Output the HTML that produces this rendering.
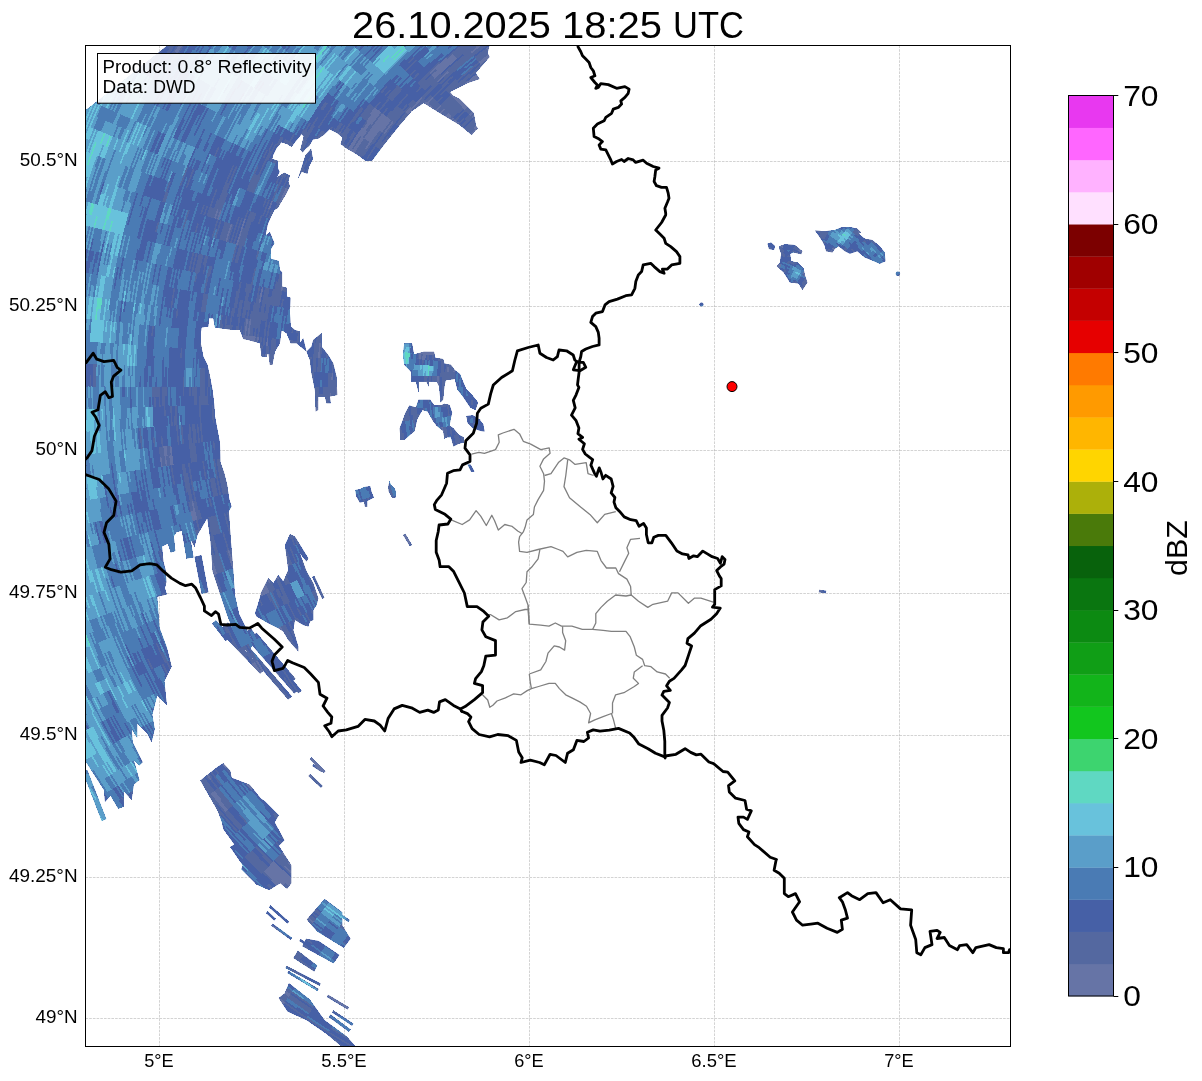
<!DOCTYPE html>
<html><head><meta charset="utf-8"><style>
html,body{margin:0;padding:0;background:#fff;}
svg{display:block;}
text{font-family:"Liberation Sans",sans-serif;}
.t{opacity:0.999;}
</style></head><body>
<svg width="1202" height="1081" viewBox="0 0 1202 1081">
<rect width="1202" height="1081" fill="#fff"/>
<defs>
<clipPath id="ax"><rect x="85.5" y="45.5" width="925" height="1001"/></clipPath>
<clipPath id="m">
<polygon points="168,45 489.6,45 487.6,53 489.6,57 475.7,73 479.6,79 467.7,83 447.7,93 459.7,99 473.7,113 476.7,129 471.7,135 459.7,125 439.7,113 423.7,103 411.8,111 399.8,125 383.8,145 371.8,161 365.8,161 357.8,155 345.9,148 340.7,144.1 342.5,137.6 337,133 329.6,129.3 324,134.8 318.5,138.5 312.9,139.4 309.2,145.9 305.5,148.7 302.7,152.4 300.4,149.6 303.7,136.7 301.8,133.9 296.3,140.4 291.6,146.8 287,144.1 281.5,142.2 276.8,147.8 273.1,155.2 272.2,158.9 277.8,160.7 277.8,168.1 279.6,171.8 276.8,177.4 284.2,172.7 289.8,175.5 288.4,181.1 289.8,186.6 286.1,194 280.5,203.3 277.8,207.9 274.4,210 271,216.7 267.7,224.4 265.5,235.5 269.9,232.2 274.4,243.3 271,248.9 271,258.8 278.8,261.1 279.9,270 282.1,272.2 282.1,286.6 286.6,287.7 286.6,296.6 290.5,297.7 289.9,312.1 290.7,326.6 294.9,330 299.9,331.6 299.9,343.3 303.2,338.3 306.5,351.6 296.5,343.3 290.7,343.3 286.6,333.3 281.6,330 279.9,343.3 274.9,351.6 272.4,364.9 269.9,364.9 268.2,351.6 266.6,356.6 261.6,356.6 259.9,343.3 248.3,340 243.3,339.1 239.9,330 233.3,330 215,327.5 213.3,318.3 209.1,318.3 208.3,326.6 201.6,327.5 200.8,333.3 200.8,343.3 203.3,356.6 207.5,365 210,376.6 212.5,389.9 214.1,403.2 215,416.6 217.5,429.9 220,443.2 220.4,462.2 224.1,472.6 227.1,484.4 229.3,499.2 231.5,506.6 227.1,514 221.2,517 215.3,512.5 209.3,514 207.9,517 197.5,534.7 194.5,546.6 188.6,536.2 185.7,530.3 176.8,531.8 173.8,536.2 175.3,551 170.8,552.5 167.9,543.6 162,546.6 163.4,561.4 165.7,570.3 166.4,582.1 164.9,588 166.8,594.4 157.2,596.8 159.6,628.1 166.8,647.3 171.6,666.6 164.4,681 166.8,705.1 157.2,695.4 152.3,714.7 154.7,729.1 151.6,742.2 147.2,733.3 137.2,723.3 137.2,737.8 131.6,728.9 132.7,742.2 142.7,762.2 139.4,765.5 133.8,760 139.4,780 133.8,784.4 131.6,799.9 123.8,791 123.8,806.6 118.3,808.8 110.5,795.5 105,802.1 104,790 86,762 85,762 85,110 88.3,108.2"/>
<polygon points="306.5,351.6 311.5,346.6 313.2,340 321.5,333.3 321.5,346.6 328.2,355 333.2,363.3 336.5,376.6 337.3,394.9 329.9,396.6 330.7,403.2 326.5,403.2 324.9,396.6 318.2,396.6 318.2,409.9 315.7,411.6 314.9,389.9 311.5,373.3 309.9,360"/>
<polygon points="298.1,178.3 305.5,155.2 311.1,148.7 312.9,158.9 309.2,166.3 307.4,173.7 301.8,171.8"/>
<polygon points="290,534.2 294.9,536.6 308.3,558.3 306.6,561.6 299.9,553.3 306.6,571.6 313.3,583.3 318.3,598.3 316.6,604.9 313.3,609.9 313.3,619.9 309.9,621.6 308.3,626.6 303.3,624.9 294.9,619.9 293.3,629.9 298.3,646.5 298.3,651.5 288.3,639.9 283.3,631.6 278.3,628.2 268.3,623.2 256.6,616.6 255,613.2 258.3,603.2 261.6,591.6 268.3,578.3 273.3,583.3 278.3,574.9 283.3,581.6 288.3,569.9 285,545"/>
<polygon points="223.3,763.2 230.2,770.8 231.6,777.8 249.7,784.7 260.8,798.6 264.9,801.3 278.8,815.2 274.6,822.2 284.4,840.2 278.8,845.7 291.3,865.2 291.3,883.2 287.1,888.8 280.2,883.2 269.1,890.1 256.6,884.6 241.3,869.3 242.7,865.2 230.2,847.1 234.4,844.4 223.3,829.1 221.9,822.2 217.8,811.1 206.7,791.6 200.4,780.5 205.3,776.4 210.8,772.2 217.8,766.7"/>
<polygon points="306.8,919.6 324.6,898.9 342.3,912.2 342.3,925.5 350.5,938.8 343.8,947.7 329,938.8 317.2,931.4"/>
<polygon points="306.1,938.8 318.6,941.1 339.4,955.1 333.5,963.3 302.4,946.2"/>
<polygon points="297.9,950.7 317.2,965.5 314.2,971.4 293.5,958.1"/>
<polygon points="289,983.3 309.8,999.5 324.6,1020.3 334.9,1027.7 346.8,1036.5 356,1047 342.3,1047 326,1033.6 306.8,1020.3 287.6,1011.4 278.7,998.1 284.6,993.6"/>
<polygon points="404.2,343.4 412,343.4 414,354.4 423.7,351.8 434,351.8 435.3,357.7 443.1,359 444.4,363.5 450.9,364.8 454.8,370 460,373.9 462.5,380.3 466.4,389.4 472.9,395.9 478.1,402.4 475.5,410.1 470.3,407.5 462.5,395.9 457.4,389.4 454.8,379 445.7,380.3 444.4,386.8 443.1,399.8 440.5,402.4 439.2,386.8 436.6,381.6 428.9,381.6 428.9,386.8 426.3,381.6 418.5,381.6 418.5,392 415.9,381.6 411.4,381.6 411.4,372.6 409.4,370 404.2,364.8 403,354.4"/>
<polygon points="418.5,399.8 430.2,399.8 434,405 441.8,405 444.4,403.7 449.6,405 452.2,412.7 450.9,417.9 449.6,425.7 453.5,428.3 458.7,434.7 463.8,437.3 463.8,442.5 458.7,443.8 453.5,446.4 450.9,437.3 447,437.3 444.4,438.6 443.1,430.9 436.6,425.7 432.7,420.5 427.6,411.4 422.4,410.1 417.2,419.2 414.6,430.9 404.2,439.9 400.4,439.9 399.7,428.3 401.7,423.1 405.5,412.7 409.4,405.6 415.9,407.5"/>
<polygon points="466.4,416 472.9,415.3 479.4,419.2 483.3,424.4 484.6,431.5 480.7,430.9 472.9,428.3 467.7,423.1"/>
<polygon points="467.5,464.5 470.5,464.5 474.5,471.5 471,471.5"/>
<polygon points="355.4,490 359.8,489.2 364.2,487 370.2,486.3 371.6,492.2 373.9,497.4 367.2,501.1 367.2,507 365,507 364.2,501.8 359.8,502.6 356.1,495.9"/>
<polygon points="389.4,481.1 390.9,484.8 394.6,488.5 396.1,492.2 395.3,498.1 392.4,498.1 388.7,491.5 388.3,487"/>
<polygon points="779.3,246.2 785,244.3 794.9,245 802.4,251.2 801.2,254.3 793.7,252.4 790,253.7 791.2,261.2 797.4,262.4 803.7,268.7 804.9,274.9 807.4,282.4 802.4,289.9 798.7,283.6 790,282.4 783.7,272.4 776.8,266.2 780,262.4 781.2,253.7 779.3,248.7"/>
<polygon points="767.5,243.7 771,242.5 775,246 774,250 769,249"/>
<polygon points="814.9,230.6 824.9,231.2 834.9,230 841.1,227.5 849.9,226.9 857.3,228.7 861.1,232.5 858.6,233.7 864.8,238.7 872.3,240 879.8,246.2 884.8,252.4 885.4,261.2 879.8,263.7 871.1,259.9 864.8,257.4 857.3,251.2 849.9,253.7 844.9,251.2 838.6,246.2 834.9,248.7 832.4,252.4 826.1,251.2 824.9,246.2 822.4,241.2 817.4,233.7"/>
<polygon points="206.5,512.2 228.9,512.2 230.9,540.7 233,567.2 235,595.7 239.1,614.1 247.2,630.3 253.3,642.6 250,650 247.2,650.7 241.1,642.6 233,630.3 226.8,614.1 220.7,595.7 212.6,571.3 210.5,540.7"/>
<polygon points="82.7,771.9 101.7,820.9 106.3,819.1 87.3,770.1"/>
<polygon points="181.5,528.6 186.5,558.6 193.5,557.4 188.5,527.4"/>
<polygon points="194.6,556.7 201.6,593.7 208.4,592.3 201.4,555.3"/>
<polygon points="212.6,624.1 225.6,641.1 228.4,638.9 215.4,621.9"/>
<polygon points="222.2,627.7 244.2,650.7 247.8,647.3 225.8,624.3"/>
<polygon points="247,631.4 268,661.4 272,658.6 251,628.6"/>
<polygon points="256.4,641.3 298.4,693.3 301.6,690.7 259.6,638.7"/>
<polygon points="212.2,623.7 260.2,673.7 263.8,670.3 215.8,620.3"/>
<polygon points="224.1,625.6 288.1,699.6 291.9,696.4 227.9,622.4"/>
<polygon points="238.3,629.5 294.3,693.5 297.7,690.5 241.7,626.5"/>
<polygon points="253.5,635.3 292.5,681.3 295.5,678.7 256.5,632.7"/>
<polygon points="312.2,577.1 322.2,598.8 324.4,597.8 314.4,576.1"/>
<polygon points="445.7,94.5 474,131.5 478,128.5 449.7,91.5"/>
<polygon points="309.8,759.2 323.7,773.1 325.5,771.3 311.6,757.4"/>
<polygon points="308.4,775.9 320.9,787.7 322.7,785.9 310.2,774.1"/>
<polygon points="312.3,766 321.3,772 322.7,770 313.7,764"/>
<polygon points="269,907.2 287.5,923.5 289.1,921.7 270.6,905.4"/>
<polygon points="266,913.1 274.2,920.5 275.8,918.7 267.6,911.3"/>
<polygon points="271.3,925.8 290.6,939.8 292,937.8 272.7,923.8"/>
<polygon points="326.9,996.9 347.7,1009.5 348.9,1007.3 328.1,994.7"/>
<polygon points="332,1012.4 352,1025.7 353.4,1023.7 333.4,1010.4"/>
<polygon points="328.8,1017 348.8,1031.8 350.6,1029.4 330.6,1014.6"/>
<polygon points="285.5,968.1 319.5,985.8 320.7,983.6 286.7,965.9"/>
<polygon points="287.4,973.1 317.4,991.1 318.6,988.9 288.6,970.9"/>
<polygon points="340.1,916.2 348.3,922 349.7,920 341.5,914.2"/>
<polygon points="299.3,941 329.3,961 330.7,959 300.7,939"/>
<polygon points="403.1,535 409.8,546.1 412,544.9 405.3,533.8"/>
<polygon points="818.8,592.2 825.8,593.2 826.2,590.8 819.2,589.8"/>
<circle cx="897.9" cy="273.7" r="2.2"/>
<circle cx="701.5" cy="304.5" r="2"/>
</clipPath>
</defs>
<g clip-path="url(#ax)">
<g stroke="#808080" stroke-opacity="0.5" stroke-width="0.7" stroke-dasharray="2.6 1.1" fill="none">
<line x1="85.5" y1="161.5" x2="1010.5" y2="161.5"/>
<line x1="85.5" y1="306.5" x2="1010.5" y2="306.5"/>
<line x1="85.5" y1="450.5" x2="1010.5" y2="450.5"/>
<line x1="85.5" y1="593.5" x2="1010.5" y2="593.5"/>
<line x1="85.5" y1="735.5" x2="1010.5" y2="735.5"/>
<line x1="85.5" y1="877.5" x2="1010.5" y2="877.5"/>
<line x1="85.5" y1="1018.5" x2="1010.5" y2="1018.5"/>
<line x1="159.5" y1="45.5" x2="159.5" y2="1046.5"/>
<line x1="344.5" y1="45.5" x2="344.5" y2="1046.5"/>
<line x1="529.5" y1="45.5" x2="529.5" y2="1046.5"/>
<line x1="714.5" y1="45.5" x2="714.5" y2="1046.5"/>
<line x1="899.5" y1="45.5" x2="899.5" y2="1046.5"/>
</g>
<g fill="#4e6aac" shape-rendering="crispEdges">
<polygon points="168,45 489.6,45 487.6,53 489.6,57 475.7,73 479.6,79 467.7,83 447.7,93 459.7,99 473.7,113 476.7,129 471.7,135 459.7,125 439.7,113 423.7,103 411.8,111 399.8,125 383.8,145 371.8,161 365.8,161 357.8,155 345.9,148 340.7,144.1 342.5,137.6 337,133 329.6,129.3 324,134.8 318.5,138.5 312.9,139.4 309.2,145.9 305.5,148.7 302.7,152.4 300.4,149.6 303.7,136.7 301.8,133.9 296.3,140.4 291.6,146.8 287,144.1 281.5,142.2 276.8,147.8 273.1,155.2 272.2,158.9 277.8,160.7 277.8,168.1 279.6,171.8 276.8,177.4 284.2,172.7 289.8,175.5 288.4,181.1 289.8,186.6 286.1,194 280.5,203.3 277.8,207.9 274.4,210 271,216.7 267.7,224.4 265.5,235.5 269.9,232.2 274.4,243.3 271,248.9 271,258.8 278.8,261.1 279.9,270 282.1,272.2 282.1,286.6 286.6,287.7 286.6,296.6 290.5,297.7 289.9,312.1 290.7,326.6 294.9,330 299.9,331.6 299.9,343.3 303.2,338.3 306.5,351.6 296.5,343.3 290.7,343.3 286.6,333.3 281.6,330 279.9,343.3 274.9,351.6 272.4,364.9 269.9,364.9 268.2,351.6 266.6,356.6 261.6,356.6 259.9,343.3 248.3,340 243.3,339.1 239.9,330 233.3,330 215,327.5 213.3,318.3 209.1,318.3 208.3,326.6 201.6,327.5 200.8,333.3 200.8,343.3 203.3,356.6 207.5,365 210,376.6 212.5,389.9 214.1,403.2 215,416.6 217.5,429.9 220,443.2 220.4,462.2 224.1,472.6 227.1,484.4 229.3,499.2 231.5,506.6 227.1,514 221.2,517 215.3,512.5 209.3,514 207.9,517 197.5,534.7 194.5,546.6 188.6,536.2 185.7,530.3 176.8,531.8 173.8,536.2 175.3,551 170.8,552.5 167.9,543.6 162,546.6 163.4,561.4 165.7,570.3 166.4,582.1 164.9,588 166.8,594.4 157.2,596.8 159.6,628.1 166.8,647.3 171.6,666.6 164.4,681 166.8,705.1 157.2,695.4 152.3,714.7 154.7,729.1 151.6,742.2 147.2,733.3 137.2,723.3 137.2,737.8 131.6,728.9 132.7,742.2 142.7,762.2 139.4,765.5 133.8,760 139.4,780 133.8,784.4 131.6,799.9 123.8,791 123.8,806.6 118.3,808.8 110.5,795.5 105,802.1 104,790 86,762 85,762 85,110 88.3,108.2"/>
<polygon points="306.5,351.6 311.5,346.6 313.2,340 321.5,333.3 321.5,346.6 328.2,355 333.2,363.3 336.5,376.6 337.3,394.9 329.9,396.6 330.7,403.2 326.5,403.2 324.9,396.6 318.2,396.6 318.2,409.9 315.7,411.6 314.9,389.9 311.5,373.3 309.9,360"/>
<polygon points="298.1,178.3 305.5,155.2 311.1,148.7 312.9,158.9 309.2,166.3 307.4,173.7 301.8,171.8"/>
<polygon points="290,534.2 294.9,536.6 308.3,558.3 306.6,561.6 299.9,553.3 306.6,571.6 313.3,583.3 318.3,598.3 316.6,604.9 313.3,609.9 313.3,619.9 309.9,621.6 308.3,626.6 303.3,624.9 294.9,619.9 293.3,629.9 298.3,646.5 298.3,651.5 288.3,639.9 283.3,631.6 278.3,628.2 268.3,623.2 256.6,616.6 255,613.2 258.3,603.2 261.6,591.6 268.3,578.3 273.3,583.3 278.3,574.9 283.3,581.6 288.3,569.9 285,545"/>
<polygon points="223.3,763.2 230.2,770.8 231.6,777.8 249.7,784.7 260.8,798.6 264.9,801.3 278.8,815.2 274.6,822.2 284.4,840.2 278.8,845.7 291.3,865.2 291.3,883.2 287.1,888.8 280.2,883.2 269.1,890.1 256.6,884.6 241.3,869.3 242.7,865.2 230.2,847.1 234.4,844.4 223.3,829.1 221.9,822.2 217.8,811.1 206.7,791.6 200.4,780.5 205.3,776.4 210.8,772.2 217.8,766.7"/>
<polygon points="306.8,919.6 324.6,898.9 342.3,912.2 342.3,925.5 350.5,938.8 343.8,947.7 329,938.8 317.2,931.4"/>
<polygon points="306.1,938.8 318.6,941.1 339.4,955.1 333.5,963.3 302.4,946.2"/>
<polygon points="297.9,950.7 317.2,965.5 314.2,971.4 293.5,958.1"/>
<polygon points="289,983.3 309.8,999.5 324.6,1020.3 334.9,1027.7 346.8,1036.5 356,1047 342.3,1047 326,1033.6 306.8,1020.3 287.6,1011.4 278.7,998.1 284.6,993.6"/>
<polygon points="404.2,343.4 412,343.4 414,354.4 423.7,351.8 434,351.8 435.3,357.7 443.1,359 444.4,363.5 450.9,364.8 454.8,370 460,373.9 462.5,380.3 466.4,389.4 472.9,395.9 478.1,402.4 475.5,410.1 470.3,407.5 462.5,395.9 457.4,389.4 454.8,379 445.7,380.3 444.4,386.8 443.1,399.8 440.5,402.4 439.2,386.8 436.6,381.6 428.9,381.6 428.9,386.8 426.3,381.6 418.5,381.6 418.5,392 415.9,381.6 411.4,381.6 411.4,372.6 409.4,370 404.2,364.8 403,354.4"/>
<polygon points="418.5,399.8 430.2,399.8 434,405 441.8,405 444.4,403.7 449.6,405 452.2,412.7 450.9,417.9 449.6,425.7 453.5,428.3 458.7,434.7 463.8,437.3 463.8,442.5 458.7,443.8 453.5,446.4 450.9,437.3 447,437.3 444.4,438.6 443.1,430.9 436.6,425.7 432.7,420.5 427.6,411.4 422.4,410.1 417.2,419.2 414.6,430.9 404.2,439.9 400.4,439.9 399.7,428.3 401.7,423.1 405.5,412.7 409.4,405.6 415.9,407.5"/>
<polygon points="466.4,416 472.9,415.3 479.4,419.2 483.3,424.4 484.6,431.5 480.7,430.9 472.9,428.3 467.7,423.1"/>
<polygon points="467.5,464.5 470.5,464.5 474.5,471.5 471,471.5"/>
<polygon points="355.4,490 359.8,489.2 364.2,487 370.2,486.3 371.6,492.2 373.9,497.4 367.2,501.1 367.2,507 365,507 364.2,501.8 359.8,502.6 356.1,495.9"/>
<polygon points="389.4,481.1 390.9,484.8 394.6,488.5 396.1,492.2 395.3,498.1 392.4,498.1 388.7,491.5 388.3,487"/>
<polygon points="779.3,246.2 785,244.3 794.9,245 802.4,251.2 801.2,254.3 793.7,252.4 790,253.7 791.2,261.2 797.4,262.4 803.7,268.7 804.9,274.9 807.4,282.4 802.4,289.9 798.7,283.6 790,282.4 783.7,272.4 776.8,266.2 780,262.4 781.2,253.7 779.3,248.7"/>
<polygon points="767.5,243.7 771,242.5 775,246 774,250 769,249"/>
<polygon points="814.9,230.6 824.9,231.2 834.9,230 841.1,227.5 849.9,226.9 857.3,228.7 861.1,232.5 858.6,233.7 864.8,238.7 872.3,240 879.8,246.2 884.8,252.4 885.4,261.2 879.8,263.7 871.1,259.9 864.8,257.4 857.3,251.2 849.9,253.7 844.9,251.2 838.6,246.2 834.9,248.7 832.4,252.4 826.1,251.2 824.9,246.2 822.4,241.2 817.4,233.7"/>
<polygon points="206.5,512.2 228.9,512.2 230.9,540.7 233,567.2 235,595.7 239.1,614.1 247.2,630.3 253.3,642.6 250,650 247.2,650.7 241.1,642.6 233,630.3 226.8,614.1 220.7,595.7 212.6,571.3 210.5,540.7"/>
<polygon points="82.7,771.9 101.7,820.9 106.3,819.1 87.3,770.1"/>
<polygon points="181.5,528.6 186.5,558.6 193.5,557.4 188.5,527.4"/>
<polygon points="194.6,556.7 201.6,593.7 208.4,592.3 201.4,555.3"/>
<polygon points="212.6,624.1 225.6,641.1 228.4,638.9 215.4,621.9"/>
<polygon points="222.2,627.7 244.2,650.7 247.8,647.3 225.8,624.3"/>
<polygon points="247,631.4 268,661.4 272,658.6 251,628.6"/>
<polygon points="256.4,641.3 298.4,693.3 301.6,690.7 259.6,638.7"/>
<polygon points="212.2,623.7 260.2,673.7 263.8,670.3 215.8,620.3"/>
<polygon points="224.1,625.6 288.1,699.6 291.9,696.4 227.9,622.4"/>
<polygon points="238.3,629.5 294.3,693.5 297.7,690.5 241.7,626.5"/>
<polygon points="253.5,635.3 292.5,681.3 295.5,678.7 256.5,632.7"/>
<polygon points="312.2,577.1 322.2,598.8 324.4,597.8 314.4,576.1"/>
<polygon points="445.7,94.5 474,131.5 478,128.5 449.7,91.5"/>
<polygon points="309.8,759.2 323.7,773.1 325.5,771.3 311.6,757.4"/>
<polygon points="308.4,775.9 320.9,787.7 322.7,785.9 310.2,774.1"/>
<polygon points="312.3,766 321.3,772 322.7,770 313.7,764"/>
<polygon points="269,907.2 287.5,923.5 289.1,921.7 270.6,905.4"/>
<polygon points="266,913.1 274.2,920.5 275.8,918.7 267.6,911.3"/>
<polygon points="271.3,925.8 290.6,939.8 292,937.8 272.7,923.8"/>
<polygon points="326.9,996.9 347.7,1009.5 348.9,1007.3 328.1,994.7"/>
<polygon points="332,1012.4 352,1025.7 353.4,1023.7 333.4,1010.4"/>
<polygon points="328.8,1017 348.8,1031.8 350.6,1029.4 330.6,1014.6"/>
<polygon points="285.5,968.1 319.5,985.8 320.7,983.6 286.7,965.9"/>
<polygon points="287.4,973.1 317.4,991.1 318.6,988.9 288.6,970.9"/>
<polygon points="340.1,916.2 348.3,922 349.7,920 341.5,914.2"/>
<polygon points="299.3,941 329.3,961 330.7,959 300.7,939"/>
<polygon points="403.1,535 409.8,546.1 412,544.9 405.3,533.8"/>
<polygon points="818.8,592.2 825.8,593.2 826.2,590.8 819.2,589.8"/>
<circle cx="897.9" cy="273.7" r="2.2"/>
<circle cx="701.5" cy="304.5" r="2"/>
</g>
<g clip-path="url(#m)"><g transform="translate(732.0 386.6)" fill="none" stroke-width="2.0" shape-rendering="crispEdges">
<circle r="81.6" pathLength="360" stroke="#5468a0" stroke-dasharray="0 247 4 109"/>
<circle r="83.2" pathLength="360" stroke="#4660a6" stroke-dasharray="0 247 1 2 1 109"/>
<circle r="83.2" pathLength="360" stroke="#5468a0" stroke-dasharray="0 248 2 1 2 107"/>
<circle r="84.8" pathLength="360" stroke="#4660a6" stroke-dasharray="0 246 1 2 1 110"/>
<circle r="84.8" pathLength="360" stroke="#4a7bb4" stroke-dasharray="0 247 2 111"/>
<circle r="84.8" pathLength="360" stroke="#5468a0" stroke-dasharray="0 250 4 106"/>
<circle r="86.4" pathLength="360" stroke="#5468a0" stroke-dasharray="0 245 1 6 2 106"/>
<circle r="86.4" pathLength="360" stroke="#4660a6" stroke-dasharray="0 246 3 1 2 2 1 105"/>
<circle r="86.4" pathLength="360" stroke="#4a7bb4" stroke-dasharray="0 249 1 110"/>
<circle r="88" pathLength="360" stroke="#5468a0" stroke-dasharray="0 245 1 5 3 106"/>
<circle r="88" pathLength="360" stroke="#4660a6" stroke-dasharray="0 246 5 109"/>
<circle r="89.6" pathLength="360" stroke="#5468a0" stroke-dasharray="0 245 1 6 1 107"/>
<circle r="89.6" pathLength="360" stroke="#4660a6" stroke-dasharray="0 246 6 108"/>
<circle r="91.2" pathLength="360" stroke="#4660a6" stroke-dasharray="0 245 1 2 4 108"/>
<circle r="91.2" pathLength="360" stroke="#4a7bb4" stroke-dasharray="0 246 2 112"/>
<circle r="91.2" pathLength="360" stroke="#5468a0" stroke-dasharray="0 252 1 107"/>
<circle r="92.8" pathLength="360" stroke="#5468a0" stroke-dasharray="0 248 4 108"/>
<circle r="94.4" pathLength="360" stroke="#5468a0" stroke-dasharray="0 250 2 108"/>
<circle r="115.2" pathLength="360" stroke="#6674a6" stroke-dasharray="0 300 1 59"/>
<circle r="116.8" pathLength="360" stroke="#6674a6" stroke-dasharray="0 297 5 2 2 54"/>
<circle r="116.8" pathLength="360" stroke="#5468a0" stroke-dasharray="0 306 2 52"/>
<circle r="118.4" pathLength="360" stroke="#5468a0" stroke-dasharray="0 296 1 1 2 2 6 52"/>
<circle r="118.4" pathLength="360" stroke="#4660a6" stroke-dasharray="0 297 1 62"/>
<circle r="118.4" pathLength="360" stroke="#6674a6" stroke-dasharray="0 300 2 58"/>
<circle r="120" pathLength="360" stroke="#5468a0" stroke-dasharray="0 295 2 3 1 2 5 52"/>
<circle r="120" pathLength="360" stroke="#4660a6" stroke-dasharray="0 297 3 2 1 57"/>
<circle r="120" pathLength="360" stroke="#6674a6" stroke-dasharray="0 301 1 58"/>
<circle r="121.6" pathLength="360" stroke="#4660a6" stroke-dasharray="0 293 3 1 2 61"/>
<circle r="121.6" pathLength="360" stroke="#5468a0" stroke-dasharray="0 296 1 3 8 52"/>
<circle r="121.6" pathLength="360" stroke="#4a7bb4" stroke-dasharray="0 299 1 60"/>
<circle r="123.2" pathLength="360" stroke="#5468a0" stroke-dasharray="0 291 1 9 1 3 3 52"/>
<circle r="123.2" pathLength="360" stroke="#4a7bb4" stroke-dasharray="0 292 4 1 3 60"/>
<circle r="123.2" pathLength="360" stroke="#4660a6" stroke-dasharray="0 296 1 3 1 1 3 55"/>
<circle r="124.8" pathLength="360" stroke="#6674a6" stroke-dasharray="0 289 3 68"/>
<circle r="124.8" pathLength="360" stroke="#4660a6" stroke-dasharray="0 292 4 6 2 56"/>
<circle r="124.8" pathLength="360" stroke="#4a7bb4" stroke-dasharray="0 296 2 1 3 58"/>
<circle r="124.8" pathLength="360" stroke="#5a9ec9" stroke-dasharray="0 298 1 61"/>
<circle r="124.8" pathLength="360" stroke="#5468a0" stroke-dasharray="0 304 4 52"/>
<circle r="126.4" pathLength="360" stroke="#6674a6" stroke-dasharray="0 288 4 68"/>
<circle r="126.4" pathLength="360" stroke="#4660a6" stroke-dasharray="0 292 2 1 2 5 2 56"/>
<circle r="126.4" pathLength="360" stroke="#5468a0" stroke-dasharray="0 294 1 9 4 52"/>
<circle r="126.4" pathLength="360" stroke="#4a7bb4" stroke-dasharray="0 297 1 3 1 58"/>
<circle r="126.4" pathLength="360" stroke="#5a9ec9" stroke-dasharray="0 298 3 59"/>
<circle r="128" pathLength="360" stroke="#6674a6" stroke-dasharray="0 288 4 68"/>
<circle r="128" pathLength="360" stroke="#4660a6" stroke-dasharray="0 292 2 1 1 6 2 56"/>
<circle r="128" pathLength="360" stroke="#5468a0" stroke-dasharray="0 294 1 9 4 52"/>
<circle r="128" pathLength="360" stroke="#4a7bb4" stroke-dasharray="0 296 2 3 1 58"/>
<circle r="128" pathLength="360" stroke="#5a9ec9" stroke-dasharray="0 298 3 59"/>
<circle r="129.6" pathLength="360" stroke="#6674a6" stroke-dasharray="0 289 3 13 1 54"/>
<circle r="129.6" pathLength="360" stroke="#4a7bb4" stroke-dasharray="0 292 2 2 2 3 1 58"/>
<circle r="129.6" pathLength="360" stroke="#4660a6" stroke-dasharray="0 294 2 6 2 56"/>
<circle r="129.6" pathLength="360" stroke="#5a9ec9" stroke-dasharray="0 298 3 59"/>
<circle r="129.6" pathLength="360" stroke="#5468a0" stroke-dasharray="0 304 1 1 2 52"/>
<circle r="131.2" pathLength="360" stroke="#6674a6" stroke-dasharray="0 289 3 68"/>
<circle r="131.2" pathLength="360" stroke="#4a7bb4" stroke-dasharray="0 292 2 1 3 4 2 56"/>
<circle r="131.2" pathLength="360" stroke="#4660a6" stroke-dasharray="0 294 1 65"/>
<circle r="131.2" pathLength="360" stroke="#5a9ec9" stroke-dasharray="0 298 1 2 1 58"/>
<circle r="131.2" pathLength="360" stroke="#68c2dc" stroke-dasharray="0 299 2 59"/>
<circle r="131.2" pathLength="360" stroke="#5468a0" stroke-dasharray="0 304 4 52"/>
<circle r="132.8" pathLength="360" stroke="#5468a0" stroke-dasharray="0 289 2 11 1 57"/>
<circle r="132.8" pathLength="360" stroke="#4660a6" stroke-dasharray="0 291 5 8 4 52"/>
<circle r="132.8" pathLength="360" stroke="#4a7bb4" stroke-dasharray="0 296 1 4 1 58"/>
<circle r="132.8" pathLength="360" stroke="#5a9ec9" stroke-dasharray="0 297 4 59"/>
<circle r="132.8" pathLength="360" stroke="#6674a6" stroke-dasharray="0 303 1 56"/>
<circle r="134.4" pathLength="360" stroke="#5468a0" stroke-dasharray="0 289 2 69"/>
<circle r="134.4" pathLength="360" stroke="#4660a6" stroke-dasharray="0 291 1 12 2 54"/>
<circle r="134.4" pathLength="360" stroke="#4a7bb4" stroke-dasharray="0 292 5 4 1 58"/>
<circle r="134.4" pathLength="360" stroke="#5a9ec9" stroke-dasharray="0 297 4 59"/>
<circle r="134.4" pathLength="360" stroke="#6674a6" stroke-dasharray="0 302 2 56"/>
<circle r="136" pathLength="360" stroke="#5468a0" stroke-dasharray="0 289 2 3 1 65"/>
<circle r="136" pathLength="360" stroke="#4660a6" stroke-dasharray="0 291 3 1 3 6 1 55"/>
<circle r="136" pathLength="360" stroke="#4a7bb4" stroke-dasharray="0 298 4 58"/>
<circle r="136" pathLength="360" stroke="#6674a6" stroke-dasharray="0 302 2 56"/>
<circle r="137.6" pathLength="360" stroke="#4660a6" stroke-dasharray="0 286 1 3 4 3 1 3 1 58"/>
<circle r="137.6" pathLength="360" stroke="#5468a0" stroke-dasharray="0 289 1 4 3 7 1 55"/>
<circle r="137.6" pathLength="360" stroke="#4a7bb4" stroke-dasharray="0 298 3 59"/>
<circle r="137.6" pathLength="360" stroke="#6674a6" stroke-dasharray="0 302 2 56"/>
<circle r="139.2" pathLength="360" stroke="#4a7bb4" stroke-dasharray="0 284 2 74"/>
<circle r="139.2" pathLength="360" stroke="#4660a6" stroke-dasharray="0 286 10 2 4 58"/>
<circle r="139.2" pathLength="360" stroke="#5468a0" stroke-dasharray="0 296 2 62"/>
<circle r="139.2" pathLength="360" stroke="#6674a6" stroke-dasharray="0 302 2 56"/>
<circle r="140.8" pathLength="360" stroke="#5468a0" stroke-dasharray="0 283 3 2 4 4 2 62"/>
<circle r="140.8" pathLength="360" stroke="#4660a6" stroke-dasharray="0 286 2 4 4 2 4 58"/>
<circle r="140.8" pathLength="360" stroke="#6674a6" stroke-dasharray="0 302 1 57"/>
<circle r="142.4" pathLength="360" stroke="#5468a0" stroke-dasharray="0 283 2 3 4 1 1 66"/>
<circle r="142.4" pathLength="360" stroke="#4660a6" stroke-dasharray="0 285 3 4 1 1 6 60"/>
<circle r="144" pathLength="360" stroke="#5468a0" stroke-dasharray="0 282 4 2 3 5 2 62"/>
<circle r="144" pathLength="360" stroke="#4660a6" stroke-dasharray="0 286 2 3 5 2 1 61"/>
<circle r="145.6" pathLength="360" stroke="#5468a0" stroke-dasharray="0 282 2 5 2 69"/>
<circle r="145.6" pathLength="360" stroke="#4660a6" stroke-dasharray="0 284 4 3 8 61"/>
<circle r="145.6" pathLength="360" stroke="#6674a6" stroke-dasharray="0 288 1 71"/>
<circle r="147.2" pathLength="360" stroke="#4660a6" stroke-dasharray="0 282 6 2 2 1 1 1 3 62"/>
<circle r="147.2" pathLength="360" stroke="#5468a0" stroke-dasharray="0 288 2 8 1 61"/>
<circle r="147.2" pathLength="360" stroke="#4a7bb4" stroke-dasharray="0 292 1 1 1 65"/>
<circle r="148.8" pathLength="360" stroke="#4660a6" stroke-dasharray="0 282 4 4 4 66"/>
<circle r="148.8" pathLength="360" stroke="#5468a0" stroke-dasharray="0 286 2 6 2 64"/>
<circle r="148.8" pathLength="360" stroke="#6674a6" stroke-dasharray="0 288 2 6 3 61"/>
<circle r="150.4" pathLength="360" stroke="#4660a6" stroke-dasharray="0 283 3 4 7 63"/>
<circle r="150.4" pathLength="360" stroke="#5468a0" stroke-dasharray="0 286 2 9 2 61"/>
<circle r="150.4" pathLength="360" stroke="#6674a6" stroke-dasharray="0 288 2 70"/>
<circle r="152" pathLength="360" stroke="#4660a6" stroke-dasharray="0 283 1 6 4 66"/>
<circle r="152" pathLength="360" stroke="#5468a0" stroke-dasharray="0 284 2 8 2 64"/>
<circle r="152" pathLength="360" stroke="#6674a6" stroke-dasharray="0 288 2 6 4 60"/>
<circle r="153.6" pathLength="360" stroke="#5468a0" stroke-dasharray="0 289 1 2 1 1 2 2 2 60"/>
<circle r="153.6" pathLength="360" stroke="#4660a6" stroke-dasharray="0 290 2 1 1 66"/>
<circle r="153.6" pathLength="360" stroke="#6674a6" stroke-dasharray="0 296 2 62"/>
<circle r="155.2" pathLength="360" stroke="#6674a6" stroke-dasharray="0 289 1 6 2 62"/>
<circle r="155.2" pathLength="360" stroke="#4660a6" stroke-dasharray="0 290 4 66"/>
<circle r="155.2" pathLength="360" stroke="#5468a0" stroke-dasharray="0 294 2 2 1 61"/>
<circle r="156.8" pathLength="360" stroke="#4660a6" stroke-dasharray="0 291 3 66"/>
<circle r="156.8" pathLength="360" stroke="#5468a0" stroke-dasharray="0 294 3 63"/>
<circle r="158.4" pathLength="360" stroke="#4660a6" stroke-dasharray="0 292 2 66"/>
<circle r="158.4" pathLength="360" stroke="#5468a0" stroke-dasharray="0 294 1 65"/>
<circle r="161.6" pathLength="360" stroke="#5468a0" stroke-dasharray="0 303 3 54"/>
<circle r="161.6" pathLength="360" stroke="#6674a6" stroke-dasharray="0 306 1 53"/>
<circle r="163.2" pathLength="360" stroke="#5468a0" stroke-dasharray="0 303 3 54"/>
<circle r="163.2" pathLength="360" stroke="#6674a6" stroke-dasharray="0 306 1 53"/>
<circle r="164.8" pathLength="360" stroke="#5468a0" stroke-dasharray="0 302 4 54"/>
<circle r="164.8" pathLength="360" stroke="#6674a6" stroke-dasharray="0 306 2 52"/>
<circle r="166.4" pathLength="360" stroke="#5468a0" stroke-dasharray="0 301 5 54"/>
<circle r="166.4" pathLength="360" stroke="#6674a6" stroke-dasharray="0 306 2 52"/>
<circle r="168" pathLength="360" stroke="#5468a0" stroke-dasharray="0 300 1 4 1 54"/>
<circle r="168" pathLength="360" stroke="#4660a6" stroke-dasharray="0 301 4 55"/>
<circle r="168" pathLength="360" stroke="#6674a6" stroke-dasharray="0 306 2 52"/>
<circle r="169.6" pathLength="360" stroke="#4660a6" stroke-dasharray="0 299 1 2 4 54"/>
<circle r="169.6" pathLength="360" stroke="#5468a0" stroke-dasharray="0 300 2 4 1 53"/>
<circle r="169.6" pathLength="360" stroke="#6674a6" stroke-dasharray="0 307 1 52"/>
<circle r="171.2" pathLength="360" stroke="#5468a0" stroke-dasharray="0 299 4 57"/>
<circle r="171.2" pathLength="360" stroke="#4660a6" stroke-dasharray="0 303 3 54"/>
<circle r="171.2" pathLength="360" stroke="#6674a6" stroke-dasharray="0 306 2 52"/>
<circle r="172.8" pathLength="360" stroke="#4660a6" stroke-dasharray="0 298 1 2 1 2 2 54"/>
<circle r="172.8" pathLength="360" stroke="#5468a0" stroke-dasharray="0 299 2 5 3 1 1 49"/>
<circle r="172.8" pathLength="360" stroke="#4a7bb4" stroke-dasharray="0 302 2 56"/>
<circle r="172.8" pathLength="360" stroke="#6674a6" stroke-dasharray="0 309 1 50"/>
<circle r="174.4" pathLength="360" stroke="#4660a6" stroke-dasharray="0 296 4 2 1 4 5 48"/>
<circle r="174.4" pathLength="360" stroke="#5468a0" stroke-dasharray="0 300 2 10 1 47"/>
<circle r="174.4" pathLength="360" stroke="#4a7bb4" stroke-dasharray="0 303 4 53"/>
<circle r="176" pathLength="360" stroke="#4660a6" stroke-dasharray="0 296 4 2 1 4 1 52"/>
<circle r="176" pathLength="360" stroke="#5468a0" stroke-dasharray="0 300 2 6 4 48"/>
<circle r="176" pathLength="360" stroke="#4a7bb4" stroke-dasharray="0 303 4 53"/>
<circle r="176" pathLength="360" stroke="#6674a6" stroke-dasharray="0 312 1 47"/>
<circle r="177.6" pathLength="360" stroke="#5468a0" stroke-dasharray="0 297 5 7 1 2 1 47"/>
<circle r="177.6" pathLength="360" stroke="#4660a6" stroke-dasharray="0 302 1 3 3 1 2 48"/>
<circle r="177.6" pathLength="360" stroke="#4a7bb4" stroke-dasharray="0 303 3 54"/>
<circle r="179.2" pathLength="360" stroke="#4660a6" stroke-dasharray="0 297 1 4 1 5 1 1 2 48"/>
<circle r="179.2" pathLength="360" stroke="#5468a0" stroke-dasharray="0 298 4 7 1 2 2 46"/>
<circle r="179.2" pathLength="360" stroke="#4a7bb4" stroke-dasharray="0 303 3 1 1 52"/>
<circle r="179.2" pathLength="360" stroke="#5a9ec9" stroke-dasharray="0 306 1 53"/>
<circle r="180.8" pathLength="360" stroke="#4660a6" stroke-dasharray="0 297 1 1 1 10 5 45"/>
<circle r="180.8" pathLength="360" stroke="#4a7bb4" stroke-dasharray="0 298 1 3 1 5 2 50"/>
<circle r="180.8" pathLength="360" stroke="#5468a0" stroke-dasharray="0 300 2 58"/>
<circle r="180.8" pathLength="360" stroke="#5a9ec9" stroke-dasharray="0 303 3 1 1 52"/>
<circle r="180.8" pathLength="360" stroke="#68c2dc" stroke-dasharray="0 306 1 53"/>
<circle r="182.4" pathLength="360" stroke="#4660a6" stroke-dasharray="0 298 2 1 1 8 1 2 3 44"/>
<circle r="182.4" pathLength="360" stroke="#5468a0" stroke-dasharray="0 300 1 10 2 3 1 43"/>
<circle r="182.4" pathLength="360" stroke="#4a7bb4" stroke-dasharray="0 302 1 5 2 50"/>
<circle r="182.4" pathLength="360" stroke="#5a9ec9" stroke-dasharray="0 303 3 1 1 52"/>
<circle r="182.4" pathLength="360" stroke="#68c2dc" stroke-dasharray="0 306 1 53"/>
<circle r="184" pathLength="360" stroke="#4660a6" stroke-dasharray="0 299 1 10 3 1 4 42"/>
<circle r="184" pathLength="360" stroke="#5468a0" stroke-dasharray="0 300 2 11 1 46"/>
<circle r="184" pathLength="360" stroke="#4a7bb4" stroke-dasharray="0 302 1 5 2 50"/>
<circle r="184" pathLength="360" stroke="#5a9ec9" stroke-dasharray="0 303 3 54"/>
<circle r="184" pathLength="360" stroke="#68c2dc" stroke-dasharray="0 306 2 52"/>
<circle r="185.6" pathLength="360" stroke="#4660a6" stroke-dasharray="0 300 2 7 7 44"/>
<circle r="185.6" pathLength="360" stroke="#4a7bb4" stroke-dasharray="0 302 2 4 1 51"/>
<circle r="185.6" pathLength="360" stroke="#5a9ec9" stroke-dasharray="0 304 1 2 1 52"/>
<circle r="185.6" pathLength="360" stroke="#68c2dc" stroke-dasharray="0 305 2 53"/>
<circle r="185.6" pathLength="360" stroke="#5468a0" stroke-dasharray="0 316 3 41"/>
<circle r="187.2" pathLength="360" stroke="#5468a0" stroke-dasharray="0 301 1 58"/>
<circle r="187.2" pathLength="360" stroke="#4a7bb4" stroke-dasharray="0 302 1 5 2 5 1 44"/>
<circle r="187.2" pathLength="360" stroke="#5a9ec9" stroke-dasharray="0 303 3 54"/>
<circle r="187.2" pathLength="360" stroke="#68c2dc" stroke-dasharray="0 306 2 52"/>
<circle r="187.2" pathLength="360" stroke="#4660a6" stroke-dasharray="0 310 5 1 4 40"/>
<circle r="188.8" pathLength="360" stroke="#4a7bb4" stroke-dasharray="0 302 3 4 1 2 2 4 3 39"/>
<circle r="188.8" pathLength="360" stroke="#5a9ec9" stroke-dasharray="0 305 1 2 1 51"/>
<circle r="188.8" pathLength="360" stroke="#5fd8c2" stroke-dasharray="0 306 1 53"/>
<circle r="188.8" pathLength="360" stroke="#68c2dc" stroke-dasharray="0 307 1 52"/>
<circle r="188.8" pathLength="360" stroke="#4660a6" stroke-dasharray="0 310 2 2 4 42"/>
<circle r="190.4" pathLength="360" stroke="#4a7bb4" stroke-dasharray="0 302 3 3 2 1 2 1 1 1 5 39"/>
<circle r="190.4" pathLength="360" stroke="#5a9ec9" stroke-dasharray="0 305 1 7 1 1 1 44"/>
<circle r="190.4" pathLength="360" stroke="#68c2dc" stroke-dasharray="0 306 2 52"/>
<circle r="190.4" pathLength="360" stroke="#4660a6" stroke-dasharray="0 310 1 49"/>
<circle r="192" pathLength="360" stroke="#4a7bb4" stroke-dasharray="0 303 1 1 1 3 13 38"/>
<circle r="192" pathLength="360" stroke="#4660a6" stroke-dasharray="0 304 1 55"/>
<circle r="192" pathLength="360" stroke="#68c2dc" stroke-dasharray="0 306 2 52"/>
<circle r="192" pathLength="360" stroke="#5a9ec9" stroke-dasharray="0 308 1 51"/>
<circle r="193.6" pathLength="360" stroke="#4a7bb4" stroke-dasharray="0 303 1 1 1 2 3 2 4 1 2 40"/>
<circle r="193.6" pathLength="360" stroke="#4660a6" stroke-dasharray="0 304 1 6 2 4 1 2 2 38"/>
<circle r="193.6" pathLength="360" stroke="#5a9ec9" stroke-dasharray="0 306 2 52"/>
<circle r="195.2" pathLength="360" stroke="#4a7bb4" stroke-dasharray="0 303 1 4 1 3 3 1 1 1 3 39"/>
<circle r="195.2" pathLength="360" stroke="#4660a6" stroke-dasharray="0 304 2 3 3 5 1 3 1 2 2 34"/>
<circle r="195.2" pathLength="360" stroke="#5a9ec9" stroke-dasharray="0 306 2 7 1 44"/>
<circle r="195.2" pathLength="360" stroke="#6674a6" stroke-dasharray="0 326 1 33"/>
<circle r="196.8" pathLength="360" stroke="#4a7bb4" stroke-dasharray="0 304 4 6 1 2 1 1 1 4 2 34"/>
<circle r="196.8" pathLength="360" stroke="#5468a0" stroke-dasharray="0 308 2 2 1 14 1 32"/>
<circle r="196.8" pathLength="360" stroke="#4660a6" stroke-dasharray="0 310 2 1 1 6 2 4 1 33"/>
<circle r="196.8" pathLength="360" stroke="#5a9ec9" stroke-dasharray="0 315 2 1 1 41"/>
<circle r="198.4" pathLength="360" stroke="#4660a6" stroke-dasharray="0 304 3 3 4 5 3 38"/>
<circle r="198.4" pathLength="360" stroke="#4a7bb4" stroke-dasharray="0 307 1 6 5 5 2 34"/>
<circle r="198.4" pathLength="360" stroke="#5468a0" stroke-dasharray="0 308 2 16 2 32"/>
<circle r="200" pathLength="360" stroke="#4660a6" stroke-dasharray="0 305 3 5 1 6 2 4 2 32"/>
<circle r="200" pathLength="360" stroke="#5468a0" stroke-dasharray="0 308 1 1 3 47"/>
<circle r="200" pathLength="360" stroke="#6674a6" stroke-dasharray="0 309 1 50"/>
<circle r="200" pathLength="360" stroke="#4a7bb4" stroke-dasharray="0 314 4 1 1 4 2 34"/>
<circle r="200" pathLength="360" stroke="#5a9ec9" stroke-dasharray="0 318 1 41"/>
<circle r="201.6" pathLength="360" stroke="#4a7bb4" stroke-dasharray="0 305 1 12 1 6 1 34"/>
<circle r="201.6" pathLength="360" stroke="#4660a6" stroke-dasharray="0 306 2 7 3 1 3 2 1 35"/>
<circle r="201.6" pathLength="360" stroke="#5468a0" stroke-dasharray="0 308 4 1 2 11 1 33"/>
<circle r="201.6" pathLength="360" stroke="#6674a6" stroke-dasharray="0 312 1 47"/>
<circle r="203.2" pathLength="360" stroke="#4660a6" stroke-dasharray="0 305 3 7 3 2 1 3 1 35"/>
<circle r="203.2" pathLength="360" stroke="#5468a0" stroke-dasharray="0 308 1 1 3 1 1 11 1 33"/>
<circle r="203.2" pathLength="360" stroke="#6674a6" stroke-dasharray="0 309 1 3 1 46"/>
<circle r="203.2" pathLength="360" stroke="#4a7bb4" stroke-dasharray="0 318 2 5 1 34"/>
<circle r="204.8" pathLength="360" stroke="#5468a0" stroke-dasharray="0 307 1 8 2 42"/>
<circle r="204.8" pathLength="360" stroke="#4660a6" stroke-dasharray="0 308 2 16 1 33"/>
<circle r="204.8" pathLength="360" stroke="#6674a6" stroke-dasharray="0 312 4 44"/>
<circle r="204.8" pathLength="360" stroke="#4a7bb4" stroke-dasharray="0 318 2 4 2 34"/>
<circle r="206.4" pathLength="360" stroke="#6674a6" stroke-dasharray="0 314 1 45"/>
<circle r="206.4" pathLength="360" stroke="#5468a0" stroke-dasharray="0 315 3 42"/>
<circle r="206.4" pathLength="360" stroke="#4a7bb4" stroke-dasharray="0 318 2 5 1 34"/>
<circle r="206.4" pathLength="360" stroke="#4660a6" stroke-dasharray="0 326 1 33"/>
<circle r="217.6" pathLength="360" stroke="#5468a0" stroke-dasharray="0 66 1 293"/>
<circle r="219.2" pathLength="360" stroke="#4660a6" stroke-dasharray="0 65 2 293"/>
<circle r="219.2" pathLength="360" stroke="#5468a0" stroke-dasharray="0 67 1 292"/>
<circle r="220.8" pathLength="360" stroke="#5468a0" stroke-dasharray="0 65 1 294"/>
<circle r="220.8" pathLength="360" stroke="#6674a6" stroke-dasharray="0 66 2 292"/>
<circle r="222.4" pathLength="360" stroke="#6674a6" stroke-dasharray="0 64 4 292"/>
<circle r="224" pathLength="360" stroke="#5468a0" stroke-dasharray="0 64 1 1 2 292"/>
<circle r="224" pathLength="360" stroke="#4660a6" stroke-dasharray="0 65 1 294"/>
<circle r="225.6" pathLength="360" stroke="#4660a6" stroke-dasharray="0 64 2 294"/>
<circle r="225.6" pathLength="360" stroke="#5468a0" stroke-dasharray="0 66 1 293"/>
<circle r="225.6" pathLength="360" stroke="#6674a6" stroke-dasharray="0 67 1 292"/>
<circle r="227.2" pathLength="360" stroke="#5468a0" stroke-dasharray="0 64 2 1 1 292"/>
<circle r="227.2" pathLength="360" stroke="#6674a6" stroke-dasharray="0 66 1 293"/>
<circle r="228.8" pathLength="360" stroke="#5468a0" stroke-dasharray="0 64 3 293"/>
<circle r="228.8" pathLength="360" stroke="#6674a6" stroke-dasharray="0 67 1 292"/>
<circle r="230.4" pathLength="360" stroke="#5468a0" stroke-dasharray="0 65 2 293"/>
<circle r="246.4" pathLength="360" stroke="#4660a6" stroke-dasharray="0 169 2 189"/>
<circle r="248" pathLength="360" stroke="#5468a0" stroke-dasharray="0 169 1 190"/>
<circle r="248" pathLength="360" stroke="#4660a6" stroke-dasharray="0 170 2 188"/>
<circle r="249.6" pathLength="360" stroke="#5468a0" stroke-dasharray="0 169 1 190"/>
<circle r="249.6" pathLength="360" stroke="#4660a6" stroke-dasharray="0 170 3 3 1 183"/>
<circle r="251.2" pathLength="360" stroke="#4660a6" stroke-dasharray="0 169 4 187"/>
<circle r="251.2" pathLength="360" stroke="#5468a0" stroke-dasharray="0 175 2 183"/>
<circle r="252.8" pathLength="360" stroke="#4660a6" stroke-dasharray="0 169 6 1 2 182"/>
<circle r="252.8" pathLength="360" stroke="#5468a0" stroke-dasharray="0 175 1 184"/>
<circle r="254.4" pathLength="360" stroke="#4660a6" stroke-dasharray="0 169 5 2 2 182"/>
<circle r="254.4" pathLength="360" stroke="#5468a0" stroke-dasharray="0 174 2 184"/>
<circle r="256" pathLength="360" stroke="#4660a6" stroke-dasharray="0 169 4 3 2 182"/>
<circle r="256" pathLength="360" stroke="#5468a0" stroke-dasharray="0 173 3 184"/>
<circle r="257.6" pathLength="360" stroke="#4660a6" stroke-dasharray="0 169 10 181"/>
<circle r="259.2" pathLength="360" stroke="#4660a6" stroke-dasharray="0 169 10 181"/>
<circle r="260.8" pathLength="360" stroke="#5468a0" stroke-dasharray="0 170 2 4 1 183"/>
<circle r="260.8" pathLength="360" stroke="#4660a6" stroke-dasharray="0 172 4 1 3 180"/>
<circle r="262.4" pathLength="360" stroke="#4660a6" stroke-dasharray="0 170 2 1 8 179"/>
<circle r="262.4" pathLength="360" stroke="#4a7bb4" stroke-dasharray="0 172 1 187"/>
<circle r="264" pathLength="360" stroke="#4660a6" stroke-dasharray="0 170 2 1 7 180"/>
<circle r="264" pathLength="360" stroke="#4a7bb4" stroke-dasharray="0 172 1 187"/>
<circle r="264" pathLength="360" stroke="#5468a0" stroke-dasharray="0 180 1 179"/>
<circle r="265.6" pathLength="360" stroke="#5468a0" stroke-dasharray="0 170 2 9 2 177"/>
<circle r="265.6" pathLength="360" stroke="#4660a6" stroke-dasharray="0 172 6 1 2 179"/>
<circle r="265.6" pathLength="360" stroke="#4a7bb4" stroke-dasharray="0 178 1 181"/>
<circle r="267.2" pathLength="360" stroke="#5468a0" stroke-dasharray="0 161 1 9 1 1 1 7 1 178"/>
<circle r="267.2" pathLength="360" stroke="#4660a6" stroke-dasharray="0 172 1 1 7 1 1 177"/>
<circle r="268.8" pathLength="360" stroke="#5468a0" stroke-dasharray="0 161 2 5 1 191"/>
<circle r="268.8" pathLength="360" stroke="#4660a6" stroke-dasharray="0 171 3 2 7 177"/>
<circle r="270.4" pathLength="360" stroke="#5468a0" stroke-dasharray="0 161 1 6 2 190"/>
<circle r="270.4" pathLength="360" stroke="#4660a6" stroke-dasharray="0 162 2 8 2 6 2 1 1 176"/>
<circle r="270.4" pathLength="360" stroke="#4a7bb4" stroke-dasharray="0 176 4 2 1 177"/>
<circle r="272" pathLength="360" stroke="#4660a6" stroke-dasharray="0 161 4 12 2 181"/>
<circle r="272" pathLength="360" stroke="#6674a6" stroke-dasharray="0 168 1 191"/>
<circle r="272" pathLength="360" stroke="#5468a0" stroke-dasharray="0 169 1 2 2 186"/>
<circle r="272" pathLength="360" stroke="#4a7bb4" stroke-dasharray="0 179 5 176"/>
<circle r="273.6" pathLength="360" stroke="#4660a6" stroke-dasharray="0 161 3 16 4 176"/>
<circle r="273.6" pathLength="360" stroke="#5468a0" stroke-dasharray="0 164 1 2 3 190"/>
<circle r="273.6" pathLength="360" stroke="#4a7bb4" stroke-dasharray="0 178 2 180"/>
<circle r="275.2" pathLength="360" stroke="#4660a6" stroke-dasharray="0 161 2 1 1 5 1 7 3 179"/>
<circle r="275.2" pathLength="360" stroke="#4a7bb4" stroke-dasharray="0 163 1 17 3 176"/>
<circle r="275.2" pathLength="360" stroke="#6674a6" stroke-dasharray="0 167 1 192"/>
<circle r="275.2" pathLength="360" stroke="#5468a0" stroke-dasharray="0 168 2 190"/>
<circle r="276.8" pathLength="360" stroke="#6674a6" stroke-dasharray="0 161 1 198"/>
<circle r="276.8" pathLength="360" stroke="#5468a0" stroke-dasharray="0 162 2 16 1 179"/>
<circle r="276.8" pathLength="360" stroke="#4660a6" stroke-dasharray="0 167 4 3 1 3 2 1 3 176"/>
<circle r="278.4" pathLength="360" stroke="#6674a6" stroke-dasharray="0 162 2 19 2 175"/>
<circle r="278.4" pathLength="360" stroke="#5468a0" stroke-dasharray="0 167 5 2 2 4 3 177"/>
<circle r="278.4" pathLength="360" stroke="#4660a6" stroke-dasharray="0 173 1 5 1 180"/>
<circle r="280" pathLength="360" stroke="#6674a6" stroke-dasharray="0 163 1 196"/>
<circle r="280" pathLength="360" stroke="#5468a0" stroke-dasharray="0 167 6 1 3 2 6 175"/>
<circle r="280" pathLength="360" stroke="#4660a6" stroke-dasharray="0 173 1 186"/>
<circle r="281.6" pathLength="360" stroke="#5468a0" stroke-dasharray="0 167 3 1 1 3 2 3 4 176"/>
<circle r="281.6" pathLength="360" stroke="#4660a6" stroke-dasharray="0 170 1 1 3 185"/>
<circle r="281.6" pathLength="360" stroke="#6674a6" stroke-dasharray="0 184 1 175"/>
<circle r="283.2" pathLength="360" stroke="#5468a0" stroke-dasharray="0 167 1 8 1 1 8 174"/>
<circle r="283.2" pathLength="360" stroke="#4660a6" stroke-dasharray="0 168 4 2 2 184"/>
<circle r="283.2" pathLength="360" stroke="#4a7bb4" stroke-dasharray="0 172 2 186"/>
<circle r="284.8" pathLength="360" stroke="#5468a0" stroke-dasharray="0 167 2 1 2 2 4 2 3 1 1 175"/>
<circle r="284.8" pathLength="360" stroke="#4660a6" stroke-dasharray="0 169 1 8 2 180"/>
<circle r="284.8" pathLength="360" stroke="#4a7bb4" stroke-dasharray="0 172 2 186"/>
<circle r="284.8" pathLength="360" stroke="#6674a6" stroke-dasharray="0 183 1 1 1 174"/>
<circle r="286.4" pathLength="360" stroke="#5468a0" stroke-dasharray="0 167 1 8 9 175"/>
<circle r="286.4" pathLength="360" stroke="#4660a6" stroke-dasharray="0 168 1 1 2 2 2 184"/>
<circle r="286.4" pathLength="360" stroke="#4a7bb4" stroke-dasharray="0 169 1 2 2 186"/>
<circle r="286.4" pathLength="360" stroke="#6674a6" stroke-dasharray="0 185 1 174"/>
<circle r="288" pathLength="360" stroke="#5468a0" stroke-dasharray="0 167 1 8 7 2 1 174"/>
<circle r="288" pathLength="360" stroke="#4660a6" stroke-dasharray="0 168 4 2 2 7 2 175"/>
<circle r="288" pathLength="360" stroke="#5a9ec9" stroke-dasharray="0 172 2 186"/>
<circle r="289.6" pathLength="360" stroke="#4660a6" stroke-dasharray="0 168 2 4 2 184"/>
<circle r="289.6" pathLength="360" stroke="#5468a0" stroke-dasharray="0 170 2 4 10 174"/>
<circle r="289.6" pathLength="360" stroke="#4a7bb4" stroke-dasharray="0 172 2 186"/>
<circle r="291.2" pathLength="360" stroke="#5468a0" stroke-dasharray="0 169 3 4 2 4 4 174"/>
<circle r="291.2" pathLength="360" stroke="#4a7bb4" stroke-dasharray="0 172 1 1 1 185"/>
<circle r="291.2" pathLength="360" stroke="#5a9ec9" stroke-dasharray="0 173 1 186"/>
<circle r="291.2" pathLength="360" stroke="#4660a6" stroke-dasharray="0 175 1 2 4 178"/>
<circle r="292.8" pathLength="360" stroke="#6674a6" stroke-dasharray="0 169 3 188"/>
<circle r="292.8" pathLength="360" stroke="#4660a6" stroke-dasharray="0 172 1 9 3 175"/>
<circle r="292.8" pathLength="360" stroke="#4a7bb4" stroke-dasharray="0 173 3 184"/>
<circle r="292.8" pathLength="360" stroke="#5468a0" stroke-dasharray="0 176 6 3 1 174"/>
<circle r="294.4" pathLength="360" stroke="#5468a0" stroke-dasharray="0 169 3 4 2 7 1 174"/>
<circle r="294.4" pathLength="360" stroke="#4660a6" stroke-dasharray="0 172 1 9 3 175"/>
<circle r="294.4" pathLength="360" stroke="#4a7bb4" stroke-dasharray="0 173 1 1 1 184"/>
<circle r="294.4" pathLength="360" stroke="#5a9ec9" stroke-dasharray="0 174 1 185"/>
<circle r="294.4" pathLength="360" stroke="#6674a6" stroke-dasharray="0 178 4 4 1 173"/>
<circle r="296" pathLength="360" stroke="#5468a0" stroke-dasharray="0 170 2 6 4 178"/>
<circle r="296" pathLength="360" stroke="#4a7bb4" stroke-dasharray="0 172 2 8 3 175"/>
<circle r="296" pathLength="360" stroke="#5a9ec9" stroke-dasharray="0 174 2 184"/>
<circle r="296" pathLength="360" stroke="#4660a6" stroke-dasharray="0 176 2 7 1 174"/>
<circle r="296" pathLength="360" stroke="#6674a6" stroke-dasharray="0 186 1 173"/>
<circle r="297.6" pathLength="360" stroke="#5468a0" stroke-dasharray="0 171 1 7 3 4 1 173"/>
<circle r="297.6" pathLength="360" stroke="#4660a6" stroke-dasharray="0 172 1 3 2 7 1 174"/>
<circle r="297.6" pathLength="360" stroke="#4a7bb4" stroke-dasharray="0 173 1 8 3 175"/>
<circle r="297.6" pathLength="360" stroke="#5a9ec9" stroke-dasharray="0 174 2 184"/>
<circle r="299.2" pathLength="360" stroke="#6674a6" stroke-dasharray="0 171 1 8 1 5 2 172"/>
<circle r="299.2" pathLength="360" stroke="#5468a0" stroke-dasharray="0 172 1 3 2 3 1 178"/>
<circle r="299.2" pathLength="360" stroke="#4660a6" stroke-dasharray="0 173 1 11 1 174"/>
<circle r="299.2" pathLength="360" stroke="#4a7bb4" stroke-dasharray="0 174 2 6 1 1 1 175"/>
<circle r="299.2" pathLength="360" stroke="#5a9ec9" stroke-dasharray="0 183 1 176"/>
<circle r="300.8" pathLength="360" stroke="#6674a6" stroke-dasharray="0 172 1 13 2 172"/>
<circle r="300.8" pathLength="360" stroke="#5468a0" stroke-dasharray="0 173 1 6 1 4 1 174"/>
<circle r="300.8" pathLength="360" stroke="#4660a6" stroke-dasharray="0 174 4 3 1 2 1 175"/>
<circle r="300.8" pathLength="360" stroke="#5a9ec9" stroke-dasharray="0 182 1 177"/>
<circle r="300.8" pathLength="360" stroke="#68c2dc" stroke-dasharray="0 183 1 176"/>
<circle r="302.4" pathLength="360" stroke="#5468a0" stroke-dasharray="0 172 2 4 1 2 1 178"/>
<circle r="302.4" pathLength="360" stroke="#4a7bb4" stroke-dasharray="0 174 3 183"/>
<circle r="302.4" pathLength="360" stroke="#4660a6" stroke-dasharray="0 177 1 6 2 174"/>
<circle r="302.4" pathLength="360" stroke="#6674a6" stroke-dasharray="0 179 2 5 2 172"/>
<circle r="302.4" pathLength="360" stroke="#5a9ec9" stroke-dasharray="0 182 1 177"/>
<circle r="302.4" pathLength="360" stroke="#68c2dc" stroke-dasharray="0 183 1 176"/>
<circle r="304" pathLength="360" stroke="#5468a0" stroke-dasharray="0 173 1 3 1 1 2 179"/>
<circle r="304" pathLength="360" stroke="#4660a6" stroke-dasharray="0 174 3 4 1 3 1 174"/>
<circle r="304" pathLength="360" stroke="#6674a6" stroke-dasharray="0 178 1 7 2 172"/>
<circle r="304" pathLength="360" stroke="#5fd8c2" stroke-dasharray="0 182 2 176"/>
<circle r="304" pathLength="360" stroke="#4a7bb4" stroke-dasharray="0 184 1 175"/>
<circle r="305.6" pathLength="360" stroke="#5468a0" stroke-dasharray="0 173 1 4 1 2 1 3 1 174"/>
<circle r="305.6" pathLength="360" stroke="#4660a6" stroke-dasharray="0 174 4 6 1 175"/>
<circle r="305.6" pathLength="360" stroke="#6674a6" stroke-dasharray="0 179 2 5 2 172"/>
<circle r="305.6" pathLength="360" stroke="#68c2dc" stroke-dasharray="0 182 2 176"/>
<circle r="307.2" pathLength="360" stroke="#4660a6" stroke-dasharray="0 174 1 1 2 7 1 174"/>
<circle r="307.2" pathLength="360" stroke="#4a7bb4" stroke-dasharray="0 175 1 8 1 175"/>
<circle r="307.2" pathLength="360" stroke="#6674a6" stroke-dasharray="0 178 1 1 1 5 2 172"/>
<circle r="307.2" pathLength="360" stroke="#5468a0" stroke-dasharray="0 181 1 178"/>
<circle r="307.2" pathLength="360" stroke="#5a9ec9" stroke-dasharray="0 182 1 177"/>
<circle r="307.2" pathLength="360" stroke="#68c2dc" stroke-dasharray="0 183 1 176"/>
<circle r="308.8" pathLength="360" stroke="#5468a0" stroke-dasharray="0 174 2 2 3 179"/>
<circle r="308.8" pathLength="360" stroke="#4660a6" stroke-dasharray="0 176 2 3 1 2 1 175"/>
<circle r="308.8" pathLength="360" stroke="#68c2dc" stroke-dasharray="0 182 2 176"/>
<circle r="308.8" pathLength="360" stroke="#6674a6" stroke-dasharray="0 185 3 172"/>
<circle r="310.4" pathLength="360" stroke="#5468a0" stroke-dasharray="0 174 1 5 1 3 1 175"/>
<circle r="310.4" pathLength="360" stroke="#4660a6" stroke-dasharray="0 175 1 2 2 1 1 178"/>
<circle r="310.4" pathLength="360" stroke="#4a7bb4" stroke-dasharray="0 176 2 182"/>
<circle r="310.4" pathLength="360" stroke="#5a9ec9" stroke-dasharray="0 182 2 176"/>
<circle r="310.4" pathLength="360" stroke="#6674a6" stroke-dasharray="0 185 3 172"/>
<circle r="312" pathLength="360" stroke="#5468a0" stroke-dasharray="0 174 1 3 3 4 1 174"/>
<circle r="312" pathLength="360" stroke="#4660a6" stroke-dasharray="0 175 1 5 1 2 1 175"/>
<circle r="312" pathLength="360" stroke="#4a7bb4" stroke-dasharray="0 176 2 182"/>
<circle r="312" pathLength="360" stroke="#5a9ec9" stroke-dasharray="0 182 1 177"/>
<circle r="312" pathLength="360" stroke="#68c2dc" stroke-dasharray="0 183 1 176"/>
<circle r="312" pathLength="360" stroke="#6674a6" stroke-dasharray="0 186 1 173"/>
<circle r="313.6" pathLength="360" stroke="#5468a0" stroke-dasharray="0 173 2 3 3 3 1 175"/>
<circle r="313.6" pathLength="360" stroke="#4660a6" stroke-dasharray="0 175 1 1 1 3 1 178"/>
<circle r="313.6" pathLength="360" stroke="#4a7bb4" stroke-dasharray="0 176 1 183"/>
<circle r="313.6" pathLength="360" stroke="#5a9ec9" stroke-dasharray="0 182 2 176"/>
<circle r="313.6" pathLength="360" stroke="#6674a6" stroke-dasharray="0 185 2 173"/>
<circle r="315.2" pathLength="360" stroke="#5468a0" stroke-dasharray="0 172 3 3 2 5 1 174"/>
<circle r="315.2" pathLength="360" stroke="#4660a6" stroke-dasharray="0 175 1 1 1 2 2 2 1 175"/>
<circle r="315.2" pathLength="360" stroke="#4a7bb4" stroke-dasharray="0 176 1 5 1 177"/>
<circle r="315.2" pathLength="360" stroke="#5a9ec9" stroke-dasharray="0 183 1 176"/>
<circle r="315.2" pathLength="360" stroke="#6674a6" stroke-dasharray="0 186 1 173"/>
<circle r="316.8" pathLength="360" stroke="#4660a6" stroke-dasharray="0 172 2 7 1 2 2 174"/>
<circle r="316.8" pathLength="360" stroke="#5468a0" stroke-dasharray="0 174 7 5 2 172"/>
<circle r="316.8" pathLength="360" stroke="#4a7bb4" stroke-dasharray="0 182 1 177"/>
<circle r="316.8" pathLength="360" stroke="#5a9ec9" stroke-dasharray="0 183 1 176"/>
<circle r="318.4" pathLength="360" stroke="#5468a0" stroke-dasharray="0 172 1 1 4 2 1 6 1 172"/>
<circle r="318.4" pathLength="360" stroke="#4660a6" stroke-dasharray="0 173 1 7 1 4 1 173"/>
<circle r="318.4" pathLength="360" stroke="#6674a6" stroke-dasharray="0 179 1 180"/>
<circle r="318.4" pathLength="360" stroke="#4a7bb4" stroke-dasharray="0 182 1 1 2 174"/>
<circle r="318.4" pathLength="360" stroke="#5a9ec9" stroke-dasharray="0 183 1 176"/>
<circle r="320" pathLength="360" stroke="#6674a6" stroke-dasharray="0 171 1 188"/>
<circle r="320" pathLength="360" stroke="#5468a0" stroke-dasharray="0 172 5 2 1 180"/>
<circle r="320" pathLength="360" stroke="#4660a6" stroke-dasharray="0 180 2 4 2 172"/>
<circle r="320" pathLength="360" stroke="#4a7bb4" stroke-dasharray="0 182 4 174"/>
<circle r="321.6" pathLength="360" stroke="#4660a6" stroke-dasharray="0 171 1 2 1 7 1 2 2 173"/>
<circle r="321.6" pathLength="360" stroke="#4a7bb4" stroke-dasharray="0 172 2 9 2 175"/>
<circle r="321.6" pathLength="360" stroke="#5468a0" stroke-dasharray="0 175 2 3 2 5 2 171"/>
<circle r="323.2" pathLength="360" stroke="#5468a0" stroke-dasharray="0 171 1 8 2 178"/>
<circle r="323.2" pathLength="360" stroke="#4660a6" stroke-dasharray="0 172 6 4 1 3 3 171"/>
<circle r="323.2" pathLength="360" stroke="#4a7bb4" stroke-dasharray="0 183 3 174"/>
<circle r="324.8" pathLength="360" stroke="#4660a6" stroke-dasharray="0 171 2 9 1 177"/>
<circle r="324.8" pathLength="360" stroke="#4a7bb4" stroke-dasharray="0 173 1 9 1 3 1 172"/>
<circle r="324.8" pathLength="360" stroke="#5468a0" stroke-dasharray="0 174 3 4 1 6 1 171"/>
<circle r="324.8" pathLength="360" stroke="#68c2dc" stroke-dasharray="0 184 1 175"/>
<circle r="324.8" pathLength="360" stroke="#5fd8c2" stroke-dasharray="0 185 1 174"/>
<circle r="324.8" pathLength="360" stroke="#5a9ec9" stroke-dasharray="0 186 1 173"/>
<circle r="326.4" pathLength="360" stroke="#4a7bb4" stroke-dasharray="0 171 3 186"/>
<circle r="326.4" pathLength="360" stroke="#5468a0" stroke-dasharray="0 174 2 184"/>
<circle r="326.4" pathLength="360" stroke="#6674a6" stroke-dasharray="0 176 1 183"/>
<circle r="326.4" pathLength="360" stroke="#5a9ec9" stroke-dasharray="0 183 1 3 1 172"/>
<circle r="326.4" pathLength="360" stroke="#5fd8c2" stroke-dasharray="0 184 2 174"/>
<circle r="326.4" pathLength="360" stroke="#68c2dc" stroke-dasharray="0 186 1 173"/>
<circle r="326.4" pathLength="360" stroke="#4660a6" stroke-dasharray="0 188 1 171"/>
<circle r="328" pathLength="360" stroke="#4a7bb4" stroke-dasharray="0 170 4 186"/>
<circle r="328" pathLength="360" stroke="#5468a0" stroke-dasharray="0 174 3 183"/>
<circle r="328" pathLength="360" stroke="#4660a6" stroke-dasharray="0 183 1 4 1 171"/>
<circle r="328" pathLength="360" stroke="#68c2dc" stroke-dasharray="0 184 1 1 1 173"/>
<circle r="328" pathLength="360" stroke="#5fd8c2" stroke-dasharray="0 185 1 174"/>
<circle r="328" pathLength="360" stroke="#5a9ec9" stroke-dasharray="0 187 1 172"/>
<circle r="329.6" pathLength="360" stroke="#4660a6" stroke-dasharray="0 170 4 186"/>
<circle r="329.6" pathLength="360" stroke="#5468a0" stroke-dasharray="0 174 3 183"/>
<circle r="329.6" pathLength="360" stroke="#4a7bb4" stroke-dasharray="0 183 1 176"/>
<circle r="329.6" pathLength="360" stroke="#68c2dc" stroke-dasharray="0 184 2 174"/>
<circle r="329.6" pathLength="360" stroke="#5a9ec9" stroke-dasharray="0 186 2 172"/>
<circle r="331.2" pathLength="360" stroke="#4660a6" stroke-dasharray="0 170 4 186"/>
<circle r="331.2" pathLength="360" stroke="#6674a6" stroke-dasharray="0 174 2 184"/>
<circle r="331.2" pathLength="360" stroke="#4a7bb4" stroke-dasharray="0 183 1 3 1 172"/>
<circle r="331.2" pathLength="360" stroke="#5a9ec9" stroke-dasharray="0 184 3 173"/>
<circle r="332.8" pathLength="360" stroke="#5468a0" stroke-dasharray="0 170 2 3 1 184"/>
<circle r="332.8" pathLength="360" stroke="#4660a6" stroke-dasharray="0 172 3 11 2 172"/>
<circle r="332.8" pathLength="360" stroke="#4a7bb4" stroke-dasharray="0 184 2 174"/>
<circle r="334.4" pathLength="360" stroke="#5468a0" stroke-dasharray="0 170 5 185"/>
<circle r="334.4" pathLength="360" stroke="#4a7bb4" stroke-dasharray="0 185 1 174"/>
<circle r="334.4" pathLength="360" stroke="#4660a6" stroke-dasharray="0 186 2 172"/>
<circle r="336" pathLength="360" stroke="#5468a0" stroke-dasharray="0 170 4 186"/>
<circle r="337.6" pathLength="360" stroke="#5468a0" stroke-dasharray="0 170 3 187"/>
<circle r="337.6" pathLength="360" stroke="#4660a6" stroke-dasharray="0 173 1 186"/>
<circle r="339.2" pathLength="360" stroke="#5468a0" stroke-dasharray="0 171 2 187"/>
<circle r="340.8" pathLength="360" stroke="#4660a6" stroke-dasharray="0 172 1 187"/>
<circle r="347.2" pathLength="360" stroke="#4660a6" stroke-dasharray="0 162 1 197"/>
<circle r="348.8" pathLength="360" stroke="#4a7bb4" stroke-dasharray="0 162 1 197"/>
<circle r="350.4" pathLength="360" stroke="#4660a6" stroke-dasharray="0 161 1 198"/>
<circle r="350.4" pathLength="360" stroke="#4a7bb4" stroke-dasharray="0 162 2 196"/>
<circle r="352" pathLength="360" stroke="#4660a6" stroke-dasharray="0 161 1 198"/>
<circle r="352" pathLength="360" stroke="#4a7bb4" stroke-dasharray="0 162 2 196"/>
<circle r="352" pathLength="360" stroke="#5a9ec9" stroke-dasharray="0 164 1 195"/>
<circle r="353.6" pathLength="360" stroke="#5468a0" stroke-dasharray="0 153 1 206"/>
<circle r="353.6" pathLength="360" stroke="#6674a6" stroke-dasharray="0 154 2 204"/>
<circle r="353.6" pathLength="360" stroke="#4660a6" stroke-dasharray="0 161 1 198"/>
<circle r="353.6" pathLength="360" stroke="#4a7bb4" stroke-dasharray="0 162 3 195"/>
<circle r="355.2" pathLength="360" stroke="#5468a0" stroke-dasharray="0 153 1 206"/>
<circle r="355.2" pathLength="360" stroke="#6674a6" stroke-dasharray="0 154 2 204"/>
<circle r="355.2" pathLength="360" stroke="#4660a6" stroke-dasharray="0 161 1 198"/>
<circle r="355.2" pathLength="360" stroke="#4a7bb4" stroke-dasharray="0 162 2 196"/>
<circle r="355.2" pathLength="360" stroke="#5a9ec9" stroke-dasharray="0 164 1 195"/>
<circle r="356.8" pathLength="360" stroke="#5468a0" stroke-dasharray="0 153 1 7 3 196"/>
<circle r="356.8" pathLength="360" stroke="#6674a6" stroke-dasharray="0 154 2 204"/>
<circle r="356.8" pathLength="360" stroke="#4660a6" stroke-dasharray="0 164 1 195"/>
<circle r="358.4" pathLength="360" stroke="#5468a0" stroke-dasharray="0 153 1 7 3 196"/>
<circle r="358.4" pathLength="360" stroke="#6674a6" stroke-dasharray="0 154 2 67 3 134"/>
<circle r="358.4" pathLength="360" stroke="#4a7bb4" stroke-dasharray="0 164 1 195"/>
<circle r="360" pathLength="360" stroke="#5468a0" stroke-dasharray="0 153 1 206"/>
<circle r="360" pathLength="360" stroke="#6674a6" stroke-dasharray="0 154 2 5 3 59 3 134"/>
<circle r="360" pathLength="360" stroke="#4660a6" stroke-dasharray="0 164 1 195"/>
<circle r="361.6" pathLength="360" stroke="#5468a0" stroke-dasharray="0 153 1 8 2 60 2 134"/>
<circle r="361.6" pathLength="360" stroke="#6674a6" stroke-dasharray="0 154 2 67 1 136"/>
<circle r="363.2" pathLength="360" stroke="#5468a0" stroke-dasharray="0 153 1 206"/>
<circle r="363.2" pathLength="360" stroke="#6674a6" stroke-dasharray="0 154 2 67 3 134"/>
<circle r="363.2" pathLength="360" stroke="#4660a6" stroke-dasharray="0 162 2 196"/>
<circle r="364.8" pathLength="360" stroke="#5468a0" stroke-dasharray="0 154 2 67 2 135"/>
<circle r="364.8" pathLength="360" stroke="#6674a6" stroke-dasharray="0 225 1 134"/>
<circle r="366.4" pathLength="360" stroke="#6674a6" stroke-dasharray="0 223 1 2 1 133"/>
<circle r="366.4" pathLength="360" stroke="#5468a0" stroke-dasharray="0 224 2 134"/>
<circle r="368" pathLength="360" stroke="#6674a6" stroke-dasharray="0 223 1 2 1 133"/>
<circle r="368" pathLength="360" stroke="#5468a0" stroke-dasharray="0 224 2 134"/>
<circle r="369.6" pathLength="360" stroke="#5468a0" stroke-dasharray="0 223 3 134"/>
<circle r="369.6" pathLength="360" stroke="#6674a6" stroke-dasharray="0 226 1 133"/>
<circle r="371.2" pathLength="360" stroke="#4660a6" stroke-dasharray="0 162 2 196"/>
<circle r="371.2" pathLength="360" stroke="#4a7bb4" stroke-dasharray="0 164 1 195"/>
<circle r="371.2" pathLength="360" stroke="#6674a6" stroke-dasharray="0 223 1 2 1 133"/>
<circle r="371.2" pathLength="360" stroke="#5468a0" stroke-dasharray="0 224 2 134"/>
<circle r="372.8" pathLength="360" stroke="#5468a0" stroke-dasharray="0 162 3 61 1 133"/>
<circle r="372.8" pathLength="360" stroke="#4660a6" stroke-dasharray="0 223 3 134"/>
<circle r="374.4" pathLength="360" stroke="#4660a6" stroke-dasharray="0 162 3 195"/>
<circle r="374.4" pathLength="360" stroke="#5468a0" stroke-dasharray="0 223 3 134"/>
<circle r="374.4" pathLength="360" stroke="#6674a6" stroke-dasharray="0 226 1 133"/>
<circle r="376" pathLength="360" stroke="#4660a6" stroke-dasharray="0 162 3 195"/>
<circle r="376" pathLength="360" stroke="#5468a0" stroke-dasharray="0 223 4 133"/>
<circle r="377.6" pathLength="360" stroke="#4660a6" stroke-dasharray="0 162 3 59 1 135"/>
<circle r="377.6" pathLength="360" stroke="#5468a0" stroke-dasharray="0 223 1 1 1 134"/>
<circle r="377.6" pathLength="360" stroke="#6674a6" stroke-dasharray="0 226 1 133"/>
<circle r="379.2" pathLength="360" stroke="#4a7bb4" stroke-dasharray="0 161 1 1 1 196"/>
<circle r="379.2" pathLength="360" stroke="#4660a6" stroke-dasharray="0 162 1 1 1 60 1 134"/>
<circle r="379.2" pathLength="360" stroke="#5468a0" stroke-dasharray="0 223 2 1 1 133"/>
<circle r="380.8" pathLength="360" stroke="#6674a6" stroke-dasharray="0 161 1 61 1 136"/>
<circle r="380.8" pathLength="360" stroke="#5468a0" stroke-dasharray="0 162 1 63 1 133"/>
<circle r="380.8" pathLength="360" stroke="#4a7bb4" stroke-dasharray="0 163 2 195"/>
<circle r="380.8" pathLength="360" stroke="#4660a6" stroke-dasharray="0 224 2 134"/>
<circle r="382.4" pathLength="360" stroke="#5468a0" stroke-dasharray="0 161 1 64 1 133"/>
<circle r="382.4" pathLength="360" stroke="#4660a6" stroke-dasharray="0 162 1 61 2 134"/>
<circle r="382.4" pathLength="360" stroke="#4a7bb4" stroke-dasharray="0 163 2 195"/>
<circle r="382.4" pathLength="360" stroke="#6674a6" stroke-dasharray="0 223 1 136"/>
<circle r="384" pathLength="360" stroke="#5468a0" stroke-dasharray="0 161 1 62 3 133"/>
<circle r="384" pathLength="360" stroke="#4660a6" stroke-dasharray="0 162 1 197"/>
<circle r="384" pathLength="360" stroke="#4a7bb4" stroke-dasharray="0 163 2 195"/>
<circle r="384" pathLength="360" stroke="#6674a6" stroke-dasharray="0 223 1 136"/>
<circle r="385.6" pathLength="360" stroke="#6674a6" stroke-dasharray="0 161 1 64 1 133"/>
<circle r="385.6" pathLength="360" stroke="#5468a0" stroke-dasharray="0 162 1 60 1 136"/>
<circle r="385.6" pathLength="360" stroke="#4a7bb4" stroke-dasharray="0 163 2 195"/>
<circle r="385.6" pathLength="360" stroke="#4660a6" stroke-dasharray="0 224 2 134"/>
<circle r="387.2" pathLength="360" stroke="#5468a0" stroke-dasharray="0 161 1 63 1 134"/>
<circle r="387.2" pathLength="360" stroke="#4660a6" stroke-dasharray="0 162 3 59 1 135"/>
<circle r="387.2" pathLength="360" stroke="#6674a6" stroke-dasharray="0 223 1 2 1 133"/>
<circle r="388.8" pathLength="360" stroke="#5468a0" stroke-dasharray="0 161 1 61 3 134"/>
<circle r="388.8" pathLength="360" stroke="#4660a6" stroke-dasharray="0 162 1 197"/>
<circle r="388.8" pathLength="360" stroke="#4a7bb4" stroke-dasharray="0 163 2 195"/>
<circle r="388.8" pathLength="360" stroke="#6674a6" stroke-dasharray="0 226 1 133"/>
<circle r="390.4" pathLength="360" stroke="#5468a0" stroke-dasharray="0 162 1 16 3 42 2 134"/>
<circle r="390.4" pathLength="360" stroke="#4660a6" stroke-dasharray="0 163 1 196"/>
<circle r="390.4" pathLength="360" stroke="#4a7bb4" stroke-dasharray="0 164 1 195"/>
<circle r="390.4" pathLength="360" stroke="#6674a6" stroke-dasharray="0 223 1 2 1 133"/>
<circle r="392" pathLength="360" stroke="#4660a6" stroke-dasharray="0 162 2 196"/>
<circle r="392" pathLength="360" stroke="#5a9ec9" stroke-dasharray="0 164 1 195"/>
<circle r="392" pathLength="360" stroke="#6674a6" stroke-dasharray="0 178 2 43 1 2 1 133"/>
<circle r="392" pathLength="360" stroke="#5468a0" stroke-dasharray="0 180 2 42 2 134"/>
<circle r="393.6" pathLength="360" stroke="#4660a6" stroke-dasharray="0 162 2 18 1 177"/>
<circle r="393.6" pathLength="360" stroke="#5a9ec9" stroke-dasharray="0 164 1 195"/>
<circle r="393.6" pathLength="360" stroke="#6674a6" stroke-dasharray="0 178 3 42 1 2 1 3 1 129"/>
<circle r="393.6" pathLength="360" stroke="#5468a0" stroke-dasharray="0 181 1 42 2 134"/>
<circle r="395.2" pathLength="360" stroke="#5468a0" stroke-dasharray="0 163 1 16 2 41 3 134"/>
<circle r="395.2" pathLength="360" stroke="#4a7bb4" stroke-dasharray="0 164 1 195"/>
<circle r="395.2" pathLength="360" stroke="#6674a6" stroke-dasharray="0 178 2 46 1 3 1 129"/>
<circle r="395.2" pathLength="360" stroke="#4660a6" stroke-dasharray="0 182 2 176"/>
<circle r="396.8" pathLength="360" stroke="#4660a6" stroke-dasharray="0 177 1 182"/>
<circle r="396.8" pathLength="360" stroke="#5468a0" stroke-dasharray="0 178 6 39 3 134"/>
<circle r="396.8" pathLength="360" stroke="#6674a6" stroke-dasharray="0 222 1 3 1 2 2 129"/>
<circle r="398.4" pathLength="360" stroke="#4660a6" stroke-dasharray="0 177 1 3 2 177"/>
<circle r="398.4" pathLength="360" stroke="#5468a0" stroke-dasharray="0 178 3 2 1 39 3 134"/>
<circle r="398.4" pathLength="360" stroke="#6674a6" stroke-dasharray="0 222 1 3 1 2 2 129"/>
<circle r="400" pathLength="360" stroke="#4660a6" stroke-dasharray="0 177 1 182"/>
<circle r="400" pathLength="360" stroke="#5468a0" stroke-dasharray="0 178 3 1 3 39 2 134"/>
<circle r="400" pathLength="360" stroke="#6674a6" stroke-dasharray="0 181 1 40 2 2 5 129"/>
<circle r="401.6" pathLength="360" stroke="#4660a6" stroke-dasharray="0 177 1 4 2 176"/>
<circle r="401.6" pathLength="360" stroke="#6674a6" stroke-dasharray="0 178 1 43 1 3 6 128"/>
<circle r="401.6" pathLength="360" stroke="#5468a0" stroke-dasharray="0 179 3 2 1 38 3 134"/>
<circle r="403.2" pathLength="360" stroke="#4660a6" stroke-dasharray="0 177 1 4 3 175"/>
<circle r="403.2" pathLength="360" stroke="#5468a0" stroke-dasharray="0 178 4 41 3 6 1 127"/>
<circle r="403.2" pathLength="360" stroke="#6674a6" stroke-dasharray="0 222 1 3 6 128"/>
<circle r="404.8" pathLength="360" stroke="#5468a0" stroke-dasharray="0 177 3 44 2 1 2 2 1 128"/>
<circle r="404.8" pathLength="360" stroke="#4660a6" stroke-dasharray="0 180 2 2 1 44 2 129"/>
<circle r="404.8" pathLength="360" stroke="#4a7bb4" stroke-dasharray="0 182 2 176"/>
<circle r="404.8" pathLength="360" stroke="#6674a6" stroke-dasharray="0 222 2 2 1 5 1 127"/>
<circle r="406.4" pathLength="360" stroke="#5468a0" stroke-dasharray="0 177 3 4 1 38 1 3 5 128"/>
<circle r="406.4" pathLength="360" stroke="#4660a6" stroke-dasharray="0 180 2 1 1 40 2 134"/>
<circle r="406.4" pathLength="360" stroke="#4a7bb4" stroke-dasharray="0 182 1 177"/>
<circle r="406.4" pathLength="360" stroke="#6674a6" stroke-dasharray="0 185 1 36 1 3 1 5 2 126"/>
<circle r="408" pathLength="360" stroke="#5468a0" stroke-dasharray="0 177 3 6 1 35 2 2 4 1 2 127"/>
<circle r="408" pathLength="360" stroke="#4660a6" stroke-dasharray="0 180 3 1 2 38 2 4 1 129"/>
<circle r="408" pathLength="360" stroke="#4a7bb4" stroke-dasharray="0 183 1 176"/>
<circle r="408" pathLength="360" stroke="#6674a6" stroke-dasharray="0 233 1 126"/>
<circle r="409.6" pathLength="360" stroke="#5468a0" stroke-dasharray="0 177 2 6 3 35 2 1 2 132"/>
<circle r="409.6" pathLength="360" stroke="#4660a6" stroke-dasharray="0 179 6 40 1 2 4 128"/>
<circle r="409.6" pathLength="360" stroke="#6674a6" stroke-dasharray="0 222 1 9 2 126"/>
<circle r="411.2" pathLength="360" stroke="#5468a0" stroke-dasharray="0 176 3 7 1 36 1 2 6 128"/>
<circle r="411.2" pathLength="360" stroke="#4660a6" stroke-dasharray="0 179 1 1 1 2 2 1 1 36 2 134"/>
<circle r="411.2" pathLength="360" stroke="#4a7bb4" stroke-dasharray="0 180 1 1 2 176"/>
<circle r="411.2" pathLength="360" stroke="#6674a6" stroke-dasharray="0 222 1 9 2 126"/>
<circle r="412.8" pathLength="360" stroke="#5468a0" stroke-dasharray="0 176 3 3 4 1 1 35 1 1 3 4 3 125"/>
<circle r="412.8" pathLength="360" stroke="#4660a6" stroke-dasharray="0 179 3 4 1 37 1 3 1 2 1 128"/>
<circle r="412.8" pathLength="360" stroke="#6674a6" stroke-dasharray="0 222 1 137"/>
<circle r="412.8" pathLength="360" stroke="#4a7bb4" stroke-dasharray="0 229 2 129"/>
<circle r="414.4" pathLength="360" stroke="#6674a6" stroke-dasharray="0 176 2 6 2 36 1 137"/>
<circle r="414.4" pathLength="360" stroke="#5468a0" stroke-dasharray="0 178 2 2 2 2 2 35 1 8 3 125"/>
<circle r="414.4" pathLength="360" stroke="#4660a6" stroke-dasharray="0 180 2 42 8 128"/>
<circle r="416" pathLength="360" stroke="#6674a6" stroke-dasharray="0 176 1 45 2 10 1 125"/>
<circle r="416" pathLength="360" stroke="#5468a0" stroke-dasharray="0 177 3 4 4 33 1 2 3 5 2 126"/>
<circle r="416" pathLength="360" stroke="#4660a6" stroke-dasharray="0 180 4 43 3 130"/>
<circle r="416" pathLength="360" stroke="#4a7bb4" stroke-dasharray="0 230 2 128"/>
<circle r="417.6" pathLength="360" stroke="#5468a0" stroke-dasharray="0 176 2 1 1 2 6 35 1 2 2 4 2 126"/>
<circle r="417.6" pathLength="360" stroke="#4660a6" stroke-dasharray="0 178 1 1 2 42 2 2 4 128"/>
<circle r="417.6" pathLength="360" stroke="#6674a6" stroke-dasharray="0 221 2 11 1 125"/>
<circle r="419.2" pathLength="360" stroke="#6674a6" stroke-dasharray="0 176 2 37 1 1 4 139"/>
<circle r="419.2" pathLength="360" stroke="#5468a0" stroke-dasharray="0 178 8 35 3 136"/>
<circle r="419.2" pathLength="360" stroke="#4660a6" stroke-dasharray="0 186 1 37 5 3 3 125"/>
<circle r="419.2" pathLength="360" stroke="#4a7bb4" stroke-dasharray="0 229 3 128"/>
<circle r="420.8" pathLength="360" stroke="#6674a6" stroke-dasharray="0 176 2 42 1 139"/>
<circle r="420.8" pathLength="360" stroke="#5468a0" stroke-dasharray="0 178 4 4 1 27 2 2 2 1 2 3 9 125"/>
<circle r="420.8" pathLength="360" stroke="#4660a6" stroke-dasharray="0 182 4 26 2 2 2 5 3 134"/>
<circle r="422.4" pathLength="360" stroke="#6674a6" stroke-dasharray="0 177 1 2 2 32 1 145"/>
<circle r="422.4" pathLength="360" stroke="#5468a0" stroke-dasharray="0 178 2 2 2 27 1 1 1 1 1 2 8 1 8 125"/>
<circle r="422.4" pathLength="360" stroke="#4660a6" stroke-dasharray="0 184 3 25 1 3 2 8 1 133"/>
<circle r="424" pathLength="360" stroke="#6674a6" stroke-dasharray="0 180 3 37 3 3 2 4 2 126"/>
<circle r="424" pathLength="360" stroke="#5468a0" stroke-dasharray="0 183 1 27 1 2 3 1 2 3 3 2 4 2 1 125"/>
<circle r="424" pathLength="360" stroke="#4660a6" stroke-dasharray="0 184 2 31 1 142"/>
<circle r="424" pathLength="360" stroke="#4a7bb4" stroke-dasharray="0 186 1 25 2 146"/>
<circle r="425.6" pathLength="360" stroke="#5468a0" stroke-dasharray="0 181 3 27 1 2 2 2 2 1 1 3 8 1 1 125"/>
<circle r="425.6" pathLength="360" stroke="#4660a6" stroke-dasharray="0 184 2 26 2 2 2 4 3 135"/>
<circle r="425.6" pathLength="360" stroke="#6674a6" stroke-dasharray="0 220 1 12 1 126"/>
<circle r="427.2" pathLength="360" stroke="#5468a0" stroke-dasharray="0 182 2 27 1 2 1 5 2 2 3 4 2 127"/>
<circle r="427.2" pathLength="360" stroke="#4660a6" stroke-dasharray="0 184 3 25 2 1 5 2 2 3 4 129"/>
<circle r="427.2" pathLength="360" stroke="#6674a6" stroke-dasharray="0 233 1 126"/>
<circle r="428.8" pathLength="360" stroke="#5468a0" stroke-dasharray="0 184 1 1 1 27 6 1 1 2 2 4 4 126"/>
<circle r="428.8" pathLength="360" stroke="#4660a6" stroke-dasharray="0 185 1 25 3 6 1 1 2 136"/>
<circle r="428.8" pathLength="360" stroke="#6674a6" stroke-dasharray="0 226 4 130"/>
<circle r="430.4" pathLength="360" stroke="#5468a0" stroke-dasharray="0 184 1 27 4 2 3 3 2 4 4 126"/>
<circle r="430.4" pathLength="360" stroke="#4660a6" stroke-dasharray="0 185 2 24 1 9 3 136"/>
<circle r="430.4" pathLength="360" stroke="#6674a6" stroke-dasharray="0 216 2 8 4 130"/>
<circle r="432" pathLength="360" stroke="#4660a6" stroke-dasharray="0 184 4 23 5 4 3 137"/>
<circle r="432" pathLength="360" stroke="#5468a0" stroke-dasharray="0 216 4 3 3 4 3 127"/>
<circle r="432" pathLength="360" stroke="#6674a6" stroke-dasharray="0 226 4 130"/>
<circle r="433.6" pathLength="360" stroke="#4660a6" stroke-dasharray="0 185 3 23 3 6 4 1 1 134"/>
<circle r="433.6" pathLength="360" stroke="#5468a0" stroke-dasharray="0 214 2 2 2 4 1 1 1 3 3 127"/>
<circle r="433.6" pathLength="360" stroke="#6674a6" stroke-dasharray="0 216 2 9 3 130"/>
<circle r="435.2" pathLength="360" stroke="#4660a6" stroke-dasharray="0 185 3 23 1 8 4 8 1 127"/>
<circle r="435.2" pathLength="360" stroke="#5468a0" stroke-dasharray="0 212 4 2 2 4 2 3 3 128"/>
<circle r="435.2" pathLength="360" stroke="#6674a6" stroke-dasharray="0 216 2 8 3 131"/>
<circle r="436.8" pathLength="360" stroke="#5468a0" stroke-dasharray="0 185 3 23 2 5 4 2 4 132"/>
<circle r="436.8" pathLength="360" stroke="#6674a6" stroke-dasharray="0 213 5 142"/>
<circle r="436.8" pathLength="360" stroke="#4660a6" stroke-dasharray="0 222 2 4 5 127"/>
<circle r="438.4" pathLength="360" stroke="#5468a0" stroke-dasharray="0 185 1 1 1 23 3 4 1 141"/>
<circle r="438.4" pathLength="360" stroke="#4660a6" stroke-dasharray="0 186 1 32 9 3 1 128"/>
<circle r="438.4" pathLength="360" stroke="#6674a6" stroke-dasharray="0 214 4 142"/>
<circle r="438.4" pathLength="360" stroke="#4a7bb4" stroke-dasharray="0 228 3 129"/>
<circle r="440" pathLength="360" stroke="#5468a0" stroke-dasharray="0 185 1 25 3 146"/>
<circle r="440" pathLength="360" stroke="#4660a6" stroke-dasharray="0 186 2 30 5 1 5 131"/>
<circle r="440" pathLength="360" stroke="#6674a6" stroke-dasharray="0 214 4 142"/>
<circle r="440" pathLength="360" stroke="#4a7bb4" stroke-dasharray="0 223 1 5 3 128"/>
<circle r="441.6" pathLength="360" stroke="#5468a0" stroke-dasharray="0 185 1 2 1 22 3 146"/>
<circle r="441.6" pathLength="360" stroke="#4660a6" stroke-dasharray="0 186 2 30 11 1 2 128"/>
<circle r="441.6" pathLength="360" stroke="#6674a6" stroke-dasharray="0 214 4 142"/>
<circle r="441.6" pathLength="360" stroke="#4a7bb4" stroke-dasharray="0 229 1 130"/>
<circle r="443.2" pathLength="360" stroke="#5468a0" stroke-dasharray="0 185 1 1 3 21 3 4 1 5 1 135"/>
<circle r="443.2" pathLength="360" stroke="#4660a6" stroke-dasharray="0 186 1 32 5 1 2 133"/>
<circle r="443.2" pathLength="360" stroke="#6674a6" stroke-dasharray="0 214 4 142"/>
<circle r="443.2" pathLength="360" stroke="#4a7bb4" stroke-dasharray="0 227 4 129"/>
<circle r="444.8" pathLength="360" stroke="#6674a6" stroke-dasharray="0 185 1 25 3 146"/>
<circle r="444.8" pathLength="360" stroke="#4660a6" stroke-dasharray="0 186 2 2 1 27 2 2 1 1 2 4 1 129"/>
<circle r="444.8" pathLength="360" stroke="#4a7bb4" stroke-dasharray="0 188 2 33 1 2 4 130"/>
<circle r="444.8" pathLength="360" stroke="#5468a0" stroke-dasharray="0 214 4 2 2 138"/>
<circle r="446.4" pathLength="360" stroke="#6674a6" stroke-dasharray="0 185 1 25 4 1 2 142"/>
<circle r="446.4" pathLength="360" stroke="#4660a6" stroke-dasharray="0 186 4 1 1 26 2 4 2 4 1 129"/>
<circle r="446.4" pathLength="360" stroke="#5468a0" stroke-dasharray="0 190 1 24 1 4 2 138"/>
<circle r="446.4" pathLength="360" stroke="#4a7bb4" stroke-dasharray="0 222 2 2 4 130"/>
<circle r="448" pathLength="360" stroke="#6674a6" stroke-dasharray="0 185 1 25 1 2 4 142"/>
<circle r="448" pathLength="360" stroke="#4660a6" stroke-dasharray="0 186 2 2 1 31 2 1 1 4 1 129"/>
<circle r="448" pathLength="360" stroke="#4a7bb4" stroke-dasharray="0 188 2 36 1 1 2 130"/>
<circle r="448" pathLength="360" stroke="#5468a0" stroke-dasharray="0 191 1 20 2 4 4 2 1 135"/>
<circle r="448" pathLength="360" stroke="#5a9ec9" stroke-dasharray="0 227 1 132"/>
<circle r="449.6" pathLength="360" stroke="#6674a6" stroke-dasharray="0 185 1 25 7 142"/>
<circle r="449.6" pathLength="360" stroke="#4660a6" stroke-dasharray="0 186 2 2 2 26 2 4 2 3 1 130"/>
<circle r="449.6" pathLength="360" stroke="#4a7bb4" stroke-dasharray="0 188 2 32 2 2 3 131"/>
<circle r="449.6" pathLength="360" stroke="#5468a0" stroke-dasharray="0 220 2 138"/>
<circle r="451.2" pathLength="360" stroke="#6674a6" stroke-dasharray="0 185 1 6 1 18 4 1 2 142"/>
<circle r="451.2" pathLength="360" stroke="#4660a6" stroke-dasharray="0 186 6 26 4 2 2 134"/>
<circle r="451.2" pathLength="360" stroke="#5468a0" stroke-dasharray="0 215 1 144"/>
<circle r="451.2" pathLength="360" stroke="#4a7bb4" stroke-dasharray="0 222 2 2 1 2 1 130"/>
<circle r="451.2" pathLength="360" stroke="#5a9ec9" stroke-dasharray="0 227 2 131"/>
<circle r="452.8" pathLength="360" stroke="#5468a0" stroke-dasharray="0 185 1 6 1 18 1 4 1 1 1 1 1 139"/>
<circle r="452.8" pathLength="360" stroke="#4a7bb4" stroke-dasharray="0 186 3 34 1 5 1 130"/>
<circle r="452.8" pathLength="360" stroke="#4660a6" stroke-dasharray="0 189 3 20 4 3 1 1 2 1 4 132"/>
<circle r="452.8" pathLength="360" stroke="#6674a6" stroke-dasharray="0 217 1 142"/>
<circle r="452.8" pathLength="360" stroke="#5a9ec9" stroke-dasharray="0 228 1 131"/>
<circle r="454.4" pathLength="360" stroke="#5468a0" stroke-dasharray="0 152 4 1 1 26 2 6 1 18 3 2 2 6 2 134"/>
<circle r="454.4" pathLength="360" stroke="#4660a6" stroke-dasharray="0 158 1 27 6 22 2 2 4 4 2 132"/>
<circle r="454.4" pathLength="360" stroke="#6674a6" stroke-dasharray="0 183 1 176"/>
<circle r="454.4" pathLength="360" stroke="#4a7bb4" stroke-dasharray="0 222 2 4 2 130"/>
<circle r="456" pathLength="360" stroke="#5468a0" stroke-dasharray="0 152 4 1 1 25 2 7 1 18 1 1 1 2 2 142"/>
<circle r="456" pathLength="360" stroke="#4660a6" stroke-dasharray="0 158 2 25 1 4 2 20 1 1 2 2 5 1 4 132"/>
<circle r="456" pathLength="360" stroke="#4a7bb4" stroke-dasharray="0 186 4 33 1 4 1 131"/>
<circle r="457.6" pathLength="360" stroke="#5468a0" stroke-dasharray="0 152 4 1 1 24 3 5 1 1 2 17 1 4 2 2 1 4 1 134"/>
<circle r="457.6" pathLength="360" stroke="#4660a6" stroke-dasharray="0 158 3 24 1 3 1 1 1 20 3 3 2 1 2 1 1 1 2 132"/>
<circle r="457.6" pathLength="360" stroke="#4a7bb4" stroke-dasharray="0 186 3 26 1 7 1 136"/>
<circle r="457.6" pathLength="360" stroke="#5a9ec9" stroke-dasharray="0 228 1 131"/>
<circle r="459.2" pathLength="360" stroke="#5468a0" stroke-dasharray="0 152 6 26 2 6 2 17 2 3 2 142"/>
<circle r="459.2" pathLength="360" stroke="#4660a6" stroke-dasharray="0 158 3 25 2 2 2 21 2 3 4 2 2 134"/>
<circle r="459.2" pathLength="360" stroke="#6674a6" stroke-dasharray="0 182 2 176"/>
<circle r="459.2" pathLength="360" stroke="#4a7bb4" stroke-dasharray="0 188 2 25 1 6 2 2 2 132"/>
<circle r="459.2" pathLength="360" stroke="#5a9ec9" stroke-dasharray="0 228 1 131"/>
<circle r="460.8" pathLength="360" stroke="#5468a0" stroke-dasharray="0 152 2 2 2 2 2 21 3 4 2 19 3 146"/>
<circle r="460.8" pathLength="360" stroke="#4660a6" stroke-dasharray="0 154 2 2 2 26 2 6 1 19 4 6 4 132"/>
<circle r="460.8" pathLength="360" stroke="#6674a6" stroke-dasharray="0 182 1 9 2 166"/>
<circle r="460.8" pathLength="360" stroke="#4a7bb4" stroke-dasharray="0 188 2 28 6 136"/>
<circle r="460.8" pathLength="360" stroke="#5a9ec9" stroke-dasharray="0 228 1 131"/>
<circle r="462.4" pathLength="360" stroke="#5468a0" stroke-dasharray="0 152 4 4 2 21 3 4 4 18 2 1 2 143"/>
<circle r="462.4" pathLength="360" stroke="#4660a6" stroke-dasharray="0 156 4 26 2 1 1 4 1 16 1 2 1 2 1 6 1 135"/>
<circle r="462.4" pathLength="360" stroke="#6674a6" stroke-dasharray="0 182 1 177"/>
<circle r="462.4" pathLength="360" stroke="#4a7bb4" stroke-dasharray="0 188 1 29 1 1 4 1 3 132"/>
<circle r="462.4" pathLength="360" stroke="#5a9ec9" stroke-dasharray="0 219 1 8 1 131"/>
<circle r="464" pathLength="360" stroke="#6674a6" stroke-dasharray="0 152 2 28 2 176"/>
<circle r="464" pathLength="360" stroke="#5468a0" stroke-dasharray="0 154 4 3 1 28 4 17 6 143"/>
<circle r="464" pathLength="360" stroke="#4660a6" stroke-dasharray="0 158 1 1 1 23 6 4 1 22 1 142"/>
<circle r="464" pathLength="360" stroke="#4a7bb4" stroke-dasharray="0 159 1 58 10 132"/>
<circle r="465.6" pathLength="360" stroke="#5468a0" stroke-dasharray="0 152 2 6 2 22 1 5 4 18 1 147"/>
<circle r="465.6" pathLength="360" stroke="#4660a6" stroke-dasharray="0 154 6 25 3 6 2 15 1 1 4 143"/>
<circle r="465.6" pathLength="360" stroke="#6674a6" stroke-dasharray="0 182 2 176"/>
<circle r="465.6" pathLength="360" stroke="#4a7bb4" stroke-dasharray="0 188 2 27 1 2 6 1 1 132"/>
<circle r="465.6" pathLength="360" stroke="#5a9ec9" stroke-dasharray="0 218 2 6 1 133"/>
<circle r="467.2" pathLength="360" stroke="#5468a0" stroke-dasharray="0 152 2 7 1 22 1 1 2 2 3 20 1 146"/>
<circle r="467.2" pathLength="360" stroke="#4660a6" stroke-dasharray="0 154 4 1 2 27 2 3 1 1 1 18 4 142"/>
<circle r="467.2" pathLength="360" stroke="#4a7bb4" stroke-dasharray="0 158 1 35 1 23 4 5 1 132"/>
<circle r="467.2" pathLength="360" stroke="#6674a6" stroke-dasharray="0 183 1 1 1 26 1 147"/>
<circle r="467.2" pathLength="360" stroke="#5a9ec9" stroke-dasharray="0 222 5 133"/>
<circle r="468.8" pathLength="360" stroke="#4a7bb4" stroke-dasharray="0 152 3 2 1 36 2 20 4 7 1 132"/>
<circle r="468.8" pathLength="360" stroke="#4660a6" stroke-dasharray="0 155 2 1 4 21 7 2 2 19 3 144"/>
<circle r="468.8" pathLength="360" stroke="#5468a0" stroke-dasharray="0 190 2 20 1 147"/>
<circle r="468.8" pathLength="360" stroke="#5a9ec9" stroke-dasharray="0 220 2 4 1 133"/>
<circle r="468.8" pathLength="360" stroke="#68c2dc" stroke-dasharray="0 222 4 134"/>
<circle r="470.4" pathLength="360" stroke="#4660a6" stroke-dasharray="0 151 2 3 2 2 2 22 1 6 1 22 2 144"/>
<circle r="470.4" pathLength="360" stroke="#4a7bb4" stroke-dasharray="0 153 3 36 2 1 1 20 4 140"/>
<circle r="470.4" pathLength="360" stroke="#5468a0" stroke-dasharray="0 158 2 23 1 1 6 21 2 146"/>
<circle r="470.4" pathLength="360" stroke="#5a9ec9" stroke-dasharray="0 194 1 25 2 4 1 133"/>
<circle r="470.4" pathLength="360" stroke="#68c2dc" stroke-dasharray="0 222 2 136"/>
<circle r="470.4" pathLength="360" stroke="#5fd8c2" stroke-dasharray="0 224 2 134"/>
<circle r="472" pathLength="360" stroke="#4660a6" stroke-dasharray="0 151 1 6 3 24 3 3 1 22 2 144"/>
<circle r="472" pathLength="360" stroke="#4a7bb4" stroke-dasharray="0 152 6 34 2 1 1 20 4 6 1 133"/>
<circle r="472" pathLength="360" stroke="#5468a0" stroke-dasharray="0 161 1 21 2 3 3 15 2 4 2 146"/>
<circle r="472" pathLength="360" stroke="#5a9ec9" stroke-dasharray="0 194 1 25 2 138"/>
<circle r="472" pathLength="360" stroke="#68c2dc" stroke-dasharray="0 222 4 134"/>
<circle r="473.6" pathLength="360" stroke="#4660a6" stroke-dasharray="0 151 3 1 2 1 3 25 2 1 1 2 2 12 3 4 1 146"/>
<circle r="473.6" pathLength="360" stroke="#4a7bb4" stroke-dasharray="0 154 1 2 1 36 2 18 3 143"/>
<circle r="473.6" pathLength="360" stroke="#5468a0" stroke-dasharray="0 183 3 2 1 1 2 20 1 147"/>
<circle r="473.6" pathLength="360" stroke="#5a9ec9" stroke-dasharray="0 217 5 4 1 133"/>
<circle r="473.6" pathLength="360" stroke="#68c2dc" stroke-dasharray="0 222 2 136"/>
<circle r="473.6" pathLength="360" stroke="#5fd8c2" stroke-dasharray="0 224 2 134"/>
<circle r="475.2" pathLength="360" stroke="#4660a6" stroke-dasharray="0 151 1 2 4 2 1 22 5 9 1 8 3 3 4 144"/>
<circle r="475.2" pathLength="360" stroke="#4a7bb4" stroke-dasharray="0 152 2 38 2 1 2 19 4 6 1 133"/>
<circle r="475.2" pathLength="360" stroke="#5468a0" stroke-dasharray="0 158 2 28 4 168"/>
<circle r="475.2" pathLength="360" stroke="#5a9ec9" stroke-dasharray="0 194 1 25 2 138"/>
<circle r="475.2" pathLength="360" stroke="#68c2dc" stroke-dasharray="0 222 4 134"/>
<circle r="476.8" pathLength="360" stroke="#5468a0" stroke-dasharray="0 151 1 6 1 1 1 25 6 14 2 3 2 147"/>
<circle r="476.8" pathLength="360" stroke="#4660a6" stroke-dasharray="0 152 1 3 2 50 1 4 1 146"/>
<circle r="476.8" pathLength="360" stroke="#4a7bb4" stroke-dasharray="0 153 1 38 2 2 2 16 3 1 3 139"/>
<circle r="476.8" pathLength="360" stroke="#5a9ec9" stroke-dasharray="0 154 2 38 2 21 1 3 1 138"/>
<circle r="476.8" pathLength="360" stroke="#6674a6" stroke-dasharray="0 159 1 24 2 174"/>
<circle r="476.8" pathLength="360" stroke="#68c2dc" stroke-dasharray="0 222 1 1 3 133"/>
<circle r="476.8" pathLength="360" stroke="#5fd8c2" stroke-dasharray="0 223 1 136"/>
<circle r="478.4" pathLength="360" stroke="#4660a6" stroke-dasharray="0 150 3 3 2 28 1 2 3 14 3 3 2 146"/>
<circle r="478.4" pathLength="360" stroke="#4a7bb4" stroke-dasharray="0 153 1 38 6 16 1 1 4 140"/>
<circle r="478.4" pathLength="360" stroke="#5a9ec9" stroke-dasharray="0 154 2 59 1 4 2 3 1 134"/>
<circle r="478.4" pathLength="360" stroke="#6674a6" stroke-dasharray="0 158 2 24 1 175"/>
<circle r="478.4" pathLength="360" stroke="#5468a0" stroke-dasharray="0 160 1 24 1 1 2 16 1 3 1 1 1 148"/>
<circle r="478.4" pathLength="360" stroke="#68c2dc" stroke-dasharray="0 222 3 135"/>
<circle r="480" pathLength="360" stroke="#4660a6" stroke-dasharray="0 150 4 2 2 34 1 14 1 4 2 146"/>
<circle r="480" pathLength="360" stroke="#5a9ec9" stroke-dasharray="0 154 2 38 2 19 1 5 1 3 1 134"/>
<circle r="480" pathLength="360" stroke="#6674a6" stroke-dasharray="0 158 2 25 1 4 2 168"/>
<circle r="480" pathLength="360" stroke="#5468a0" stroke-dasharray="0 186 4 15 2 1 4 148"/>
<circle r="480" pathLength="360" stroke="#4a7bb4" stroke-dasharray="0 193 1 2 2 16 1 1 5 139"/>
<circle r="480" pathLength="360" stroke="#68c2dc" stroke-dasharray="0 222 3 135"/>
<circle r="481.6" pathLength="360" stroke="#5468a0" stroke-dasharray="0 150 1 6 1 29 4 12 5 1 3 148"/>
<circle r="481.6" pathLength="360" stroke="#4660a6" stroke-dasharray="0 151 1 4 1 29 1 4 1 5 1 10 1 3 1 147"/>
<circle r="481.6" pathLength="360" stroke="#4a7bb4" stroke-dasharray="0 152 2 38 2 1 2 16 1 2 1 143"/>
<circle r="481.6" pathLength="360" stroke="#5a9ec9" stroke-dasharray="0 154 2 38 1 19 2 1 6 2 1 134"/>
<circle r="481.6" pathLength="360" stroke="#6674a6" stroke-dasharray="0 158 1 26 1 174"/>
<circle r="481.6" pathLength="360" stroke="#68c2dc" stroke-dasharray="0 223 2 135"/>
<circle r="483.2" pathLength="360" stroke="#5468a0" stroke-dasharray="0 150 2 5 1 28 6 6 1 3 5 2 3 148"/>
<circle r="483.2" pathLength="360" stroke="#4660a6" stroke-dasharray="0 152 1 3 1 50 2 3 2 146"/>
<circle r="483.2" pathLength="360" stroke="#4a7bb4" stroke-dasharray="0 153 1 38 2 1 3 16 3 1 1 141"/>
<circle r="483.2" pathLength="360" stroke="#5a9ec9" stroke-dasharray="0 154 2 38 1 22 1 1 3 138"/>
<circle r="483.2" pathLength="360" stroke="#6674a6" stroke-dasharray="0 158 1 26 1 174"/>
<circle r="483.2" pathLength="360" stroke="#68c2dc" stroke-dasharray="0 222 4 134"/>
<circle r="484.8" pathLength="360" stroke="#4660a6" stroke-dasharray="0 150 6 34 6 15 4 145"/>
<circle r="484.8" pathLength="360" stroke="#5468a0" stroke-dasharray="0 156 2 28 4 8 1 5 7 149"/>
<circle r="484.8" pathLength="360" stroke="#6674a6" stroke-dasharray="0 185 1 15 3 156"/>
<circle r="484.8" pathLength="360" stroke="#4a7bb4" stroke-dasharray="0 196 2 17 3 2 1 1 4 134"/>
<circle r="484.8" pathLength="360" stroke="#5a9ec9" stroke-dasharray="0 218 2 1 1 138"/>
<circle r="486.4" pathLength="360" stroke="#4660a6" stroke-dasharray="0 150 1 1 1 1 2 33 5 1 1 2 1 11 1 1 4 144"/>
<circle r="486.4" pathLength="360" stroke="#4a7bb4" stroke-dasharray="0 151 1 1 1 40 1 1 1 14 1 4 2 2 1 1 3 135"/>
<circle r="486.4" pathLength="360" stroke="#5468a0" stroke-dasharray="0 156 2 30 1 15 6 150"/>
<circle r="486.4" pathLength="360" stroke="#6674a6" stroke-dasharray="0 185 3 12 4 156"/>
<circle r="486.4" pathLength="360" stroke="#5a9ec9" stroke-dasharray="0 197 1 20 2 1 1 138"/>
<circle r="488" pathLength="360" stroke="#5468a0" stroke-dasharray="0 150 1 1 1 3 2 28 2 12 2 2 2 2 2 2 3 145"/>
<circle r="488" pathLength="360" stroke="#4660a6" stroke-dasharray="0 151 1 1 3 32 2 5 1 2 2 7 1 2 2 3 1 6 3 135"/>
<circle r="488" pathLength="360" stroke="#6674a6" stroke-dasharray="0 185 1 16 2 156"/>
<circle r="488" pathLength="360" stroke="#4a7bb4" stroke-dasharray="0 190 5 1 2 18 2 2 2 138"/>
<circle r="488" pathLength="360" stroke="#5a9ec9" stroke-dasharray="0 218 2 140"/>
<circle r="489.6" pathLength="360" stroke="#4660a6" stroke-dasharray="0 150 7 33 2 6 2 4 1 4 6 145"/>
<circle r="489.6" pathLength="360" stroke="#5468a0" stroke-dasharray="0 157 1 30 2 10 4 1 1 2 1 151"/>
<circle r="489.6" pathLength="360" stroke="#6674a6" stroke-dasharray="0 185 3 172"/>
<circle r="489.6" pathLength="360" stroke="#4a7bb4" stroke-dasharray="0 192 4 19 1 4 1 1 3 135"/>
<circle r="489.6" pathLength="360" stroke="#5a9ec9" stroke-dasharray="0 196 2 18 4 1 1 138"/>
<circle r="491.2" pathLength="360" stroke="#4660a6" stroke-dasharray="0 150 8 30 1 1 1 3 1 3 2 1 1 8 6 7 1 136"/>
<circle r="491.2" pathLength="360" stroke="#6674a6" stroke-dasharray="0 185 1 174"/>
<circle r="491.2" pathLength="360" stroke="#5468a0" stroke-dasharray="0 186 2 1 1 1 3 6 1 1 4 2 2 150"/>
<circle r="491.2" pathLength="360" stroke="#4a7bb4" stroke-dasharray="0 195 1 1 1 18 1 3 3 1 1 135"/>
<circle r="491.2" pathLength="360" stroke="#5a9ec9" stroke-dasharray="0 196 1 20 1 142"/>
<circle r="491.2" pathLength="360" stroke="#68c2dc" stroke-dasharray="0 218 2 140"/>
<circle r="492.8" pathLength="360" stroke="#5468a0" stroke-dasharray="0 150 2 2 3 28 1 2 4 3 1 4 1 7 4 148"/>
<circle r="492.8" pathLength="360" stroke="#4660a6" stroke-dasharray="0 152 2 32 2 4 3 1 4 1 1 2 2 6 6 142"/>
<circle r="492.8" pathLength="360" stroke="#6674a6" stroke-dasharray="0 157 1 202"/>
<circle r="492.8" pathLength="360" stroke="#4a7bb4" stroke-dasharray="0 202 2 16 1 1 3 135"/>
<circle r="492.8" pathLength="360" stroke="#5a9ec9" stroke-dasharray="0 218 2 1 1 138"/>
<circle r="494.4" pathLength="360" stroke="#5468a0" stroke-dasharray="0 151 7 27 2 1 4 13 1 4 3 1 1 145"/>
<circle r="494.4" pathLength="360" stroke="#4660a6" stroke-dasharray="0 187 1 4 4 4 2 1 2 8 1 1 1 6 2 136"/>
<circle r="494.4" pathLength="360" stroke="#4a7bb4" stroke-dasharray="0 196 1 1 2 2 1 13 2 2 2 138"/>
<circle r="494.4" pathLength="360" stroke="#5a9ec9" stroke-dasharray="0 197 1 20 2 4 1 135"/>
<circle r="494.4" pathLength="360" stroke="#6674a6" stroke-dasharray="0 208 2 150"/>
<circle r="496" pathLength="360" stroke="#5468a0" stroke-dasharray="0 151 1 2 1 2 1 27 1 5 1 8 1 1 4 2 3 3 1 145"/>
<circle r="496" pathLength="360" stroke="#4660a6" stroke-dasharray="0 152 2 1 2 29 5 1 4 2 2 11 3 1 1 1 1 142"/>
<circle r="496" pathLength="360" stroke="#4a7bb4" stroke-dasharray="0 196 2 18 1 3 4 136"/>
<circle r="496" pathLength="360" stroke="#6674a6" stroke-dasharray="0 201 1 158"/>
<circle r="496" pathLength="360" stroke="#5a9ec9" stroke-dasharray="0 218 2 140"/>
<circle r="497.6" pathLength="360" stroke="#4660a6" stroke-dasharray="0 150 1 1 2 2 1 33 6 2 5 1 1 7 4 144"/>
<circle r="497.6" pathLength="360" stroke="#5468a0" stroke-dasharray="0 151 1 2 2 1 1 28 4 15 1 3 3 148"/>
<circle r="497.6" pathLength="360" stroke="#4a7bb4" stroke-dasharray="0 196 2 5 1 12 2 4 2 136"/>
<circle r="497.6" pathLength="360" stroke="#68c2dc" stroke-dasharray="0 218 2 140"/>
<circle r="497.6" pathLength="360" stroke="#5a9ec9" stroke-dasharray="0 220 2 138"/>
<circle r="499.2" pathLength="360" stroke="#4660a6" stroke-dasharray="0 149 3 2 1 1 1 30 1 2 6 1 3 2 2 7 5 7 1 136"/>
<circle r="499.2" pathLength="360" stroke="#4a7bb4" stroke-dasharray="0 152 2 42 1 19 1 3 3 137"/>
<circle r="499.2" pathLength="360" stroke="#5468a0" stroke-dasharray="0 155 1 1 1 28 1 1 2 10 2 2 2 2 3 149"/>
<circle r="499.2" pathLength="360" stroke="#5a9ec9" stroke-dasharray="0 217 1 142"/>
<circle r="499.2" pathLength="360" stroke="#68c2dc" stroke-dasharray="0 218 2 140"/>
<circle r="500.8" pathLength="360" stroke="#5468a0" stroke-dasharray="0 149 2 5 2 41 1 8 1 151"/>
<circle r="500.8" pathLength="360" stroke="#4660a6" stroke-dasharray="0 151 1 2 2 30 13 1 2 2 2 3 2 149"/>
<circle r="500.8" pathLength="360" stroke="#4a7bb4" stroke-dasharray="0 152 2 48 2 7 1 10 2 136"/>
<circle r="500.8" pathLength="360" stroke="#5a9ec9" stroke-dasharray="0 212 10 138"/>
<circle r="502.4" pathLength="360" stroke="#4660a6" stroke-dasharray="0 148 2 2 4 30 3 3 9 1 5 2 3 10 2 136"/>
<circle r="502.4" pathLength="360" stroke="#5468a0" stroke-dasharray="0 150 2 4 1 32 3 9 1 6 1 151"/>
<circle r="502.4" pathLength="360" stroke="#6674a6" stroke-dasharray="0 157 1 202"/>
<circle r="502.4" pathLength="360" stroke="#5a9ec9" stroke-dasharray="0 212 6 2 2 138"/>
<circle r="502.4" pathLength="360" stroke="#4a7bb4" stroke-dasharray="0 218 2 140"/>
<circle r="504" pathLength="360" stroke="#5468a0" stroke-dasharray="0 148 3 3 4 28 1 1 3 17 1 151"/>
<circle r="504" pathLength="360" stroke="#4660a6" stroke-dasharray="0 151 3 33 1 3 1 2 8 2 3 2 1 150"/>
<circle r="504" pathLength="360" stroke="#4a7bb4" stroke-dasharray="0 192 2 8 2 6 2 10 1 137"/>
<circle r="504" pathLength="360" stroke="#5a9ec9" stroke-dasharray="0 212 3 4 3 138"/>
<circle r="504" pathLength="360" stroke="#68c2dc" stroke-dasharray="0 215 4 141"/>
<circle r="505.6" pathLength="360" stroke="#5468a0" stroke-dasharray="0 148 1 7 1 29 3 19 2 150"/>
<circle r="505.6" pathLength="360" stroke="#4660a6" stroke-dasharray="0 149 3 37 4 3 6 1 4 3 1 149"/>
<circle r="505.6" pathLength="360" stroke="#4a7bb4" stroke-dasharray="0 152 4 37 3 6 1 8 1 2 1 7 1 137"/>
<circle r="505.6" pathLength="360" stroke="#6674a6" stroke-dasharray="0 157 1 202"/>
<circle r="505.6" pathLength="360" stroke="#5a9ec9" stroke-dasharray="0 212 2 1 5 140"/>
<circle r="505.6" pathLength="360" stroke="#68c2dc" stroke-dasharray="0 220 2 138"/>
<circle r="507.2" pathLength="360" stroke="#5468a0" stroke-dasharray="0 148 1 1 2 2 2 30 1 12 1 8 1 151"/>
<circle r="507.2" pathLength="360" stroke="#4660a6" stroke-dasharray="0 149 1 2 2 33 9 1 2 1 7 2 1 12 1 137"/>
<circle r="507.2" pathLength="360" stroke="#6674a6" stroke-dasharray="0 156 2 202"/>
<circle r="507.2" pathLength="360" stroke="#4a7bb4" stroke-dasharray="0 196 1 13 2 2 1 145"/>
<circle r="507.2" pathLength="360" stroke="#5a9ec9" stroke-dasharray="0 212 2 1 1 2 4 138"/>
<circle r="507.2" pathLength="360" stroke="#68c2dc" stroke-dasharray="0 216 2 142"/>
<circle r="508.8" pathLength="360" stroke="#6674a6" stroke-dasharray="0 148 1 7 2 202"/>
<circle r="508.8" pathLength="360" stroke="#5468a0" stroke-dasharray="0 149 3 3 1 30 1 9 4 6 1 1 1 151"/>
<circle r="508.8" pathLength="360" stroke="#4a7bb4" stroke-dasharray="0 152 2 34 1 13 4 14 3 137"/>
<circle r="508.8" pathLength="360" stroke="#4660a6" stroke-dasharray="0 154 1 13 2 17 1 1 7 4 2 7 1 150"/>
<circle r="508.8" pathLength="360" stroke="#5a9ec9" stroke-dasharray="0 210 2 6 2 140"/>
<circle r="508.8" pathLength="360" stroke="#68c2dc" stroke-dasharray="0 212 6 142"/>
<circle r="510.4" pathLength="360" stroke="#5468a0" stroke-dasharray="0 148 4 16 2 2 1 13 2 6 6 6 3 151"/>
<circle r="510.4" pathLength="360" stroke="#4a7bb4" stroke-dasharray="0 152 2 35 3 10 4 14 3 137"/>
<circle r="510.4" pathLength="360" stroke="#4660a6" stroke-dasharray="0 154 2 10 2 5 2 13 1 3 2 6 2 7 1 150"/>
<circle r="510.4" pathLength="360" stroke="#6674a6" stroke-dasharray="0 156 1 13 1 189"/>
<circle r="510.4" pathLength="360" stroke="#5a9ec9" stroke-dasharray="0 210 10 140"/>
<circle r="512" pathLength="360" stroke="#6674a6" stroke-dasharray="0 149 3 4 1 19 1 183"/>
<circle r="512" pathLength="360" stroke="#4a7bb4" stroke-dasharray="0 152 2 34 5 8 1 8 1 10 2 137"/>
<circle r="512" pathLength="360" stroke="#4660a6" stroke-dasharray="0 154 2 10 2 4 2 12 2 5 1 6 1 5 4 150"/>
<circle r="512" pathLength="360" stroke="#5468a0" stroke-dasharray="0 168 4 2 2 18 6 160"/>
<circle r="512" pathLength="360" stroke="#5a9ec9" stroke-dasharray="0 202 4 5 1 6 3 139"/>
<circle r="512" pathLength="360" stroke="#68c2dc" stroke-dasharray="0 212 1 2 3 142"/>
<circle r="512" pathLength="360" stroke="#5fd8c2" stroke-dasharray="0 213 2 145"/>
<circle r="513.6" pathLength="360" stroke="#5468a0" stroke-dasharray="0 150 1 17 11 7 1 9 2 8 3 151"/>
<circle r="513.6" pathLength="360" stroke="#6674a6" stroke-dasharray="0 151 1 4 1 203"/>
<circle r="513.6" pathLength="360" stroke="#4a7bb4" stroke-dasharray="0 152 2 37 1 8 2 1 3 14 2 138"/>
<circle r="513.6" pathLength="360" stroke="#4660a6" stroke-dasharray="0 154 2 10 2 19 4 1 4 2 2 9 1 150"/>
<circle r="513.6" pathLength="360" stroke="#5a9ec9" stroke-dasharray="0 202 1 7 1 7 2 140"/>
<circle r="513.6" pathLength="360" stroke="#68c2dc" stroke-dasharray="0 211 7 142"/>
<circle r="515.2" pathLength="360" stroke="#6674a6" stroke-dasharray="0 151 1 4 1 13 2 24 3 161"/>
<circle r="515.2" pathLength="360" stroke="#4a7bb4" stroke-dasharray="0 152 2 35 4 9 4 154"/>
<circle r="515.2" pathLength="360" stroke="#4660a6" stroke-dasharray="0 154 2 10 2 4 4 4 1 7 1 4 1 6 2 4 2 1 1 150"/>
<circle r="515.2" pathLength="360" stroke="#5468a0" stroke-dasharray="0 165 1 2 2 6 4 6 2 6 2 3 1 8 1 151"/>
<circle r="515.2" pathLength="360" stroke="#5a9ec9" stroke-dasharray="0 210 1 9 2 138"/>
<circle r="515.2" pathLength="360" stroke="#68c2dc" stroke-dasharray="0 211 9 140"/>
<circle r="516.8" pathLength="360" stroke="#4a7bb4" stroke-dasharray="0 152 2 12 1 19 1 1 1 1 6 13 1 150"/>
<circle r="516.8" pathLength="360" stroke="#4660a6" stroke-dasharray="0 154 2 8 2 1 1 4 4 20 6 2 2 2 1 151"/>
<circle r="516.8" pathLength="360" stroke="#5468a0" stroke-dasharray="0 156 1 11 4 4 5 21 2 2 2 152"/>
<circle r="516.8" pathLength="360" stroke="#5a9ec9" stroke-dasharray="0 187 1 1 1 23 3 2 4 138"/>
<circle r="516.8" pathLength="360" stroke="#68c2dc" stroke-dasharray="0 210 3 3 2 142"/>
<circle r="518.4" pathLength="360" stroke="#4a7bb4" stroke-dasharray="0 152 2 37 1 2 2 25 1 138"/>
<circle r="518.4" pathLength="360" stroke="#4660a6" stroke-dasharray="0 154 1 11 2 4 8 6 5 8 3 5 3 150"/>
<circle r="518.4" pathLength="360" stroke="#5468a0" stroke-dasharray="0 155 2 6 3 2 4 8 2 14 3 3 5 153"/>
<circle r="518.4" pathLength="360" stroke="#5a9ec9" stroke-dasharray="0 192 2 16 5 5 1 139"/>
<circle r="518.4" pathLength="360" stroke="#68c2dc" stroke-dasharray="0 215 1 2 2 140"/>
<circle r="518.4" pathLength="360" stroke="#5fd8c2" stroke-dasharray="0 216 2 142"/>
<circle r="520" pathLength="360" stroke="#4660a6" stroke-dasharray="0 152 4 10 2 4 4 2 3 15 6 2 3 1 2 150"/>
<circle r="520" pathLength="360" stroke="#5468a0" stroke-dasharray="0 163 3 2 4 4 2 3 1 20 2 3 1 152"/>
<circle r="520" pathLength="360" stroke="#5a9ec9" stroke-dasharray="0 186 2 22 2 6 4 138"/>
<circle r="520" pathLength="360" stroke="#4a7bb4" stroke-dasharray="0 188 8 164"/>
<circle r="520" pathLength="360" stroke="#68c2dc" stroke-dasharray="0 212 6 142"/>
<circle r="521.6" pathLength="360" stroke="#5468a0" stroke-dasharray="0 146 1 15 2 9 1 22 3 3 2 2 1 153"/>
<circle r="521.6" pathLength="360" stroke="#4660a6" stroke-dasharray="0 152 1 1 2 8 3 1 5 1 5 1 3 16 3 2 2 1 2 151"/>
<circle r="521.6" pathLength="360" stroke="#4a7bb4" stroke-dasharray="0 153 1 13 1 11 1 6 10 13 1 150"/>
<circle r="521.6" pathLength="360" stroke="#5a9ec9" stroke-dasharray="0 210 3 5 4 138"/>
<circle r="521.6" pathLength="360" stroke="#68c2dc" stroke-dasharray="0 213 5 142"/>
<circle r="523.2" pathLength="360" stroke="#5468a0" stroke-dasharray="0 144 4 13 5 2 4 8 3 19 3 155"/>
<circle r="523.2" pathLength="360" stroke="#4a7bb4" stroke-dasharray="0 153 2 32 3 2 4 22 3 139"/>
<circle r="523.2" pathLength="360" stroke="#4660a6" stroke-dasharray="0 155 1 10 2 4 8 6 1 3 2 4 6 3 5 150"/>
<circle r="523.2" pathLength="360" stroke="#5a9ec9" stroke-dasharray="0 210 2 2 4 142"/>
<circle r="523.2" pathLength="360" stroke="#68c2dc" stroke-dasharray="0 212 2 146"/>
<circle r="524.8" pathLength="360" stroke="#5468a0" stroke-dasharray="0 144 4 14 1 15 2 16 2 162"/>
<circle r="524.8" pathLength="360" stroke="#4660a6" stroke-dasharray="0 148 1 4 3 7 7 4 4 2 4 2 2 10 2 2 1 157"/>
<circle r="524.8" pathLength="360" stroke="#6674a6" stroke-dasharray="0 160 2 198"/>
<circle r="524.8" pathLength="360" stroke="#4a7bb4" stroke-dasharray="0 170 4 14 8 4 2 1 6 5 2 4 1 139"/>
<circle r="524.8" pathLength="360" stroke="#5a9ec9" stroke-dasharray="0 209 5 2 4 140"/>
<circle r="526.4" pathLength="360" stroke="#5468a0" stroke-dasharray="0 144 3 1 2 18 2 8 1 181"/>
<circle r="526.4" pathLength="360" stroke="#6674a6" stroke-dasharray="0 147 1 12 2 34 2 162"/>
<circle r="526.4" pathLength="360" stroke="#4660a6" stroke-dasharray="0 153 2 4 1 2 6 2 1 2 5 1 5 2 1 7 2 2 2 2 6 152"/>
<circle r="526.4" pathLength="360" stroke="#4a7bb4" stroke-dasharray="0 171 2 14 3 1 3 6 2 6 3 1 1 1 2 144"/>
<circle r="526.4" pathLength="360" stroke="#5a9ec9" stroke-dasharray="0 190 1 20 1 1 1 2 2 2 1 139"/>
<circle r="526.4" pathLength="360" stroke="#68c2dc" stroke-dasharray="0 218 2 140"/>
<circle r="528" pathLength="360" stroke="#4660a6" stroke-dasharray="0 144 6 3 2 7 6 2 3 1 4 4 1 3 2 6 2 2 2 2 2 156"/>
<circle r="528" pathLength="360" stroke="#5468a0" stroke-dasharray="0 150 1 9 2 6 2 8 4 1 2 11 2 162"/>
<circle r="528" pathLength="360" stroke="#4a7bb4" stroke-dasharray="0 159 1 13 1 14 6 6 2 2 5 3 2 6 1 139"/>
<circle r="528" pathLength="360" stroke="#5a9ec9" stroke-dasharray="0 209 3 2 2 1 1 1 1 140"/>
<circle r="528" pathLength="360" stroke="#68c2dc" stroke-dasharray="0 216 1 1 1 141"/>
<circle r="529.6" pathLength="360" stroke="#5468a0" stroke-dasharray="0 144 1 5 2 1 2 3 2 2 2 4 2 8 4 2 2 10 2 162"/>
<circle r="529.6" pathLength="360" stroke="#4660a6" stroke-dasharray="0 145 5 14 4 2 1 2 5 4 2 2 1 8 1 6 2 156"/>
<circle r="529.6" pathLength="360" stroke="#6674a6" stroke-dasharray="0 160 2 198"/>
<circle r="529.6" pathLength="360" stroke="#4a7bb4" stroke-dasharray="0 171 2 14 8 3 2 1 1 2 7 1 4 144"/>
<circle r="529.6" pathLength="360" stroke="#5a9ec9" stroke-dasharray="0 200 1 10 1 8 1 139"/>
<circle r="529.6" pathLength="360" stroke="#68c2dc" stroke-dasharray="0 216 2 142"/>
<circle r="529.6" pathLength="360" stroke="#5fd8c2" stroke-dasharray="0 218 2 140"/>
<circle r="531.2" pathLength="360" stroke="#5468a0" stroke-dasharray="0 144 4 2 1 1 1 1 1 6 1 16 4 2 1 11 2 162"/>
<circle r="531.2" pathLength="360" stroke="#4660a6" stroke-dasharray="0 148 2 8 2 2 2 4 2 1 1 2 4 4 2 1 2 8 1 2 1 3 7 151"/>
<circle r="531.2" pathLength="360" stroke="#6674a6" stroke-dasharray="0 151 1 8 1 199"/>
<circle r="531.2" pathLength="360" stroke="#4a7bb4" stroke-dasharray="0 164 4 2 1 1 2 13 8 4 1 9 7 144"/>
<circle r="531.2" pathLength="360" stroke="#5a9ec9" stroke-dasharray="0 200 2 14 1 3 1 139"/>
<circle r="531.2" pathLength="360" stroke="#68c2dc" stroke-dasharray="0 217 3 140"/>
<circle r="532.8" pathLength="360" stroke="#4660a6" stroke-dasharray="0 144 9 5 1 1 4 2 2 2 4 5 1 2 2 2 2 2 6 2 5 157"/>
<circle r="532.8" pathLength="360" stroke="#5468a0" stroke-dasharray="0 154 1 2 1 6 2 8 5 5 2 2 2 6 2 162"/>
<circle r="532.8" pathLength="360" stroke="#4a7bb4" stroke-dasharray="0 159 1 8 2 10 2 21 6 11 1 139"/>
<circle r="532.8" pathLength="360" stroke="#5a9ec9" stroke-dasharray="0 209 11 140"/>
<circle r="534.4" pathLength="360" stroke="#5468a0" stroke-dasharray="0 144 3 6 1 2 2 6 2 1 1 2 2 16 2 2 1 167"/>
<circle r="534.4" pathLength="360" stroke="#4660a6" stroke-dasharray="0 147 3 1 2 5 1 1 4 2 1 1 2 2 8 3 5 2 2 1 1 2 2 2 7 153"/>
<circle r="534.4" pathLength="360" stroke="#4a7bb4" stroke-dasharray="0 150 1 8 1 20 3 11 2 2 2 7 1 11 1 140"/>
<circle r="534.4" pathLength="360" stroke="#5a9ec9" stroke-dasharray="0 208 2 2 7 141"/>
<circle r="534.4" pathLength="360" stroke="#68c2dc" stroke-dasharray="0 210 2 148"/>
<circle r="536" pathLength="360" stroke="#4660a6" stroke-dasharray="0 144 6 2 2 2 2 2 4 2 2 2 4 2 2 3 7 5 1 2 2 3 5 154"/>
<circle r="536" pathLength="360" stroke="#4a7bb4" stroke-dasharray="0 150 2 6 2 8 2 10 1 13 2 2 3 5 2 4 1 6 1 140"/>
<circle r="536" pathLength="360" stroke="#5468a0" stroke-dasharray="0 164 2 8 2 2 2 8 5 167"/>
<circle r="536" pathLength="360" stroke="#5a9ec9" stroke-dasharray="0 208 4 1 6 141"/>
<circle r="537.6" pathLength="360" stroke="#5468a0" stroke-dasharray="0 144 4 6 2 8 2 12 2 16 2 162"/>
<circle r="537.6" pathLength="360" stroke="#4660a6" stroke-dasharray="0 148 2 2 2 2 2 2 4 2 1 3 8 2 1 3 6 3 1 1 1 2 8 154"/>
<circle r="537.6" pathLength="360" stroke="#4a7bb4" stroke-dasharray="0 150 2 15 3 11 3 6 3 1 1 11 3 10 1 140"/>
<circle r="537.6" pathLength="360" stroke="#5a9ec9" stroke-dasharray="0 158 2 49 2 1 7 141"/>
<circle r="537.6" pathLength="360" stroke="#68c2dc" stroke-dasharray="0 211 1 148"/>
<circle r="539.2" pathLength="360" stroke="#4660a6" stroke-dasharray="0 144 3 1 2 3 1 2 2 4 2 2 2 3 3 2 3 3 1 1 3 1 2 1 3 3 1 2 1 159"/>
<circle r="539.2" pathLength="360" stroke="#5468a0" stroke-dasharray="0 147 1 6 2 8 2 8 2 3 1 180"/>
<circle r="539.2" pathLength="360" stroke="#4a7bb4" stroke-dasharray="0 150 3 7 2 6 3 9 2 1 1 3 1 2 1 3 1 1 1 1 2 1 6 153"/>
<circle r="539.2" pathLength="360" stroke="#5a9ec9" stroke-dasharray="0 158 2 35 1 11 7 1 5 140"/>
<circle r="539.2" pathLength="360" stroke="#68c2dc" stroke-dasharray="0 214 1 145"/>
<circle r="540.8" pathLength="360" stroke="#5468a0" stroke-dasharray="0 144 1 2 1 12 5 7 4 16 2 2 2 1 2 159"/>
<circle r="540.8" pathLength="360" stroke="#4660a6" stroke-dasharray="0 145 2 1 2 3 3 3 1 5 3 1 3 4 4 7 5 2 2 5 4 155"/>
<circle r="540.8" pathLength="360" stroke="#4a7bb4" stroke-dasharray="0 150 3 3 3 9 1 13 5 18 1 154"/>
<circle r="540.8" pathLength="360" stroke="#5a9ec9" stroke-dasharray="0 180 2 24 2 3 3 2 4 140"/>
<circle r="540.8" pathLength="360" stroke="#6674a6" stroke-dasharray="0 198 1 161"/>
<circle r="540.8" pathLength="360" stroke="#68c2dc" stroke-dasharray="0 208 3 3 2 144"/>
<circle r="542.4" pathLength="360" stroke="#5468a0" stroke-dasharray="0 144 4 12 4 8 2 5 1 13 1 4 6 156"/>
<circle r="542.4" pathLength="360" stroke="#4660a6" stroke-dasharray="0 148 2 2 4 8 4 2 2 2 5 8 6 2 3 6 2 154"/>
<circle r="542.4" pathLength="360" stroke="#4a7bb4" stroke-dasharray="0 150 2 4 4 8 2 10 1 1 5 7 1 11 1 12 1 140"/>
<circle r="542.4" pathLength="360" stroke="#5a9ec9" stroke-dasharray="0 181 1 25 7 2 3 141"/>
<circle r="542.4" pathLength="360" stroke="#68c2dc" stroke-dasharray="0 214 2 144"/>
<circle r="544" pathLength="360" stroke="#5468a0" stroke-dasharray="0 144 4 1 1 10 2 1 1 8 4 23 3 158"/>
<circle r="544" pathLength="360" stroke="#4660a6" stroke-dasharray="0 148 1 1 2 2 2 3 1 2 1 1 8 4 4 10 4 2 2 4 4 154"/>
<circle r="544" pathLength="360" stroke="#4a7bb4" stroke-dasharray="0 152 2 2 3 23 8 4 2 164"/>
<circle r="544" pathLength="360" stroke="#5a9ec9" stroke-dasharray="0 180 2 24 8 2 4 140"/>
<circle r="544" pathLength="360" stroke="#6674a6" stroke-dasharray="0 198 1 161"/>
<circle r="544" pathLength="360" stroke="#68c2dc" stroke-dasharray="0 214 2 144"/>
<circle r="545.6" pathLength="360" stroke="#4660a6" stroke-dasharray="0 144 1 5 1 2 3 2 2 5 4 1 2 3 5 10 2 4 2 6 1 155"/>
<circle r="545.6" pathLength="360" stroke="#5468a0" stroke-dasharray="0 145 5 10 5 7 3 17 2 4 6 156"/>
<circle r="545.6" pathLength="360" stroke="#4a7bb4" stroke-dasharray="0 151 2 3 2 11 1 12 8 4 2 9 1 154"/>
<circle r="545.6" pathLength="360" stroke="#5a9ec9" stroke-dasharray="0 180 2 24 1 3 4 2 3 141"/>
<circle r="545.6" pathLength="360" stroke="#68c2dc" stroke-dasharray="0 207 3 4 2 144"/>
<circle r="547.2" pathLength="360" stroke="#5468a0" stroke-dasharray="0 145 3 12 5 1 1 24 3 4 2 160"/>
<circle r="547.2" pathLength="360" stroke="#4660a6" stroke-dasharray="0 148 2 4 2 2 2 5 1 1 2 1 10 9 2 6 1 2 5 155"/>
<circle r="547.2" pathLength="360" stroke="#4a7bb4" stroke-dasharray="0 150 4 2 2 11 1 10 9 5 1 1 1 8 1 154"/>
<circle r="547.2" pathLength="360" stroke="#5a9ec9" stroke-dasharray="0 195 1 10 2 2 5 1 1 143"/>
<circle r="547.2" pathLength="360" stroke="#68c2dc" stroke-dasharray="0 208 2 5 1 1 2 141"/>
<circle r="548.8" pathLength="360" stroke="#6674a6" stroke-dasharray="0 146 4 10 2 198"/>
<circle r="548.8" pathLength="360" stroke="#5468a0" stroke-dasharray="0 150 2 10 2 2 6 7 2 11 2 4 1 161"/>
<circle r="548.8" pathLength="360" stroke="#4a7bb4" stroke-dasharray="0 152 2 22 2 10 4 14 2 4 2 2 3 141"/>
<circle r="548.8" pathLength="360" stroke="#5a9ec9" stroke-dasharray="0 154 4 50 4 2 2 144"/>
<circle r="548.8" pathLength="360" stroke="#4660a6" stroke-dasharray="0 158 2 4 2 6 4 2 1 2 7 6 4 1 7 154"/>
<circle r="550.4" pathLength="360" stroke="#6674a6" stroke-dasharray="0 148 1 11 2 198"/>
<circle r="550.4" pathLength="360" stroke="#5468a0" stroke-dasharray="0 149 2 7 2 2 1 1 1 1 2 30 1 161"/>
<circle r="550.4" pathLength="360" stroke="#4660a6" stroke-dasharray="0 151 1 3 1 9 1 2 8 2 12 2 2 3 1 1 7 154"/>
<circle r="550.4" pathLength="360" stroke="#4a7bb4" stroke-dasharray="0 152 3 1 2 18 2 12 2 2 3 9 1 2 5 2 2 142"/>
<circle r="550.4" pathLength="360" stroke="#5a9ec9" stroke-dasharray="0 207 2 5 2 2 1 141"/>
<circle r="552" pathLength="360" stroke="#6674a6" stroke-dasharray="0 148 2 10 2 4 2 192"/>
<circle r="552" pathLength="360" stroke="#5468a0" stroke-dasharray="0 150 2 6 2 4 2 2 3 3 2 7 1 8 2 4 3 159"/>
<circle r="552" pathLength="360" stroke="#4a7bb4" stroke-dasharray="0 152 6 19 2 15 1 15 1 1 1 147"/>
<circle r="552" pathLength="360" stroke="#4660a6" stroke-dasharray="0 171 3 2 1 2 4 1 8 3 3 3 5 154"/>
<circle r="552" pathLength="360" stroke="#5a9ec9" stroke-dasharray="0 206 4 1 1 1 2 1 3 141"/>
<circle r="552" pathLength="360" stroke="#68c2dc" stroke-dasharray="0 215 1 144"/>
<circle r="553.6" pathLength="360" stroke="#5468a0" stroke-dasharray="0 148 1 1 2 6 2 2 1 1 1 2 5 188"/>
<circle r="553.6" pathLength="360" stroke="#6674a6" stroke-dasharray="0 149 1 10 2 4 1 193"/>
<circle r="553.6" pathLength="360" stroke="#4a7bb4" stroke-dasharray="0 152 6 16 2 1 1 12 2 2 4 7 1 6 2 2 3 141"/>
<circle r="553.6" pathLength="360" stroke="#4660a6" stroke-dasharray="0 165 1 6 2 4 12 2 2 4 7 155"/>
<circle r="553.6" pathLength="360" stroke="#5a9ec9" stroke-dasharray="0 176 1 29 6 2 2 144"/>
<circle r="555.2" pathLength="360" stroke="#6674a6" stroke-dasharray="0 148 2 10 4 2 1 193"/>
<circle r="555.2" pathLength="360" stroke="#4660a6" stroke-dasharray="0 150 1 8 1 5 1 2 1 3 18 4 4 1 7 154"/>
<circle r="555.2" pathLength="360" stroke="#5468a0" stroke-dasharray="0 151 1 6 1 5 1 2 1 1 3 20 2 4 1 161"/>
<circle r="555.2" pathLength="360" stroke="#4a7bb4" stroke-dasharray="0 152 4 1 1 32 2 14 1 5 2 2 3 141"/>
<circle r="555.2" pathLength="360" stroke="#5a9ec9" stroke-dasharray="0 156 1 50 5 2 2 144"/>
<circle r="556.8" pathLength="360" stroke="#6674a6" stroke-dasharray="0 136 3 221"/>
<circle r="556.8" pathLength="360" stroke="#5468a0" stroke-dasharray="0 149 3 3 1 2 4 12 4 182"/>
<circle r="556.8" pathLength="360" stroke="#4660a6" stroke-dasharray="0 152 3 1 2 4 2 3 7 6 4 2 4 2 2 2 4 1 4 155"/>
<circle r="556.8" pathLength="360" stroke="#4a7bb4" stroke-dasharray="0 164 3 11 2 4 2 4 2 2 2 4 1 4 1 6 2 3 1 142"/>
<circle r="556.8" pathLength="360" stroke="#5a9ec9" stroke-dasharray="0 206 6 2 3 143"/>
<circle r="558.4" pathLength="360" stroke="#6674a6" stroke-dasharray="0 136 3 221"/>
<circle r="558.4" pathLength="360" stroke="#5468a0" stroke-dasharray="0 150 2 3 1 2 3 15 1 19 1 1 1 161"/>
<circle r="558.4" pathLength="360" stroke="#4660a6" stroke-dasharray="0 152 3 1 1 4 3 7 5 1 1 2 4 2 4 2 4 1 1 1 1 3 1 8 1 4 1 142"/>
<circle r="558.4" pathLength="360" stroke="#5a9ec9" stroke-dasharray="0 164 2 40 2 152"/>
<circle r="558.4" pathLength="360" stroke="#4a7bb4" stroke-dasharray="0 166 5 7 2 4 2 4 2 8 3 1 2 2 4 1 4 143"/>
<circle r="560" pathLength="360" stroke="#6674a6" stroke-dasharray="0 136 3 11 2 208"/>
<circle r="560" pathLength="360" stroke="#5468a0" stroke-dasharray="0 152 3 32 1 172"/>
<circle r="560" pathLength="360" stroke="#4660a6" stroke-dasharray="0 158 6 6 8 2 4 2 1 1 2 6 9 155"/>
<circle r="560" pathLength="360" stroke="#4a7bb4" stroke-dasharray="0 164 6 8 2 4 2 4 6 9 1 2 6 3 1 142"/>
<circle r="560" pathLength="360" stroke="#5a9ec9" stroke-dasharray="0 206 2 6 3 143"/>
<circle r="561.6" pathLength="360" stroke="#6674a6" stroke-dasharray="0 136 3 12 1 208"/>
<circle r="561.6" pathLength="360" stroke="#5468a0" stroke-dasharray="0 152 1 1 1 7 2 12 2 182"/>
<circle r="561.6" pathLength="360" stroke="#4660a6" stroke-dasharray="0 153 1 4 4 5 1 2 6 2 6 2 2 4 2 2 8 8 1 4 1 142"/>
<circle r="561.6" pathLength="360" stroke="#4a7bb4" stroke-dasharray="0 164 3 1 2 14 2 2 4 2 2 8 2 3 3 1 4 143"/>
<circle r="561.6" pathLength="360" stroke="#5a9ec9" stroke-dasharray="0 206 3 151"/>
<circle r="563.2" pathLength="360" stroke="#6674a6" stroke-dasharray="0 136 3 221"/>
<circle r="563.2" pathLength="360" stroke="#5468a0" stroke-dasharray="0 152 1 2 1 204"/>
<circle r="563.2" pathLength="360" stroke="#4660a6" stroke-dasharray="0 153 2 3 6 6 8 2 4 2 2 1 1 1 14 12 1 142"/>
<circle r="563.2" pathLength="360" stroke="#5a9ec9" stroke-dasharray="0 164 2 44 2 148"/>
<circle r="563.2" pathLength="360" stroke="#4a7bb4" stroke-dasharray="0 166 4 8 2 4 2 2 1 1 1 14 5 2 5 143"/>
<circle r="564.8" pathLength="360" stroke="#5468a0" stroke-dasharray="0 136 1 1 1 19 1 201"/>
<circle r="564.8" pathLength="360" stroke="#4660a6" stroke-dasharray="0 137 1 14 2 1 1 3 3 2 1 3 4 5 3 8 3 1 2 5 1 4 2 154"/>
<circle r="564.8" pathLength="360" stroke="#4a7bb4" stroke-dasharray="0 154 1 7 2 1 3 6 3 3 8 3 1 2 5 1 4 7 1 5 1 142"/>
<circle r="564.8" pathLength="360" stroke="#6674a6" stroke-dasharray="0 172 2 186"/>
<circle r="564.8" pathLength="360" stroke="#5a9ec9" stroke-dasharray="0 206 5 3 1 1 1 143"/>
<circle r="564.8" pathLength="360" stroke="#68c2dc" stroke-dasharray="0 212 2 1 1 144"/>
<circle r="566.4" pathLength="360" stroke="#5468a0" stroke-dasharray="0 136 2 32 2 1 1 5 1 8 2 14 1 155"/>
<circle r="566.4" pathLength="360" stroke="#6674a6" stroke-dasharray="0 138 1 33 1 187"/>
<circle r="566.4" pathLength="360" stroke="#4660a6" stroke-dasharray="0 153 1 6 2 6 2 6 3 1 2 5 1 2 4 1 5 5 1 11 1 142"/>
<circle r="566.4" pathLength="360" stroke="#4a7bb4" stroke-dasharray="0 154 2 2 2 2 6 6 2 6 5 7 1 5 1 1 2 2 6 4 1 143"/>
<circle r="566.4" pathLength="360" stroke="#5a9ec9" stroke-dasharray="0 201 1 12 2 144"/>
<circle r="566.4" pathLength="360" stroke="#68c2dc" stroke-dasharray="0 212 2 146"/>
<circle r="568" pathLength="360" stroke="#4660a6" stroke-dasharray="0 135 1 1 1 15 2 5 2 2 1 4 3 2 3 3 1 7 2 2 2 3 3 2 1 1 2 154"/>
<circle r="568" pathLength="360" stroke="#5468a0" stroke-dasharray="0 136 1 35 2 3 3 180"/>
<circle r="568" pathLength="360" stroke="#4a7bb4" stroke-dasharray="0 155 1 2 2 2 2 1 2 1 1 12 3 2 2 2 2 2 3 3 2 1 1 2 3 7 2 142"/>
<circle r="568" pathLength="360" stroke="#5a9ec9" stroke-dasharray="0 167 1 16 2 23 3 2 2 144"/>
<circle r="568" pathLength="360" stroke="#68c2dc" stroke-dasharray="0 212 2 146"/>
<circle r="569.6" pathLength="360" stroke="#5468a0" stroke-dasharray="0 135 3 22 1 11 1 5 2 180"/>
<circle r="569.6" pathLength="360" stroke="#4660a6" stroke-dasharray="0 153 1 4 2 1 1 2 2 8 4 2 3 4 7 3 2 5 2 4 1 149"/>
<circle r="569.6" pathLength="360" stroke="#4a7bb4" stroke-dasharray="0 154 2 6 2 2 1 1 4 11 4 7 3 2 5 2 4 1 1 4 1 143"/>
<circle r="569.6" pathLength="360" stroke="#5a9ec9" stroke-dasharray="0 167 1 44 4 144"/>
<circle r="569.6" pathLength="360" stroke="#6674a6" stroke-dasharray="0 173 1 186"/>
<circle r="571.2" pathLength="360" stroke="#4660a6" stroke-dasharray="0 135 1 18 2 2 3 9 2 2 6 8 2 2 4 2 1 5 2 154"/>
<circle r="571.2" pathLength="360" stroke="#5468a0" stroke-dasharray="0 136 2 15 1 42 2 162"/>
<circle r="571.2" pathLength="360" stroke="#4a7bb4" stroke-dasharray="0 162 8 10 8 2 2 7 2 1 1 3 2 2 2 2 1 1 1 143"/>
<circle r="571.2" pathLength="360" stroke="#6674a6" stroke-dasharray="0 172 2 186"/>
<circle r="571.2" pathLength="360" stroke="#5a9ec9" stroke-dasharray="0 201 1 1 1 4 2 2 2 1 1 144"/>
<circle r="572.8" pathLength="360" stroke="#5468a0" stroke-dasharray="0 135 3 34 3 3 2 180"/>
<circle r="572.8" pathLength="360" stroke="#4660a6" stroke-dasharray="0 154 2 8 1 1 2 7 3 10 4 6 2 2 4 154"/>
<circle r="572.8" pathLength="360" stroke="#4a7bb4" stroke-dasharray="0 158 2 2 2 1 1 2 4 8 8 4 6 2 2 4 6 148"/>
<circle r="572.8" pathLength="360" stroke="#5a9ec9" stroke-dasharray="0 212 1 3 1 143"/>
<circle r="572.8" pathLength="360" stroke="#68c2dc" stroke-dasharray="0 213 3 144"/>
<circle r="574.4" pathLength="360" stroke="#4660a6" stroke-dasharray="0 135 1 30 2 6 5 10 3 4 4 160"/>
<circle r="574.4" pathLength="360" stroke="#5468a0" stroke-dasharray="0 136 1 35 2 5 1 180"/>
<circle r="574.4" pathLength="360" stroke="#6674a6" stroke-dasharray="0 137 1 222"/>
<circle r="574.4" pathLength="360" stroke="#4a7bb4" stroke-dasharray="0 155 1 6 4 2 4 8 9 3 2 1 1 4 6 2 4 4 1 143"/>
<circle r="574.4" pathLength="360" stroke="#5a9ec9" stroke-dasharray="0 194 1 11 2 4 4 144"/>
<circle r="576" pathLength="360" stroke="#5468a0" stroke-dasharray="0 135 1 37 1 5 1 180"/>
<circle r="576" pathLength="360" stroke="#6674a6" stroke-dasharray="0 136 2 34 1 187"/>
<circle r="576" pathLength="360" stroke="#4a7bb4" stroke-dasharray="0 162 8 11 5 6 4 1 1 2 6 2 4 4 1 143"/>
<circle r="576" pathLength="360" stroke="#4660a6" stroke-dasharray="0 170 2 2 5 1 1 5 6 4 1 1 2 160"/>
<circle r="576" pathLength="360" stroke="#5a9ec9" stroke-dasharray="0 206 2 4 1 147"/>
<circle r="576" pathLength="360" stroke="#68c2dc" stroke-dasharray="0 213 3 144"/>
<circle r="577.6" pathLength="360" stroke="#5468a0" stroke-dasharray="0 135 1 42 2 180"/>
<circle r="577.6" pathLength="360" stroke="#6674a6" stroke-dasharray="0 136 2 222"/>
<circle r="577.6" pathLength="360" stroke="#5a9ec9" stroke-dasharray="0 163 1 1 1 27 1 18 4 144"/>
<circle r="577.6" pathLength="360" stroke="#4a7bb4" stroke-dasharray="0 164 1 1 3 1 2 8 13 1 2 5 1 1 1 1 6 5 1 143"/>
<circle r="577.6" pathLength="360" stroke="#4660a6" stroke-dasharray="0 169 1 2 6 18 5 1 1 1 1 6 1 148"/>
<circle r="579.2" pathLength="360" stroke="#4a7bb4" stroke-dasharray="0 163 9 2 2 4 1 2 9 1 4 6 1 2 2 3 1 4 1 143"/>
<circle r="579.2" pathLength="360" stroke="#4660a6" stroke-dasharray="0 172 2 2 3 2 2 14 6 1 2 2 3 149"/>
<circle r="579.2" pathLength="360" stroke="#5468a0" stroke-dasharray="0 179 1 180"/>
<circle r="579.2" pathLength="360" stroke="#5a9ec9" stroke-dasharray="0 192 1 19 4 144"/>
<circle r="580.8" pathLength="360" stroke="#4a7bb4" stroke-dasharray="0 163 7 8 2 8 6 9 14 143"/>
<circle r="580.8" pathLength="360" stroke="#4660a6" stroke-dasharray="0 170 4 1 1 4 6 8 6 2 1 157"/>
<circle r="580.8" pathLength="360" stroke="#5468a0" stroke-dasharray="0 174 1 25 2 158"/>
<circle r="580.8" pathLength="360" stroke="#5a9ec9" stroke-dasharray="0 176 2 8 2 172"/>
<circle r="582.4" pathLength="360" stroke="#4a7bb4" stroke-dasharray="0 163 6 10 1 1 1 4 1 3 4 3 2 3 15 143"/>
<circle r="582.4" pathLength="360" stroke="#5a9ec9" stroke-dasharray="0 169 1 6 2 9 3 170"/>
<circle r="582.4" pathLength="360" stroke="#4660a6" stroke-dasharray="0 170 6 2 1 1 1 1 3 9 3 2 3 158"/>
<circle r="582.4" pathLength="360" stroke="#5468a0" stroke-dasharray="0 185 1 174"/>
<circle r="584" pathLength="360" stroke="#4a7bb4" stroke-dasharray="0 163 7 2 4 2 4 4 4 2 5 2 2 2 4 7 2 144"/>
<circle r="584" pathLength="360" stroke="#4660a6" stroke-dasharray="0 170 2 10 4 4 2 5 2 2 2 157"/>
<circle r="584" pathLength="360" stroke="#68c2dc" stroke-dasharray="0 176 1 183"/>
<circle r="584" pathLength="360" stroke="#5a9ec9" stroke-dasharray="0 177 1 29 7 146"/>
<circle r="585.6" pathLength="360" stroke="#4a7bb4" stroke-dasharray="0 163 7 3 3 2 2 6 2 2 4 2 3 3 2 1 3 4 4 144"/>
<circle r="585.6" pathLength="360" stroke="#4660a6" stroke-dasharray="0 170 3 7 6 8 2 3 3 2 1 155"/>
<circle r="585.6" pathLength="360" stroke="#68c2dc" stroke-dasharray="0 176 2 182"/>
<circle r="585.6" pathLength="360" stroke="#5a9ec9" stroke-dasharray="0 188 2 18 4 148"/>
<circle r="587.2" pathLength="360" stroke="#4a7bb4" stroke-dasharray="0 163 7 8 2 2 4 4 7 9 2 2 1 1 2 146"/>
<circle r="587.2" pathLength="360" stroke="#4660a6" stroke-dasharray="0 170 6 4 2 15 3 2 4 154"/>
<circle r="587.2" pathLength="360" stroke="#5a9ec9" stroke-dasharray="0 176 2 8 4 18 2 1 1 2 2 144"/>
<circle r="587.2" pathLength="360" stroke="#5468a0" stroke-dasharray="0 200 2 158"/>
<circle r="588.8" pathLength="360" stroke="#4660a6" stroke-dasharray="0 163 1 2 2 6 2 14 2 23 1 144"/>
<circle r="588.8" pathLength="360" stroke="#4a7bb4" stroke-dasharray="0 164 2 2 6 2 2 2 4 4 2 2 1 1 2 2 3 3 4 6 1 145"/>
<circle r="588.8" pathLength="360" stroke="#5a9ec9" stroke-dasharray="0 178 2 4 4 5 1 2 2 3 3 4 1 3 2 146"/>
<circle r="588.8" pathLength="360" stroke="#68c2dc" stroke-dasharray="0 209 3 148"/>
<circle r="590.4" pathLength="360" stroke="#4660a6" stroke-dasharray="0 162 2 2 3 5 2 38 2 144"/>
<circle r="590.4" pathLength="360" stroke="#4a7bb4" stroke-dasharray="0 164 2 3 5 3 15 2 2 2 4 2 4 4 2 146"/>
<circle r="590.4" pathLength="360" stroke="#5a9ec9" stroke-dasharray="0 176 1 15 2 2 2 4 2 4 4 148"/>
<circle r="592" pathLength="360" stroke="#4a7bb4" stroke-dasharray="0 161 1 2 2 2 4 2 6 1 5 1 5 2 1 1 6 2 4 4 1 1 1 145"/>
<circle r="592" pathLength="360" stroke="#4660a6" stroke-dasharray="0 162 2 2 2 12 1 14 1 19 1 144"/>
<circle r="592" pathLength="360" stroke="#5a9ec9" stroke-dasharray="0 172 2 12 1 5 2 8 2 4 4 1 1 146"/>
<circle r="593.6" pathLength="360" stroke="#4a7bb4" stroke-dasharray="0 161 1 2 2 2 1 3 2 2 10 2 1 5 2 1 6 1 1 9 2 144"/>
<circle r="593.6" pathLength="360" stroke="#4660a6" stroke-dasharray="0 162 2 2 2 1 3 33 3 152"/>
<circle r="593.6" pathLength="360" stroke="#5468a0" stroke-dasharray="0 174 2 184"/>
<circle r="593.6" pathLength="360" stroke="#5a9ec9" stroke-dasharray="0 186 2 1 5 2 1 6 1 4 6 146"/>
<circle r="595.2" pathLength="360" stroke="#4a7bb4" stroke-dasharray="0 160 2 6 6 2 1 3 6 3 5 1 1 2 5 1 4 4 4 144"/>
<circle r="595.2" pathLength="360" stroke="#4660a6" stroke-dasharray="0 162 1 1 4 6 2 18 1 165"/>
<circle r="595.2" pathLength="360" stroke="#5468a0" stroke-dasharray="0 163 1 196"/>
<circle r="595.2" pathLength="360" stroke="#5a9ec9" stroke-dasharray="0 177 3 6 3 7 2 5 1 4 4 148"/>
<circle r="596.8" pathLength="360" stroke="#4660a6" stroke-dasharray="0 160 2 1 1 4 4 22 1 1 2 1 2 5 2 152"/>
<circle r="596.8" pathLength="360" stroke="#4a7bb4" stroke-dasharray="0 162 1 1 4 4 1 1 2 2 4 10 2 7 5 2 2 2 4 144"/>
<circle r="596.8" pathLength="360" stroke="#5a9ec9" stroke-dasharray="0 173 1 2 2 4 5 1 4 18 2 148"/>
<circle r="596.8" pathLength="360" stroke="#68c2dc" stroke-dasharray="0 187 1 172"/>
<circle r="596.8" pathLength="360" stroke="#5468a0" stroke-dasharray="0 195 1 2 1 161"/>
<circle r="598.4" pathLength="360" stroke="#4660a6" stroke-dasharray="0 160 1 5 4 22 6 2 1 6 1 152"/>
<circle r="598.4" pathLength="360" stroke="#4a7bb4" stroke-dasharray="0 161 5 4 2 6 2 8 4 9 1 2 3 1 3 1 3 145"/>
<circle r="598.4" pathLength="360" stroke="#5a9ec9" stroke-dasharray="0 172 6 2 2 2 4 14 2 7 1 148"/>
<circle r="598.4" pathLength="360" stroke="#68c2dc" stroke-dasharray="0 182 2 176"/>
<circle r="598.4" pathLength="360" stroke="#5468a0" stroke-dasharray="0 198 2 160"/>
<circle r="600" pathLength="360" stroke="#4660a6" stroke-dasharray="0 159 1 1 2 5 3 23 5 5 4 152"/>
<circle r="600" pathLength="360" stroke="#5468a0" stroke-dasharray="0 160 1 199"/>
<circle r="600" pathLength="360" stroke="#4a7bb4" stroke-dasharray="0 163 5 3 1 2 2 2 2 1 1 5 3 1 3 5 1 1 1 6 2 2 1 1 1 145"/>
<circle r="600" pathLength="360" stroke="#5a9ec9" stroke-dasharray="0 172 2 2 2 2 1 1 5 3 1 9 1 1 2 6 2 1 1 146"/>
<circle r="601.6" pathLength="360" stroke="#4a7bb4" stroke-dasharray="0 159 1 5 1 3 3 3 3 2 1 3 10 2 2 2 4 9 1 146"/>
<circle r="601.6" pathLength="360" stroke="#4660a6" stroke-dasharray="0 160 5 1 3 9 2 14 2 2 2 4 4 6 1 145"/>
<circle r="601.6" pathLength="360" stroke="#5a9ec9" stroke-dasharray="0 172 3 6 1 1 1 24 5 147"/>
<circle r="601.6" pathLength="360" stroke="#68c2dc" stroke-dasharray="0 182 1 177"/>
<circle r="603.2" pathLength="360" stroke="#4660a6" stroke-dasharray="0 159 4 4 5 20 4 2 2 4 4 6 1 145"/>
<circle r="603.2" pathLength="360" stroke="#4a7bb4" stroke-dasharray="0 163 1 2 1 11 2 1 1 9 1 4 2 2 2 1 1 4 2 2 2 146"/>
<circle r="603.2" pathLength="360" stroke="#5a9ec9" stroke-dasharray="0 164 2 6 6 2 1 1 1 2 2 1 3 11 1 7 2 148"/>
<circle r="603.2" pathLength="360" stroke="#68c2dc" stroke-dasharray="0 183 2 2 1 172"/>
<circle r="604.8" pathLength="360" stroke="#5468a0" stroke-dasharray="0 159 1 200"/>
<circle r="604.8" pathLength="360" stroke="#4660a6" stroke-dasharray="0 160 2 6 2 22 4 2 4 158"/>
<circle r="604.8" pathLength="360" stroke="#4a7bb4" stroke-dasharray="0 162 1 3 2 2 2 4 1 1 1 6 7 4 2 4 1 1 6 4 1 145"/>
<circle r="604.8" pathLength="360" stroke="#5a9ec9" stroke-dasharray="0 163 3 6 4 1 1 1 3 2 1 18 1 6 4 146"/>
<circle r="604.8" pathLength="360" stroke="#68c2dc" stroke-dasharray="0 182 2 176"/>
<circle r="606.4" pathLength="360" stroke="#5468a0" stroke-dasharray="0 159 1 200"/>
<circle r="606.4" pathLength="360" stroke="#4660a6" stroke-dasharray="0 160 2 4 1 1 2 22 4 2 2 5 4 5 1 145"/>
<circle r="606.4" pathLength="360" stroke="#4a7bb4" stroke-dasharray="0 162 4 1 1 2 2 5 3 4 1 1 2 2 2 4 2 2 2 2 1 4 1 150"/>
<circle r="606.4" pathLength="360" stroke="#5a9ec9" stroke-dasharray="0 172 5 3 4 1 1 2 2 12 2 6 4 146"/>
<circle r="608" pathLength="360" stroke="#4660a6" stroke-dasharray="0 159 1 8 2 9 1 11 5 2 4 2 1 155"/>
<circle r="608" pathLength="360" stroke="#4a7bb4" stroke-dasharray="0 160 2 4 2 2 2 4 3 1 2 2 7 5 2 4 2 1 5 4 1 145"/>
<circle r="608" pathLength="360" stroke="#5a9ec9" stroke-dasharray="0 162 4 6 4 6 2 26 3 147"/>
<circle r="608" pathLength="360" stroke="#68c2dc" stroke-dasharray="0 213 1 146"/>
<circle r="609.6" pathLength="360" stroke="#5468a0" stroke-dasharray="0 159 1 200"/>
<circle r="609.6" pathLength="360" stroke="#4a7bb4" stroke-dasharray="0 160 2 3 1 4 1 3 5 1 1 3 4 1 3 1 5 2 4 2 4 4 1 145"/>
<circle r="609.6" pathLength="360" stroke="#5a9ec9" stroke-dasharray="0 162 3 6 3 7 2 5 1 21 4 146"/>
<circle r="609.6" pathLength="360" stroke="#4660a6" stroke-dasharray="0 166 4 9 1 12 1 5 2 4 2 154"/>
<circle r="609.6" pathLength="360" stroke="#68c2dc" stroke-dasharray="0 183 1 176"/>
<circle r="611.2" pathLength="360" stroke="#4660a6" stroke-dasharray="0 158 2 34 6 1 1 2 5 151"/>
<circle r="611.2" pathLength="360" stroke="#4a7bb4" stroke-dasharray="0 160 2 2 1 1 6 4 4 4 4 4 2 6 1 1 1 6 1 4 1 145"/>
<circle r="611.2" pathLength="360" stroke="#5a9ec9" stroke-dasharray="0 162 2 1 1 6 1 1 2 4 4 4 4 11 1 6 4 146"/>
<circle r="611.2" pathLength="360" stroke="#68c2dc" stroke-dasharray="0 173 1 186"/>
<circle r="612.8" pathLength="360" stroke="#4a7bb4" stroke-dasharray="0 158 2 4 4 1 1 2 5 9 1 1 6 3 1 2 2 3 5 150"/>
<circle r="612.8" pathLength="360" stroke="#5a9ec9" stroke-dasharray="0 160 3 7 2 5 9 16 3 5 4 146"/>
<circle r="612.8" pathLength="360" stroke="#68c2dc" stroke-dasharray="0 163 1 196"/>
<circle r="612.8" pathLength="360" stroke="#4660a6" stroke-dasharray="0 168 1 18 1 6 3 1 2 160"/>
<circle r="614.4" pathLength="360" stroke="#4660a6" stroke-dasharray="0 157 1 40 2 160"/>
<circle r="614.4" pathLength="360" stroke="#4a7bb4" stroke-dasharray="0 158 1 5 2 2 2 2 2 6 1 5 1 3 8 2 10 3 1 146"/>
<circle r="614.4" pathLength="360" stroke="#5a9ec9" stroke-dasharray="0 159 1 2 2 2 2 2 2 2 6 1 5 1 1 1 1 20 3 147"/>
<circle r="614.4" pathLength="360" stroke="#68c2dc" stroke-dasharray="0 160 2 26 1 171"/>
<circle r="616" pathLength="360" stroke="#4a7bb4" stroke-dasharray="0 157 1 6 4 1 1 2 2 6 6 2 8 1 1 1 1 6 8 146"/>
<circle r="616" pathLength="360" stroke="#5a9ec9" stroke-dasharray="0 158 2 2 2 6 2 2 6 20 6 154"/>
<circle r="616" pathLength="360" stroke="#68c2dc" stroke-dasharray="0 160 2 198"/>
<circle r="616" pathLength="360" stroke="#4660a6" stroke-dasharray="0 168 1 17 2 8 1 1 1 161"/>
<circle r="617.6" pathLength="360" stroke="#4660a6" stroke-dasharray="0 156 2 40 2 160"/>
<circle r="617.6" pathLength="360" stroke="#4a7bb4" stroke-dasharray="0 158 2 4 3 1 2 11 1 2 4 2 8 15 1 146"/>
<circle r="617.6" pathLength="360" stroke="#5a9ec9" stroke-dasharray="0 160 4 3 1 2 11 1 2 4 2 10 9 3 1 147"/>
<circle r="617.6" pathLength="360" stroke="#68c2dc" stroke-dasharray="0 209 3 148"/>
<circle r="619.2" pathLength="360" stroke="#4660a6" stroke-dasharray="0 154 3 40 3 7 1 152"/>
<circle r="619.2" pathLength="360" stroke="#4a7bb4" stroke-dasharray="0 157 2 5 2 2 2 10 2 4 2 3 6 3 2 3 2 1 1 151"/>
<circle r="619.2" pathLength="360" stroke="#5a9ec9" stroke-dasharray="0 159 1 2 2 2 2 2 1 1 3 3 2 2 4 2 3 11 3 4 2 1 2 146"/>
<circle r="619.2" pathLength="360" stroke="#68c2dc" stroke-dasharray="0 160 2 9 1 3 3 33 1 148"/>
<circle r="620.8" pathLength="360" stroke="#4660a6" stroke-dasharray="0 136 2 16 3 7 2 36 2 156"/>
<circle r="620.8" pathLength="360" stroke="#4a7bb4" stroke-dasharray="0 157 1 4 2 2 4 5 1 1 7 4 4 2 6 4 6 3 1 146"/>
<circle r="620.8" pathLength="360" stroke="#5a9ec9" stroke-dasharray="0 158 4 8 5 1 1 7 1 1 2 4 2 6 2 8 3 147"/>
<circle r="620.8" pathLength="360" stroke="#68c2dc" stroke-dasharray="0 185 1 174"/>
<circle r="622.4" pathLength="360" stroke="#4a7bb4" stroke-dasharray="0 136 2 17 5 2 4 2 1 2 8 4 1 2 4 2 10 2 4 2 2 148"/>
<circle r="622.4" pathLength="360" stroke="#4660a6" stroke-dasharray="0 138 2 14 1 35 2 10 2 4 2 2 2 146"/>
<circle r="622.4" pathLength="360" stroke="#6674a6" stroke-dasharray="0 140 1 219"/>
<circle r="622.4" pathLength="360" stroke="#5468a0" stroke-dasharray="0 153 1 206"/>
<circle r="622.4" pathLength="360" stroke="#5a9ec9" stroke-dasharray="0 160 2 4 2 1 2 8 4 1 2 174"/>
<circle r="624" pathLength="360" stroke="#4660a6" stroke-dasharray="0 136 4 14 4 6 2 2 2 43 1 146"/>
<circle r="624" pathLength="360" stroke="#6674a6" stroke-dasharray="0 140 1 219"/>
<circle r="624" pathLength="360" stroke="#5468a0" stroke-dasharray="0 153 1 206"/>
<circle r="624" pathLength="360" stroke="#4a7bb4" stroke-dasharray="0 158 1 3 2 2 2 2 6 11 13 2 2 1 8 147"/>
<circle r="624" pathLength="360" stroke="#5a9ec9" stroke-dasharray="0 159 3 14 8 2 1 13 2 2 1 155"/>
<circle r="624" pathLength="360" stroke="#68c2dc" stroke-dasharray="0 184 2 174"/>
<circle r="625.6" pathLength="360" stroke="#5468a0" stroke-dasharray="0 136 1 16 1 206"/>
<circle r="625.6" pathLength="360" stroke="#4660a6" stroke-dasharray="0 137 3 14 2 8 2 3 4 16 2 4 3 4 2 156"/>
<circle r="625.6" pathLength="360" stroke="#6674a6" stroke-dasharray="0 140 1 219"/>
<circle r="625.6" pathLength="360" stroke="#4a7bb4" stroke-dasharray="0 156 2 4 2 2 1 1 1 4 2 11 3 2 1 2 1 3 4 2 6 2 2 146"/>
<circle r="625.6" pathLength="360" stroke="#5a9ec9" stroke-dasharray="0 158 4 5 1 7 11 6 2 16 2 148"/>
<circle r="627.2" pathLength="360" stroke="#5468a0" stroke-dasharray="0 136 1 223"/>
<circle r="627.2" pathLength="360" stroke="#4660a6" stroke-dasharray="0 137 3 13 1 10 2 36 2 5 1 3 1 146"/>
<circle r="627.2" pathLength="360" stroke="#6674a6" stroke-dasharray="0 140 2 218"/>
<circle r="627.2" pathLength="360" stroke="#4a7bb4" stroke-dasharray="0 154 1 2 1 4 2 2 14 7 15 2 5 1 3 147"/>
<circle r="627.2" pathLength="360" stroke="#5a9ec9" stroke-dasharray="0 155 2 1 4 18 7 173"/>
<circle r="628.8" pathLength="360" stroke="#4660a6" stroke-dasharray="0 136 2 2 2 13 2 11 2 36 7 147"/>
<circle r="628.8" pathLength="360" stroke="#4a7bb4" stroke-dasharray="0 138 2 17 2 5 4 2 2 8 2 1 1 13 1 2 6 154"/>
<circle r="628.8" pathLength="360" stroke="#5468a0" stroke-dasharray="0 142 1 10 2 205"/>
<circle r="628.8" pathLength="360" stroke="#5a9ec9" stroke-dasharray="0 159 5 8 8 2 1 1 1 1 1 1 2 1 1 4 1 1 2 160"/>
<circle r="628.8" pathLength="360" stroke="#68c2dc" stroke-dasharray="0 185 1 1 1 2 1 1 4 164"/>
<circle r="630.4" pathLength="360" stroke="#4660a6" stroke-dasharray="0 135 2 4 1 11 1 2 1 7 2 2 1 37 4 150"/>
<circle r="630.4" pathLength="360" stroke="#4a7bb4" stroke-dasharray="0 137 4 16 1 1 1 2 2 2 2 1 3 8 4 13 1 4 4 4 3 147"/>
<circle r="630.4" pathLength="360" stroke="#5468a0" stroke-dasharray="0 142 1 11 2 204"/>
<circle r="630.4" pathLength="360" stroke="#6674a6" stroke-dasharray="0 143 1 216"/>
<circle r="630.4" pathLength="360" stroke="#5a9ec9" stroke-dasharray="0 158 1 1 2 10 5 1 2 4 8 4 1 1 4 158"/>
<circle r="630.4" pathLength="360" stroke="#68c2dc" stroke-dasharray="0 177 1 14 4 164"/>
<circle r="632" pathLength="360" stroke="#4660a6" stroke-dasharray="0 135 2 3 2 11 6 48 3 2 1 147"/>
<circle r="632" pathLength="360" stroke="#4a7bb4" stroke-dasharray="0 137 3 19 2 3 8 11 1 20 3 3 2 148"/>
<circle r="632" pathLength="360" stroke="#5468a0" stroke-dasharray="0 142 1 217"/>
<circle r="632" pathLength="360" stroke="#6674a6" stroke-dasharray="0 143 1 216"/>
<circle r="632" pathLength="360" stroke="#5a9ec9" stroke-dasharray="0 161 3 8 11 5 6 2 5 1 2 156"/>
<circle r="632" pathLength="360" stroke="#68c2dc" stroke-dasharray="0 184 4 6 2 5 1 158"/>
<circle r="633.6" pathLength="360" stroke="#4660a6" stroke-dasharray="0 134 3 4 1 12 2 12 1 37 4 150"/>
<circle r="633.6" pathLength="360" stroke="#4a7bb4" stroke-dasharray="0 137 4 15 3 5 4 1 3 4 6 15 1 3 5 4 3 147"/>
<circle r="633.6" pathLength="360" stroke="#5468a0" stroke-dasharray="0 142 1 9 2 206"/>
<circle r="633.6" pathLength="360" stroke="#6674a6" stroke-dasharray="0 143 1 216"/>
<circle r="633.6" pathLength="360" stroke="#5a9ec9" stroke-dasharray="0 159 5 8 4 6 2 2 4 6 1 1 3 159"/>
<circle r="633.6" pathLength="360" stroke="#68c2dc" stroke-dasharray="0 184 2 4 6 164"/>
<circle r="635.2" pathLength="360" stroke="#4660a6" stroke-dasharray="0 134 4 2 4 9 2 9 1 4 2 41 1 147"/>
<circle r="635.2" pathLength="360" stroke="#4a7bb4" stroke-dasharray="0 138 2 15 3 4 2 1 4 2 1 6 3 15 2 4 8 1 1 148"/>
<circle r="635.2" pathLength="360" stroke="#5468a0" stroke-dasharray="0 152 1 207"/>
<circle r="635.2" pathLength="360" stroke="#5a9ec9" stroke-dasharray="0 158 4 10 2 2 2 3 3 2 4 1 1 6 4 8 1 149"/>
<circle r="635.2" pathLength="360" stroke="#68c2dc" stroke-dasharray="0 174 2 8 2 4 1 1 4 164"/>
<circle r="636.8" pathLength="360" stroke="#5468a0" stroke-dasharray="0 134 1 45 2 178"/>
<circle r="636.8" pathLength="360" stroke="#4660a6" stroke-dasharray="0 135 1 7 1 8 1 1 2 52 5 147"/>
<circle r="636.8" pathLength="360" stroke="#4a7bb4" stroke-dasharray="0 136 1 3 3 10 1 2 5 2 1 2 4 8 2 2 2 7 2 4 5 4 2 152"/>
<circle r="636.8" pathLength="360" stroke="#5a9ec9" stroke-dasharray="0 137 3 21 2 1 2 4 1 1 2 16 1 2 1 2 1 5 4 154"/>
<circle r="636.8" pathLength="360" stroke="#68c2dc" stroke-dasharray="0 171 1 2 4 6 3 1 2 4 2 164"/>
<circle r="636.8" pathLength="360" stroke="#5fd8c2" stroke-dasharray="0 187 1 172"/>
<circle r="638.4" pathLength="360" stroke="#4660a6" stroke-dasharray="0 134 1 8 1 7 1 2 4 51 4 147"/>
<circle r="638.4" pathLength="360" stroke="#4a7bb4" stroke-dasharray="0 135 1 4 3 9 2 4 5 3 4 8 2 2 2 14 2 4 1 1 3 151"/>
<circle r="638.4" pathLength="360" stroke="#5a9ec9" stroke-dasharray="0 136 4 23 3 4 7 13 4 2 2 2 4 1 1 154"/>
<circle r="638.4" pathLength="360" stroke="#68c2dc" stroke-dasharray="0 177 1 6 3 1 2 4 2 164"/>
<circle r="638.4" pathLength="360" stroke="#5468a0" stroke-dasharray="0 180 2 178"/>
<circle r="638.4" pathLength="360" stroke="#5fd8c2" stroke-dasharray="0 187 1 172"/>
<circle r="640" pathLength="360" stroke="#4660a6" stroke-dasharray="0 134 2 4 4 10 2 24 2 24 3 1 3 147"/>
<circle r="640" pathLength="360" stroke="#4a7bb4" stroke-dasharray="0 136 1 1 2 12 2 2 3 1 5 2 3 12 2 7 2 5 4 1 3 3 1 150"/>
<circle r="640" pathLength="360" stroke="#5a9ec9" stroke-dasharray="0 137 1 21 1 5 2 3 4 4 2 10 1 2 1 2 2 4 1 157"/>
<circle r="640" pathLength="360" stroke="#5468a0" stroke-dasharray="0 151 1 208"/>
<circle r="640" pathLength="360" stroke="#68c2dc" stroke-dasharray="0 174 4 6 2 2 2 4 2 164"/>
<circle r="640" pathLength="360" stroke="#5fd8c2" stroke-dasharray="0 186 2 172"/>
<circle r="641.6" pathLength="360" stroke="#5468a0" stroke-dasharray="0 134 1 45 1 179"/>
<circle r="641.6" pathLength="360" stroke="#4660a6" stroke-dasharray="0 135 1 6 2 7 1 2 2 7 1 17 1 28 1 149"/>
<circle r="641.6" pathLength="360" stroke="#4a7bb4" stroke-dasharray="0 136 6 10 2 2 2 1 4 1 1 1 4 8 2 2 2 22 4 1 2 147"/>
<circle r="641.6" pathLength="360" stroke="#5a9ec9" stroke-dasharray="0 158 1 6 1 4 4 14 4 4 6 2 2 154"/>
<circle r="641.6" pathLength="360" stroke="#68c2dc" stroke-dasharray="0 174 4 6 4 4 2 1 1 6 2 156"/>
<circle r="641.6" pathLength="360" stroke="#5fd8c2" stroke-dasharray="0 194 1 165"/>
<circle r="643.2" pathLength="360" stroke="#4660a6" stroke-dasharray="0 134 1 7 1 9 1 1 2 24 2 24 7 147"/>
<circle r="643.2" pathLength="360" stroke="#4a7bb4" stroke-dasharray="0 135 1 4 2 11 1 2 1 3 4 2 3 9 1 3 2 14 2 4 2 154"/>
<circle r="643.2" pathLength="360" stroke="#5a9ec9" stroke-dasharray="0 136 4 17 3 4 2 3 2 1 2 5 1 9 5 2 2 2 4 156"/>
<circle r="643.2" pathLength="360" stroke="#5468a0" stroke-dasharray="0 143 1 7 1 208"/>
<circle r="643.2" pathLength="360" stroke="#68c2dc" stroke-dasharray="0 171 1 2 4 6 5 5 2 164"/>
<circle r="644.8" pathLength="360" stroke="#6674a6" stroke-dasharray="0 133 1 226"/>
<circle r="644.8" pathLength="360" stroke="#5468a0" stroke-dasharray="0 134 1 15 1 3 1 55 1 149"/>
<circle r="644.8" pathLength="360" stroke="#4660a6" stroke-dasharray="0 135 1 7 1 7 3 1 2 9 2 12 2 8 3 16 1 1 1 148"/>
<circle r="644.8" pathLength="360" stroke="#5a9ec9" stroke-dasharray="0 136 3 19 4 6 2 3 3 2 1 7 2 8 2 2 4 156"/>
<circle r="644.8" pathLength="360" stroke="#4a7bb4" stroke-dasharray="0 139 4 14 1 4 4 6 1 6 1 2 4 2 2 3 1 4 2 4 5 3 1 147"/>
<circle r="644.8" pathLength="360" stroke="#68c2dc" stroke-dasharray="0 170 2 4 2 16 2 164"/>
<circle r="646.4" pathLength="360" stroke="#5468a0" stroke-dasharray="0 132 2 76 2 148"/>
<circle r="646.4" pathLength="360" stroke="#4660a6" stroke-dasharray="0 134 1 8 1 6 6 10 2 12 2 27 1 150"/>
<circle r="646.4" pathLength="360" stroke="#4a7bb4" stroke-dasharray="0 135 1 4 3 13 2 4 4 12 2 2 3 4 3 13 4 151"/>
<circle r="646.4" pathLength="360" stroke="#5a9ec9" stroke-dasharray="0 136 4 18 4 6 2 2 4 1 1 7 1 2 1 3 2 4 4 2 1 155"/>
<circle r="646.4" pathLength="360" stroke="#68c2dc" stroke-dasharray="0 170 2 4 1 9 2 6 1 1 2 4 2 156"/>
<circle r="646.4" pathLength="360" stroke="#5fd8c2" stroke-dasharray="0 195 1 164"/>
<circle r="648" pathLength="360" stroke="#6674a6" stroke-dasharray="0 132 2 76 2 148"/>
<circle r="648" pathLength="360" stroke="#4660a6" stroke-dasharray="0 134 1 5 2 8 3 27 2 9 1 16 2 150"/>
<circle r="648" pathLength="360" stroke="#4a7bb4" stroke-dasharray="0 135 1 3 1 13 7 2 6 4 2 4 2 2 3 4 2 1 1 11 4 152"/>
<circle r="648" pathLength="360" stroke="#5a9ec9" stroke-dasharray="0 136 3 21 2 6 2 4 4 7 1 2 1 4 1 5 5 156"/>
<circle r="648" pathLength="360" stroke="#5468a0" stroke-dasharray="0 142 2 216"/>
<circle r="648" pathLength="360" stroke="#68c2dc" stroke-dasharray="0 170 2 14 2 8 3 161"/>
<circle r="648" pathLength="360" stroke="#5fd8c2" stroke-dasharray="0 194 2 164"/>
<circle r="649.6" pathLength="360" stroke="#6674a6" stroke-dasharray="0 132 1 78 1 148"/>
<circle r="649.6" pathLength="360" stroke="#5468a0" stroke-dasharray="0 133 1 76 1 149"/>
<circle r="649.6" pathLength="360" stroke="#4a7bb4" stroke-dasharray="0 134 1 3 4 9 11 1 5 4 2 1 1 2 2 2 2 1 1 2 2 2 2 10 3 1 2 150"/>
<circle r="649.6" pathLength="360" stroke="#5a9ec9" stroke-dasharray="0 135 3 30 2 4 1 1 2 8 2 8 5 159"/>
<circle r="649.6" pathLength="360" stroke="#4660a6" stroke-dasharray="0 142 2 6 1 11 1 17 2 2 1 5 2 15 1 152"/>
<circle r="649.6" pathLength="360" stroke="#68c2dc" stroke-dasharray="0 170 2 22 2 5 3 156"/>
<circle r="651.2" pathLength="360" stroke="#4660a6" stroke-dasharray="0 126 2 6 2 6 1 7 6 10 2 5 1 6 2 2 2 174"/>
<circle r="651.2" pathLength="360" stroke="#5468a0" stroke-dasharray="0 128 1 4 1 9 1 66 2 148"/>
<circle r="651.2" pathLength="360" stroke="#6674a6" stroke-dasharray="0 132 1 227"/>
<circle r="651.2" pathLength="360" stroke="#5a9ec9" stroke-dasharray="0 136 2 20 4 6 2 5 1 10 4 6 4 2 2 156"/>
<circle r="651.2" pathLength="360" stroke="#4a7bb4" stroke-dasharray="0 138 4 14 2 4 4 6 1 1 1 3 2 2 2 6 4 10 6 150"/>
<circle r="651.2" pathLength="360" stroke="#68c2dc" stroke-dasharray="0 170 2 4 2 16 2 4 2 158"/>
<circle r="652.8" pathLength="360" stroke="#4660a6" stroke-dasharray="0 125 1 2 1 10 1 14 1 36 1 16 4 148"/>
<circle r="652.8" pathLength="360" stroke="#4a7bb4" stroke-dasharray="0 126 2 6 1 1 2 13 3 1 3 6 2 1 1 4 5 7 7 1 2 8 2 2 2 152"/>
<circle r="652.8" pathLength="360" stroke="#5468a0" stroke-dasharray="0 132 2 4 1 1 3 217"/>
<circle r="652.8" pathLength="360" stroke="#5a9ec9" stroke-dasharray="0 135 1 22 6 2 1 1 4 11 1 13 5 2 2 154"/>
<circle r="652.8" pathLength="360" stroke="#6674a6" stroke-dasharray="0 143 1 216"/>
<circle r="652.8" pathLength="360" stroke="#68c2dc" stroke-dasharray="0 194 3 163"/>
<circle r="654.4" pathLength="360" stroke="#5468a0" stroke-dasharray="0 125 1 6 2 6 2 1 1 66 2 148"/>
<circle r="654.4" pathLength="360" stroke="#4a7bb4" stroke-dasharray="0 126 2 6 1 2 1 13 1 4 7 1 2 5 3 11 3 1 1 2 2 12 2 152"/>
<circle r="654.4" pathLength="360" stroke="#4660a6" stroke-dasharray="0 128 1 9 2 2 1 9 4 32 1 1 2 16 2 150"/>
<circle r="654.4" pathLength="360" stroke="#5a9ec9" stroke-dasharray="0 135 2 26 1 2 5 3 1 21 10 154"/>
<circle r="654.4" pathLength="360" stroke="#68c2dc" stroke-dasharray="0 194 2 164"/>
<circle r="656" pathLength="360" stroke="#4660a6" stroke-dasharray="0 125 1 12 2 2 2 10 2 16 2 16 3 15 2 150"/>
<circle r="656" pathLength="360" stroke="#5a9ec9" stroke-dasharray="0 126 2 23 1 6 5 3 1 1 2 16 2 10 3 2 3 154"/>
<circle r="656" pathLength="360" stroke="#4a7bb4" stroke-dasharray="0 128 1 5 4 14 2 2 2 6 2 1 1 2 2 16 2 3 1 12 2 152"/>
<circle r="656" pathLength="360" stroke="#6674a6" stroke-dasharray="0 132 1 227"/>
<circle r="656" pathLength="360" stroke="#5468a0" stroke-dasharray="0 133 1 6 2 68 2 148"/>
<circle r="656" pathLength="360" stroke="#68c2dc" stroke-dasharray="0 163 1 30 4 3 2 157"/>
<circle r="657.6" pathLength="360" stroke="#4a7bb4" stroke-dasharray="0 125 1 2 1 5 1 1 2 14 2 1 5 4 2 21 3 1 1 16 1 151"/>
<circle r="657.6" pathLength="360" stroke="#5a9ec9" stroke-dasharray="0 126 2 7 1 15 1 8 4 2 2 1 4 19 2 3 7 2 2 152"/>
<circle r="657.6" pathLength="360" stroke="#5468a0" stroke-dasharray="0 131 3 6 1 1 2 67 1 148"/>
<circle r="657.6" pathLength="360" stroke="#4660a6" stroke-dasharray="0 138 2 14 1 35 1 18 2 149"/>
<circle r="657.6" pathLength="360" stroke="#6674a6" stroke-dasharray="0 141 1 218"/>
<circle r="657.6" pathLength="360" stroke="#68c2dc" stroke-dasharray="0 168 1 26 2 7 2 154"/>
<circle r="657.6" pathLength="360" stroke="#5fd8c2" stroke-dasharray="0 194 1 165"/>
<circle r="659.2" pathLength="360" stroke="#4a7bb4" stroke-dasharray="0 125 1 8 1 1 2 12 4 3 2 5 2 4 2 16 2 2 2 9 1 2 4 150"/>
<circle r="659.2" pathLength="360" stroke="#68c2dc" stroke-dasharray="0 126 2 33 1 32 3 163"/>
<circle r="659.2" pathLength="360" stroke="#5a9ec9" stroke-dasharray="0 128 1 6 1 23 2 1 2 2 4 27 6 1 2 154"/>
<circle r="659.2" pathLength="360" stroke="#4660a6" stroke-dasharray="0 131 3 20 3 33 2 18 1 149"/>
<circle r="659.2" pathLength="360" stroke="#5468a0" stroke-dasharray="0 138 2 2 2 67 1 148"/>
<circle r="659.2" pathLength="360" stroke="#6674a6" stroke-dasharray="0 140 2 218"/>
<circle r="660.8" pathLength="360" stroke="#5468a0" stroke-dasharray="0 125 1 12 2 2 2 26 1 189"/>
<circle r="660.8" pathLength="360" stroke="#4a7bb4" stroke-dasharray="0 126 1 1 1 21 1 1 3 4 1 9 1 19 1 6 1 1 3 1 2 156"/>
<circle r="660.8" pathLength="360" stroke="#5a9ec9" stroke-dasharray="0 127 1 23 1 3 4 1 2 2 2 1 2 23 2 7 1 2 4 152"/>
<circle r="660.8" pathLength="360" stroke="#6674a6" stroke-dasharray="0 131 3 6 2 218"/>
<circle r="660.8" pathLength="360" stroke="#4660a6" stroke-dasharray="0 134 4 52 2 5 1 10 4 148"/>
<circle r="660.8" pathLength="360" stroke="#68c2dc" stroke-dasharray="0 162 2 2 1 27 2 164"/>
<circle r="662.4" pathLength="360" stroke="#4660a6" stroke-dasharray="0 125 1 10 2 15 3 34 2 16 2 150"/>
<circle r="662.4" pathLength="360" stroke="#5a9ec9" stroke-dasharray="0 126 1 24 1 8 2 2 2 33 2 3 3 153"/>
<circle r="662.4" pathLength="360" stroke="#68c2dc" stroke-dasharray="0 127 1 34 2 30 2 5 1 158"/>
<circle r="662.4" pathLength="360" stroke="#4a7bb4" stroke-dasharray="0 128 1 21 1 1 1 3 4 6 4 22 2 2 3 3 2 3 1 152"/>
<circle r="662.4" pathLength="360" stroke="#6674a6" stroke-dasharray="0 131 3 226"/>
<circle r="662.4" pathLength="360" stroke="#5468a0" stroke-dasharray="0 134 2 2 6 66 1 149"/>
<circle r="664" pathLength="360" stroke="#5468a0" stroke-dasharray="0 125 1 8 1 6 1 1 1 66 1 149"/>
<circle r="664" pathLength="360" stroke="#4a7bb4" stroke-dasharray="0 126 1 1 1 7 2 13 9 6 3 23 1 10 1 156"/>
<circle r="664" pathLength="360" stroke="#5a9ec9" stroke-dasharray="0 127 1 32 6 27 1 2 7 1 4 152"/>
<circle r="664" pathLength="360" stroke="#6674a6" stroke-dasharray="0 131 3 226"/>
<circle r="664" pathLength="360" stroke="#4660a6" stroke-dasharray="0 135 1 2 3 1 1 7 1 40 1 16 2 150"/>
<circle r="664" pathLength="360" stroke="#68c2dc" stroke-dasharray="0 194 1 165"/>
<circle r="664" pathLength="360" stroke="#5fd8c2" stroke-dasharray="0 195 1 164"/>
<circle r="665.6" pathLength="360" stroke="#5468a0" stroke-dasharray="0 125 1 12 3 1 2 216"/>
<circle r="665.6" pathLength="360" stroke="#5a9ec9" stroke-dasharray="0 126 2 22 2 3 3 4 6 24 2 2 7 1 4 152"/>
<circle r="665.6" pathLength="360" stroke="#4a7bb4" stroke-dasharray="0 128 1 7 1 15 3 3 4 41 1 4 2 150"/>
<circle r="665.6" pathLength="360" stroke="#6674a6" stroke-dasharray="0 131 3 7 1 218"/>
<circle r="665.6" pathLength="360" stroke="#4660a6" stroke-dasharray="0 134 2 1 1 11 1 60 1 149"/>
<circle r="665.6" pathLength="360" stroke="#68c2dc" stroke-dasharray="0 194 1 165"/>
<circle r="665.6" pathLength="360" stroke="#5fd8c2" stroke-dasharray="0 195 1 164"/>
<circle r="667.2" pathLength="360" stroke="#6674a6" stroke-dasharray="0 124 1 6 3 226"/>
<circle r="667.2" pathLength="360" stroke="#5468a0" stroke-dasharray="0 125 1 14 2 218"/>
<circle r="667.2" pathLength="360" stroke="#5a9ec9" stroke-dasharray="0 126 2 32 2 2 2 34 2 2 4 152"/>
<circle r="667.2" pathLength="360" stroke="#4660a6" stroke-dasharray="0 128 1 5 2 2 2 2 1 6 1 59 1 150"/>
<circle r="667.2" pathLength="360" stroke="#4a7bb4" stroke-dasharray="0 136 2 12 10 6 2 24 2 2 4 2 2 4 1 151"/>
<circle r="667.2" pathLength="360" stroke="#68c2dc" stroke-dasharray="0 162 2 30 2 164"/>
<circle r="668.8" pathLength="360" stroke="#4660a6" stroke-dasharray="0 124 1 15 2 66 2 150"/>
<circle r="668.8" pathLength="360" stroke="#4a7bb4" stroke-dasharray="0 125 3 8 4 9 1 9 1 6 1 29 4 3 1 1 1 154"/>
<circle r="668.8" pathLength="360" stroke="#5468a0" stroke-dasharray="0 128 1 2 1 2 2 224"/>
<circle r="668.8" pathLength="360" stroke="#6674a6" stroke-dasharray="0 132 2 226"/>
<circle r="668.8" pathLength="360" stroke="#5a9ec9" stroke-dasharray="0 150 1 1 7 1 3 2 1 28 1 7 1 1 1 1 2 152"/>
<circle r="668.8" pathLength="360" stroke="#68c2dc" stroke-dasharray="0 151 1 11 2 28 1 1 1 4 2 158"/>
<circle r="670.4" pathLength="360" stroke="#4660a6" stroke-dasharray="0 124 1 1 1 9 3 1 1 68 1 150"/>
<circle r="670.4" pathLength="360" stroke="#4a7bb4" stroke-dasharray="0 125 1 1 1 11 1 9 1 16 1 29 1 11 1 151"/>
<circle r="670.4" pathLength="360" stroke="#5468a0" stroke-dasharray="0 128 1 2 1 2 2 224"/>
<circle r="670.4" pathLength="360" stroke="#6674a6" stroke-dasharray="0 132 2 226"/>
<circle r="670.4" pathLength="360" stroke="#5a9ec9" stroke-dasharray="0 150 3 1 9 1 2 27 3 1 3 2 4 154"/>
<circle r="670.4" pathLength="360" stroke="#68c2dc" stroke-dasharray="0 153 1 9 1 36 1 5 2 152"/>
<circle r="670.4" pathLength="360" stroke="#5fd8c2" stroke-dasharray="0 201 1 158"/>
<circle r="672" pathLength="360" stroke="#4660a6" stroke-dasharray="0 124 1 3 1 10 1 68 1 151"/>
<circle r="672" pathLength="360" stroke="#4a7bb4" stroke-dasharray="0 125 3 8 3 10 1 8 2 36 4 7 1 152"/>
<circle r="672" pathLength="360" stroke="#5468a0" stroke-dasharray="0 131 1 2 2 4 1 219"/>
<circle r="672" pathLength="360" stroke="#6674a6" stroke-dasharray="0 132 2 226"/>
<circle r="672" pathLength="360" stroke="#5a9ec9" stroke-dasharray="0 150 8 2 6 28 2 6 5 153"/>
<circle r="672" pathLength="360" stroke="#68c2dc" stroke-dasharray="0 200 2 158"/>
<circle r="673.6" pathLength="360" stroke="#4660a6" stroke-dasharray="0 124 1 11 4 8 2 58 1 151"/>
<circle r="673.6" pathLength="360" stroke="#4a7bb4" stroke-dasharray="0 125 3 22 1 48 1 3 5 152"/>
<circle r="673.6" pathLength="360" stroke="#5468a0" stroke-dasharray="0 128 1 5 2 224"/>
<circle r="673.6" pathLength="360" stroke="#6674a6" stroke-dasharray="0 131 3 226"/>
<circle r="673.6" pathLength="360" stroke="#5a9ec9" stroke-dasharray="0 151 2 1 6 2 3 31 3 1 1 1 1 157"/>
<circle r="673.6" pathLength="360" stroke="#68c2dc" stroke-dasharray="0 153 1 6 2 33 1 5 1 158"/>
<circle r="675.2" pathLength="360" stroke="#4660a6" stroke-dasharray="0 124 1 3 1 7 4 8 1 59 1 151"/>
<circle r="675.2" pathLength="360" stroke="#4a7bb4" stroke-dasharray="0 125 2 22 1 8 1 37 1 6 3 154"/>
<circle r="675.2" pathLength="360" stroke="#5a9ec9" stroke-dasharray="0 127 1 22 3 2 3 1 2 1 3 32 3 2 1 3 2 152"/>
<circle r="675.2" pathLength="360" stroke="#6674a6" stroke-dasharray="0 132 1 227"/>
<circle r="675.2" pathLength="360" stroke="#5468a0" stroke-dasharray="0 133 3 224"/>
<circle r="675.2" pathLength="360" stroke="#68c2dc" stroke-dasharray="0 153 2 6 1 33 1 4 2 158"/>
<circle r="676.8" pathLength="360" stroke="#4660a6" stroke-dasharray="0 124 1 1 1 5 2 2 4 8 2 210"/>
<circle r="676.8" pathLength="360" stroke="#4a7bb4" stroke-dasharray="0 125 1 1 1 22 2 4 1 1 2 3 1 39 1 1 1 154"/>
<circle r="676.8" pathLength="360" stroke="#5468a0" stroke-dasharray="0 128 1 5 2 224"/>
<circle r="676.8" pathLength="360" stroke="#5a9ec9" stroke-dasharray="0 152 1 1 2 1 1 2 3 33 1 5 1 1 1 1 2 152"/>
<circle r="676.8" pathLength="360" stroke="#68c2dc" stroke-dasharray="0 153 1 43 4 159"/>
<circle r="676.8" pathLength="360" stroke="#5fd8c2" stroke-dasharray="0 201 1 158"/>
<circle r="678.4" pathLength="360" stroke="#5468a0" stroke-dasharray="0 124 1 3 1 231"/>
<circle r="678.4" pathLength="360" stroke="#4a7bb4" stroke-dasharray="0 125 1 1 1 20 2 4 3 1 2 43 3 1 1 152"/>
<circle r="678.4" pathLength="360" stroke="#4660a6" stroke-dasharray="0 126 1 5 7 221"/>
<circle r="678.4" pathLength="360" stroke="#5a9ec9" stroke-dasharray="0 150 4 3 1 2 4 32 2 4 1 3 1 153"/>
<circle r="678.4" pathLength="360" stroke="#68c2dc" stroke-dasharray="0 198 4 158"/>
<circle r="680" pathLength="360" stroke="#4a7bb4" stroke-dasharray="0 124 2 10 1 13 2 6 2 43 1 156"/>
<circle r="680" pathLength="360" stroke="#4660a6" stroke-dasharray="0 126 2 5 3 1 1 10 2 210"/>
<circle r="680" pathLength="360" stroke="#6674a6" stroke-dasharray="0 128 1 231"/>
<circle r="680" pathLength="360" stroke="#5468a0" stroke-dasharray="0 132 1 227"/>
<circle r="680" pathLength="360" stroke="#5a9ec9" stroke-dasharray="0 152 6 2 1 35 2 4 1 1 2 1 1 152"/>
<circle r="680" pathLength="360" stroke="#68c2dc" stroke-dasharray="0 161 3 34 4 4 1 153"/>
<circle r="681.6" pathLength="360" stroke="#4660a6" stroke-dasharray="0 124 1 1 1 6 5 10 2 210"/>
<circle r="681.6" pathLength="360" stroke="#4a7bb4" stroke-dasharray="0 125 1 1 1 27 2 1 2 42 4 154"/>
<circle r="681.6" pathLength="360" stroke="#5468a0" stroke-dasharray="0 128 1 3 1 227"/>
<circle r="681.6" pathLength="360" stroke="#5a9ec9" stroke-dasharray="0 150 5 2 1 2 3 34 1 8 1 153"/>
<circle r="681.6" pathLength="360" stroke="#68c2dc" stroke-dasharray="0 198 1 2 1 158"/>
<circle r="681.6" pathLength="360" stroke="#5fd8c2" stroke-dasharray="0 199 2 159"/>
<circle r="683.2" pathLength="360" stroke="#4a7bb4" stroke-dasharray="0 124 2 24 1 7 2 1 1 40 2 156"/>
<circle r="683.2" pathLength="360" stroke="#4660a6" stroke-dasharray="0 126 2 4 6 10 2 210"/>
<circle r="683.2" pathLength="360" stroke="#5468a0" stroke-dasharray="0 128 1 231"/>
<circle r="683.2" pathLength="360" stroke="#5a9ec9" stroke-dasharray="0 151 2 1 4 2 1 1 1 34 1 6 3 153"/>
<circle r="683.2" pathLength="360" stroke="#68c2dc" stroke-dasharray="0 153 1 44 4 158"/>
<circle r="684.8" pathLength="360" stroke="#4660a6" stroke-dasharray="0 124 1 7 2 226"/>
<circle r="684.8" pathLength="360" stroke="#4a7bb4" stroke-dasharray="0 125 3 6 1 1 2 10 3 3 1 1 3 43 2 2 1 153"/>
<circle r="684.8" pathLength="360" stroke="#5468a0" stroke-dasharray="0 128 1 231"/>
<circle r="684.8" pathLength="360" stroke="#5a9ec9" stroke-dasharray="0 135 1 15 1 1 1 1 1 3 1 1 1 36 1 1 2 3 1 154"/>
<circle r="684.8" pathLength="360" stroke="#68c2dc" stroke-dasharray="0 152 1 7 1 38 1 4 1 155"/>
<circle r="686.4" pathLength="360" stroke="#4a7bb4" stroke-dasharray="0 124 2 1 1 5 2 14 2 3 4 44 2 156"/>
<circle r="686.4" pathLength="360" stroke="#4660a6" stroke-dasharray="0 126 1 5 1 2 2 223"/>
<circle r="686.4" pathLength="360" stroke="#5a9ec9" stroke-dasharray="0 151 3 4 4 36 1 5 3 153"/>
<circle r="686.4" pathLength="360" stroke="#68c2dc" stroke-dasharray="0 199 3 158"/>
<circle r="688" pathLength="360" stroke="#4660a6" stroke-dasharray="0 124 4 4 3 225"/>
<circle r="688" pathLength="360" stroke="#4a7bb4" stroke-dasharray="0 135 1 13 2 5 3 43 2 156"/>
<circle r="688" pathLength="360" stroke="#5a9ec9" stroke-dasharray="0 151 5 3 2 38 3 2 2 154"/>
<circle r="689.6" pathLength="360" stroke="#4660a6" stroke-dasharray="0 124 1 1 1 6 3 224"/>
<circle r="689.6" pathLength="360" stroke="#4a7bb4" stroke-dasharray="0 125 1 30 1 46 1 1 1 154"/>
<circle r="689.6" pathLength="360" stroke="#5a9ec9" stroke-dasharray="0 149 7 1 4 38 2 1 1 1 1 155"/>
<circle r="689.6" pathLength="360" stroke="#68c2dc" stroke-dasharray="0 201 1 158"/>
<circle r="691.2" pathLength="360" stroke="#4660a6" stroke-dasharray="0 124 3 6 3 224"/>
<circle r="691.2" pathLength="360" stroke="#6674a6" stroke-dasharray="0 129 1 230"/>
<circle r="691.2" pathLength="360" stroke="#5468a0" stroke-dasharray="0 130 2 228"/>
<circle r="691.2" pathLength="360" stroke="#5a9ec9" stroke-dasharray="0 149 1 1 2 2 6 38 2 1 2 1 1 154"/>
<circle r="691.2" pathLength="360" stroke="#4a7bb4" stroke-dasharray="0 150 1 209"/>
<circle r="691.2" pathLength="360" stroke="#68c2dc" stroke-dasharray="0 153 2 46 1 2 1 155"/>
<circle r="692.8" pathLength="360" stroke="#4660a6" stroke-dasharray="0 124 1 1 1 233"/>
<circle r="692.8" pathLength="360" stroke="#4a7bb4" stroke-dasharray="0 125 1 23 5 1 1 48 1 155"/>
<circle r="692.8" pathLength="360" stroke="#5468a0" stroke-dasharray="0 127 1 1 3 228"/>
<circle r="692.8" pathLength="360" stroke="#5a9ec9" stroke-dasharray="0 154 1 45 1 159"/>
<circle r="692.8" pathLength="360" stroke="#68c2dc" stroke-dasharray="0 156 2 1 1 41 3 156"/>
<circle r="692.8" pathLength="360" stroke="#5fd8c2" stroke-dasharray="0 158 1 201"/>
<circle r="694.4" pathLength="360" stroke="#4660a6" stroke-dasharray="0 124 1 1 2 1 3 16 1 1 1 1 2 206"/>
<circle r="694.4" pathLength="360" stroke="#4a7bb4" stroke-dasharray="0 125 1 23 1 1 1 3 1 48 1 155"/>
<circle r="694.4" pathLength="360" stroke="#5a9ec9" stroke-dasharray="0 154 1 1 2 42 4 156"/>
<circle r="694.4" pathLength="360" stroke="#68c2dc" stroke-dasharray="0 158 2 200"/>
<circle r="696" pathLength="360" stroke="#4660a6" stroke-dasharray="0 124 1 1 2 1 3 15 1 4 1 207"/>
<circle r="696" pathLength="360" stroke="#4a7bb4" stroke-dasharray="0 125 1 22 1 1 2 1 1 1 1 204"/>
<circle r="696" pathLength="360" stroke="#5a9ec9" stroke-dasharray="0 149 1 4 1 1 2 46 1 155"/>
<circle r="696" pathLength="360" stroke="#68c2dc" stroke-dasharray="0 158 2 40 4 156"/>
<circle r="697.6" pathLength="360" stroke="#4660a6" stroke-dasharray="0 124 1 1 1 2 3 15 1 212"/>
<circle r="697.6" pathLength="360" stroke="#4a7bb4" stroke-dasharray="0 125 1 22 6 1 1 48 1 155"/>
<circle r="697.6" pathLength="360" stroke="#5468a0" stroke-dasharray="0 127 1 232"/>
<circle r="697.6" pathLength="360" stroke="#5a9ec9" stroke-dasharray="0 154 1 1 2 43 3 156"/>
<circle r="697.6" pathLength="360" stroke="#68c2dc" stroke-dasharray="0 158 1 201"/>
<circle r="699.2" pathLength="360" stroke="#4a7bb4" stroke-dasharray="0 124 1 1 1 21 1 1 4 1 1 204"/>
<circle r="699.2" pathLength="360" stroke="#5a9ec9" stroke-dasharray="0 125 1 23 1 6 2 202"/>
<circle r="699.2" pathLength="360" stroke="#4660a6" stroke-dasharray="0 127 1 1 1 17 1 212"/>
<circle r="699.2" pathLength="360" stroke="#5468a0" stroke-dasharray="0 130 2 228"/>
<circle r="699.2" pathLength="360" stroke="#68c2dc" stroke-dasharray="0 154 1 3 1 42 3 156"/>
<circle r="700.8" pathLength="360" stroke="#4a7bb4" stroke-dasharray="0 124 2 2 2 17 1 4 1 207"/>
<circle r="700.8" pathLength="360" stroke="#4660a6" stroke-dasharray="0 126 2 2 2 18 2 208"/>
<circle r="700.8" pathLength="360" stroke="#5a9ec9" stroke-dasharray="0 148 2 3 1 1 1 46 2 156"/>
<circle r="700.8" pathLength="360" stroke="#68c2dc" stroke-dasharray="0 154 1 1 2 202"/>
<circle r="702.4" pathLength="360" stroke="#4660a6" stroke-dasharray="0 124 1 1 6 228"/>
<circle r="702.4" pathLength="360" stroke="#4a7bb4" stroke-dasharray="0 125 1 24 3 207"/>
<circle r="702.4" pathLength="360" stroke="#5a9ec9" stroke-dasharray="0 147 3 3 1 1 1 1 1 44 2 156"/>
<circle r="702.4" pathLength="360" stroke="#68c2dc" stroke-dasharray="0 154 1 1 1 203"/>
<circle r="704" pathLength="360" stroke="#4660a6" stroke-dasharray="0 124 1 1 1 1 4 18 2 208"/>
<circle r="704" pathLength="360" stroke="#4a7bb4" stroke-dasharray="0 125 1 26 1 207"/>
<circle r="704" pathLength="360" stroke="#5468a0" stroke-dasharray="0 127 1 232"/>
<circle r="704" pathLength="360" stroke="#5a9ec9" stroke-dasharray="0 147 3 3 3 46 2 156"/>
<circle r="704" pathLength="360" stroke="#68c2dc" stroke-dasharray="0 156 2 202"/>
<circle r="705.6" pathLength="360" stroke="#4a7bb4" stroke-dasharray="0 125 1 2 2 16 1 3 3 49 1 157"/>
<circle r="705.6" pathLength="360" stroke="#4660a6" stroke-dasharray="0 126 2 2 2 228"/>
<circle r="705.6" pathLength="360" stroke="#5a9ec9" stroke-dasharray="0 147 3 3 4 203"/>
<circle r="705.6" pathLength="360" stroke="#68c2dc" stroke-dasharray="0 157 1 202"/>
<circle r="707.2" pathLength="360" stroke="#4660a6" stroke-dasharray="0 126 1 1 1 1 2 18 2 208"/>
<circle r="707.2" pathLength="360" stroke="#5468a0" stroke-dasharray="0 127 1 232"/>
<circle r="707.2" pathLength="360" stroke="#4a7bb4" stroke-dasharray="0 129 1 16 2 4 2 206"/>
<circle r="707.2" pathLength="360" stroke="#5a9ec9" stroke-dasharray="0 148 2 4 3 203"/>
<circle r="708.8" pathLength="360" stroke="#4a7bb4" stroke-dasharray="0 125 1 23 1 2 1 207"/>
<circle r="708.8" pathLength="360" stroke="#4660a6" stroke-dasharray="0 126 2 22 2 208"/>
<circle r="708.8" pathLength="360" stroke="#5468a0" stroke-dasharray="0 128 2 230"/>
<circle r="708.8" pathLength="360" stroke="#6674a6" stroke-dasharray="0 130 1 229"/>
<circle r="708.8" pathLength="360" stroke="#5a9ec9" stroke-dasharray="0 146 1 1 1 4 4 203"/>
<circle r="708.8" pathLength="360" stroke="#68c2dc" stroke-dasharray="0 147 1 212"/>
<circle r="710.4" pathLength="360" stroke="#4a7bb4" stroke-dasharray="0 125 1 20 1 1 2 1 1 208"/>
<circle r="710.4" pathLength="360" stroke="#4660a6" stroke-dasharray="0 126 4 20 1 209"/>
<circle r="710.4" pathLength="360" stroke="#5468a0" stroke-dasharray="0 130 1 229"/>
<circle r="710.4" pathLength="360" stroke="#5a9ec9" stroke-dasharray="0 147 1 4 1 1 3 203"/>
<circle r="710.4" pathLength="360" stroke="#68c2dc" stroke-dasharray="0 153 1 206"/>
<circle r="712" pathLength="360" stroke="#4a7bb4" stroke-dasharray="0 125 1 20 1 1 1 1 2 2 2 204"/>
<circle r="712" pathLength="360" stroke="#5468a0" stroke-dasharray="0 126 2 1 1 230"/>
<circle r="712" pathLength="360" stroke="#6674a6" stroke-dasharray="0 130 1 229"/>
<circle r="712" pathLength="360" stroke="#5a9ec9" stroke-dasharray="0 147 1 1 1 2 2 206"/>
<circle r="713.6" pathLength="360" stroke="#4a7bb4" stroke-dasharray="0 125 1 22 2 2 4 204"/>
<circle r="713.6" pathLength="360" stroke="#4660a6" stroke-dasharray="0 126 1 23 2 208"/>
<circle r="713.6" pathLength="360" stroke="#5468a0" stroke-dasharray="0 127 1 232"/>
<circle r="713.6" pathLength="360" stroke="#5a9ec9" stroke-dasharray="0 146 2 212"/>
<circle r="715.2" pathLength="360" stroke="#4a7bb4" stroke-dasharray="0 125 1 22 4 2 2 204"/>
<circle r="715.2" pathLength="360" stroke="#4660a6" stroke-dasharray="0 126 1 233"/>
<circle r="715.2" pathLength="360" stroke="#5468a0" stroke-dasharray="0 127 1 232"/>
<circle r="715.2" pathLength="360" stroke="#5a9ec9" stroke-dasharray="0 146 1 5 2 206"/>
<circle r="715.2" pathLength="360" stroke="#68c2dc" stroke-dasharray="0 147 1 212"/>
<circle r="716.8" pathLength="360" stroke="#4660a6" stroke-dasharray="0 125 2 233"/>
<circle r="716.8" pathLength="360" stroke="#5468a0" stroke-dasharray="0 127 1 232"/>
<circle r="716.8" pathLength="360" stroke="#4a7bb4" stroke-dasharray="0 146 1 213"/>
<circle r="716.8" pathLength="360" stroke="#5a9ec9" stroke-dasharray="0 147 6 207"/>
<circle r="716.8" pathLength="360" stroke="#68c2dc" stroke-dasharray="0 153 2 205"/>
<circle r="718.4" pathLength="360" stroke="#5468a0" stroke-dasharray="0 125 3 232"/>
<circle r="718.4" pathLength="360" stroke="#4a7bb4" stroke-dasharray="0 146 1 1 1 211"/>
<circle r="718.4" pathLength="360" stroke="#5a9ec9" stroke-dasharray="0 147 1 1 1 3 2 205"/>
<circle r="718.4" pathLength="360" stroke="#68c2dc" stroke-dasharray="0 150 3 207"/>
<circle r="720" pathLength="360" stroke="#4660a6" stroke-dasharray="0 125 1 234"/>
<circle r="720" pathLength="360" stroke="#5468a0" stroke-dasharray="0 126 2 232"/>
<circle r="720" pathLength="360" stroke="#4a7bb4" stroke-dasharray="0 146 1 7 1 205"/>
<circle r="720" pathLength="360" stroke="#5a9ec9" stroke-dasharray="0 147 7 206"/>
<circle r="721.6" pathLength="360" stroke="#4660a6" stroke-dasharray="0 124 2 234"/>
<circle r="721.6" pathLength="360" stroke="#5468a0" stroke-dasharray="0 126 1 18 1 214"/>
<circle r="721.6" pathLength="360" stroke="#6674a6" stroke-dasharray="0 127 1 232"/>
<circle r="721.6" pathLength="360" stroke="#4a7bb4" stroke-dasharray="0 146 5 209"/>
<circle r="721.6" pathLength="360" stroke="#5a9ec9" stroke-dasharray="0 151 4 205"/>
<circle r="723.2" pathLength="360" stroke="#5468a0" stroke-dasharray="0 124 1 1 2 17 1 214"/>
<circle r="723.2" pathLength="360" stroke="#4660a6" stroke-dasharray="0 125 1 234"/>
<circle r="723.2" pathLength="360" stroke="#4a7bb4" stroke-dasharray="0 146 1 1 2 210"/>
<circle r="723.2" pathLength="360" stroke="#5a9ec9" stroke-dasharray="0 147 1 2 4 206"/>
<circle r="724.8" pathLength="360" stroke="#6674a6" stroke-dasharray="0 123 1 236"/>
<circle r="724.8" pathLength="360" stroke="#5468a0" stroke-dasharray="0 124 3 18 1 214"/>
<circle r="724.8" pathLength="360" stroke="#4a7bb4" stroke-dasharray="0 146 1 6 1 206"/>
<circle r="724.8" pathLength="360" stroke="#5a9ec9" stroke-dasharray="0 147 4 1 1 207"/>
<circle r="724.8" pathLength="360" stroke="#68c2dc" stroke-dasharray="0 151 1 208"/>
<circle r="726.4" pathLength="360" stroke="#6674a6" stroke-dasharray="0 122 2 3 1 232"/>
<circle r="726.4" pathLength="360" stroke="#4660a6" stroke-dasharray="0 124 2 19 1 214"/>
<circle r="726.4" pathLength="360" stroke="#5468a0" stroke-dasharray="0 126 1 233"/>
<circle r="726.4" pathLength="360" stroke="#5a9ec9" stroke-dasharray="0 146 2 4 2 206"/>
<circle r="726.4" pathLength="360" stroke="#68c2dc" stroke-dasharray="0 148 4 208"/>
<circle r="728" pathLength="360" stroke="#6674a6" stroke-dasharray="0 121 3 236"/>
<circle r="728" pathLength="360" stroke="#5468a0" stroke-dasharray="0 124 1 2 1 232"/>
<circle r="728" pathLength="360" stroke="#4660a6" stroke-dasharray="0 125 2 18 1 7 1 206"/>
<circle r="728" pathLength="360" stroke="#4a7bb4" stroke-dasharray="0 146 1 5 1 207"/>
<circle r="728" pathLength="360" stroke="#5a9ec9" stroke-dasharray="0 147 1 212"/>
<circle r="728" pathLength="360" stroke="#68c2dc" stroke-dasharray="0 148 4 208"/>
<circle r="729.6" pathLength="360" stroke="#6674a6" stroke-dasharray="0 121 3 236"/>
<circle r="729.6" pathLength="360" stroke="#5468a0" stroke-dasharray="0 124 4 17 1 214"/>
<circle r="729.6" pathLength="360" stroke="#4a7bb4" stroke-dasharray="0 146 1 213"/>
<circle r="729.6" pathLength="360" stroke="#5a9ec9" stroke-dasharray="0 147 2 211"/>
<circle r="729.6" pathLength="360" stroke="#68c2dc" stroke-dasharray="0 149 3 208"/>
<circle r="729.6" pathLength="360" stroke="#4660a6" stroke-dasharray="0 152 1 207"/>
<circle r="731.2" pathLength="360" stroke="#6674a6" stroke-dasharray="0 121 3 236"/>
<circle r="731.2" pathLength="360" stroke="#5468a0" stroke-dasharray="0 124 4 232"/>
<circle r="731.2" pathLength="360" stroke="#4660a6" stroke-dasharray="0 145 1 214"/>
<circle r="731.2" pathLength="360" stroke="#5a9ec9" stroke-dasharray="0 146 2 212"/>
<circle r="731.2" pathLength="360" stroke="#68c2dc" stroke-dasharray="0 148 4 208"/>
<circle r="731.2" pathLength="360" stroke="#4a7bb4" stroke-dasharray="0 152 1 207"/>
<circle r="732.8" pathLength="360" stroke="#5468a0" stroke-dasharray="0 121 1 23 1 214"/>
<circle r="732.8" pathLength="360" stroke="#4660a6" stroke-dasharray="0 122 2 22 1 5 1 207"/>
<circle r="732.8" pathLength="360" stroke="#5a9ec9" stroke-dasharray="0 124 1 1 1 21 4 208"/>
<circle r="732.8" pathLength="360" stroke="#68c2dc" stroke-dasharray="0 125 1 234"/>
<circle r="732.8" pathLength="360" stroke="#4a7bb4" stroke-dasharray="0 127 1 19 1 212"/>
<circle r="734.4" pathLength="360" stroke="#6674a6" stroke-dasharray="0 121 1 238"/>
<circle r="734.4" pathLength="360" stroke="#5468a0" stroke-dasharray="0 122 2 236"/>
<circle r="734.4" pathLength="360" stroke="#4a7bb4" stroke-dasharray="0 124 1 1 1 19 1 5 1 207"/>
<circle r="734.4" pathLength="360" stroke="#5a9ec9" stroke-dasharray="0 125 1 21 1 1 1 1 1 208"/>
<circle r="734.4" pathLength="360" stroke="#4660a6" stroke-dasharray="0 127 1 17 1 214"/>
<circle r="734.4" pathLength="360" stroke="#68c2dc" stroke-dasharray="0 148 1 1 1 209"/>
<circle r="736" pathLength="360" stroke="#5468a0" stroke-dasharray="0 121 2 22 1 214"/>
<circle r="736" pathLength="360" stroke="#6674a6" stroke-dasharray="0 123 1 236"/>
<circle r="736" pathLength="360" stroke="#4660a6" stroke-dasharray="0 124 1 21 1 213"/>
<circle r="736" pathLength="360" stroke="#4a7bb4" stroke-dasharray="0 125 3 19 1 212"/>
<circle r="736" pathLength="360" stroke="#5a9ec9" stroke-dasharray="0 148 2 210"/>
<circle r="736" pathLength="360" stroke="#68c2dc" stroke-dasharray="0 150 2 208"/>
<circle r="737.6" pathLength="360" stroke="#4660a6" stroke-dasharray="0 120 3 22 2 213"/>
<circle r="737.6" pathLength="360" stroke="#4a7bb4" stroke-dasharray="0 124 1 1 1 20 1 212"/>
<circle r="737.6" pathLength="360" stroke="#5a9ec9" stroke-dasharray="0 125 1 22 2 210"/>
<circle r="737.6" pathLength="360" stroke="#68c2dc" stroke-dasharray="0 150 2 208"/>
<circle r="739.2" pathLength="360" stroke="#5468a0" stroke-dasharray="0 120 2 238"/>
<circle r="739.2" pathLength="360" stroke="#4660a6" stroke-dasharray="0 122 1 4 1 17 1 214"/>
<circle r="739.2" pathLength="360" stroke="#4a7bb4" stroke-dasharray="0 126 1 19 2 212"/>
<circle r="739.2" pathLength="360" stroke="#5a9ec9" stroke-dasharray="0 148 1 211"/>
<circle r="739.2" pathLength="360" stroke="#68c2dc" stroke-dasharray="0 149 3 208"/>
<circle r="740.8" pathLength="360" stroke="#4660a6" stroke-dasharray="0 120 2 2 1 1 1 233"/>
<circle r="740.8" pathLength="360" stroke="#5468a0" stroke-dasharray="0 122 1 237"/>
<circle r="740.8" pathLength="360" stroke="#4a7bb4" stroke-dasharray="0 125 1 19 2 213"/>
<circle r="740.8" pathLength="360" stroke="#5a9ec9" stroke-dasharray="0 147 3 210"/>
<circle r="740.8" pathLength="360" stroke="#68c2dc" stroke-dasharray="0 150 2 208"/>
<circle r="742.4" pathLength="360" stroke="#4a7bb4" stroke-dasharray="0 120 2 3 1 19 2 213"/>
<circle r="742.4" pathLength="360" stroke="#4660a6" stroke-dasharray="0 122 1 1 1 1 1 233"/>
<circle r="742.4" pathLength="360" stroke="#5a9ec9" stroke-dasharray="0 147 3 210"/>
<circle r="742.4" pathLength="360" stroke="#68c2dc" stroke-dasharray="0 150 1 209"/>
<circle r="744" pathLength="360" stroke="#4660a6" stroke-dasharray="0 120 1 1 1 3 1 233"/>
<circle r="744" pathLength="360" stroke="#4a7bb4" stroke-dasharray="0 121 1 2 2 19 2 213"/>
<circle r="744" pathLength="360" stroke="#5a9ec9" stroke-dasharray="0 147 3 210"/>
<circle r="744" pathLength="360" stroke="#68c2dc" stroke-dasharray="0 150 1 209"/>
<circle r="745.6" pathLength="360" stroke="#4a7bb4" stroke-dasharray="0 120 2 2 2 19 4 211"/>
<circle r="745.6" pathLength="360" stroke="#4660a6" stroke-dasharray="0 122 2 2 1 233"/>
<circle r="745.6" pathLength="360" stroke="#5a9ec9" stroke-dasharray="0 149 1 210"/>
<circle r="745.6" pathLength="360" stroke="#68c2dc" stroke-dasharray="0 150 1 209"/>
<circle r="747.2" pathLength="360" stroke="#4a7bb4" stroke-dasharray="0 120 3 1 1 1 1 19 3 211"/>
<circle r="747.2" pathLength="360" stroke="#4660a6" stroke-dasharray="0 123 1 236"/>
<circle r="747.2" pathLength="360" stroke="#5a9ec9" stroke-dasharray="0 125 1 19 1 3 1 210"/>
<circle r="747.2" pathLength="360" stroke="#68c2dc" stroke-dasharray="0 150 1 209"/>
<circle r="748.8" pathLength="360" stroke="#4a7bb4" stroke-dasharray="0 120 2 26 2 210"/>
<circle r="748.8" pathLength="360" stroke="#4660a6" stroke-dasharray="0 122 2 22 2 212"/>
<circle r="748.8" pathLength="360" stroke="#5468a0" stroke-dasharray="0 124 3 233"/>
<circle r="748.8" pathLength="360" stroke="#5a9ec9" stroke-dasharray="0 150 1 209"/>
<circle r="750.4" pathLength="360" stroke="#4a7bb4" stroke-dasharray="0 120 1 26 3 210"/>
<circle r="750.4" pathLength="360" stroke="#4660a6" stroke-dasharray="0 121 5 20 1 213"/>
<circle r="750.4" pathLength="360" stroke="#5468a0" stroke-dasharray="0 126 1 233"/>
<circle r="752" pathLength="360" stroke="#4a7bb4" stroke-dasharray="0 120 2 25 1 1 1 210"/>
<circle r="752" pathLength="360" stroke="#4660a6" stroke-dasharray="0 122 2 22 1 213"/>
<circle r="752" pathLength="360" stroke="#5468a0" stroke-dasharray="0 124 2 234"/>
<circle r="752" pathLength="360" stroke="#6674a6" stroke-dasharray="0 126 1 233"/>
<circle r="752" pathLength="360" stroke="#5a9ec9" stroke-dasharray="0 148 1 211"/>
<circle r="753.6" pathLength="360" stroke="#4660a6" stroke-dasharray="0 120 4 236"/>
<circle r="753.6" pathLength="360" stroke="#5468a0" stroke-dasharray="0 124 2 234"/>
<circle r="753.6" pathLength="360" stroke="#6674a6" stroke-dasharray="0 126 1 233"/>
<circle r="753.6" pathLength="360" stroke="#4a7bb4" stroke-dasharray="0 146 2 1 1 210"/>
<circle r="753.6" pathLength="360" stroke="#5a9ec9" stroke-dasharray="0 148 1 211"/>
<circle r="755.2" pathLength="360" stroke="#4a7bb4" stroke-dasharray="0 120 2 24 2 1 1 210"/>
<circle r="755.2" pathLength="360" stroke="#4660a6" stroke-dasharray="0 122 2 236"/>
<circle r="755.2" pathLength="360" stroke="#5468a0" stroke-dasharray="0 124 3 233"/>
<circle r="755.2" pathLength="360" stroke="#5a9ec9" stroke-dasharray="0 145 1 2 1 211"/>
<circle r="756.8" pathLength="360" stroke="#4660a6" stroke-dasharray="0 119 1 2 2 236"/>
<circle r="756.8" pathLength="360" stroke="#5468a0" stroke-dasharray="0 120 2 4 1 233"/>
<circle r="756.8" pathLength="360" stroke="#4a7bb4" stroke-dasharray="0 124 2 23 1 210"/>
<circle r="756.8" pathLength="360" stroke="#5a9ec9" stroke-dasharray="0 145 4 211"/>
<circle r="758.4" pathLength="360" stroke="#4660a6" stroke-dasharray="0 119 6 235"/>
<circle r="758.4" pathLength="360" stroke="#4a7bb4" stroke-dasharray="0 125 1 234"/>
<circle r="758.4" pathLength="360" stroke="#5468a0" stroke-dasharray="0 126 1 233"/>
<circle r="758.4" pathLength="360" stroke="#5a9ec9" stroke-dasharray="0 145 2 1 2 210"/>
<circle r="758.4" pathLength="360" stroke="#68c2dc" stroke-dasharray="0 147 1 212"/>
<circle r="760" pathLength="360" stroke="#4660a6" stroke-dasharray="0 119 3 2 2 234"/>
<circle r="760" pathLength="360" stroke="#4a7bb4" stroke-dasharray="0 122 2 24 2 210"/>
<circle r="760" pathLength="360" stroke="#5468a0" stroke-dasharray="0 126 1 233"/>
<circle r="760" pathLength="360" stroke="#5a9ec9" stroke-dasharray="0 145 3 212"/>
<circle r="761.6" pathLength="360" stroke="#4660a6" stroke-dasharray="0 119 1 240"/>
<circle r="761.6" pathLength="360" stroke="#5468a0" stroke-dasharray="0 120 6 234"/>
<circle r="761.6" pathLength="360" stroke="#6674a6" stroke-dasharray="0 126 1 233"/>
<circle r="761.6" pathLength="360" stroke="#5a9ec9" stroke-dasharray="0 145 4 211"/>
<circle r="763.2" pathLength="360" stroke="#4660a6" stroke-dasharray="0 119 7 234"/>
<circle r="763.2" pathLength="360" stroke="#6674a6" stroke-dasharray="0 126 1 233"/>
<circle r="763.2" pathLength="360" stroke="#5a9ec9" stroke-dasharray="0 145 3 212"/>
<circle r="764.8" pathLength="360" stroke="#4a7bb4" stroke-dasharray="0 119 1 240"/>
<circle r="764.8" pathLength="360" stroke="#4660a6" stroke-dasharray="0 120 1 3 3 233"/>
<circle r="764.8" pathLength="360" stroke="#5468a0" stroke-dasharray="0 121 3 236"/>
<circle r="764.8" pathLength="360" stroke="#68c2dc" stroke-dasharray="0 145 1 214"/>
<circle r="764.8" pathLength="360" stroke="#5a9ec9" stroke-dasharray="0 146 1 213"/>
<circle r="766.4" pathLength="360" stroke="#5468a0" stroke-dasharray="0 120 4 2 1 233"/>
<circle r="766.4" pathLength="360" stroke="#4660a6" stroke-dasharray="0 124 2 234"/>
<circle r="766.4" pathLength="360" stroke="#5a9ec9" stroke-dasharray="0 145 1 214"/>
<circle r="766.4" pathLength="360" stroke="#4a7bb4" stroke-dasharray="0 146 1 213"/>
<circle r="768" pathLength="360" stroke="#6674a6" stroke-dasharray="0 120 1 239"/>
<circle r="768" pathLength="360" stroke="#5468a0" stroke-dasharray="0 121 1 3 1 234"/>
<circle r="768" pathLength="360" stroke="#4660a6" stroke-dasharray="0 124 1 235"/>
<circle r="768" pathLength="360" stroke="#68c2dc" stroke-dasharray="0 145 1 214"/>
<circle r="769.6" pathLength="360" stroke="#6674a6" stroke-dasharray="0 120 1 239"/>
<circle r="769.6" pathLength="360" stroke="#5468a0" stroke-dasharray="0 124 2 234"/>
</g></g>

<g stroke="#808080" stroke-width="1.3" fill="none" stroke-linejoin="round">
<polyline points="471.5,454.2 478.9,452.4 484.4,453.3 495.5,449.6 499.2,442.2 498.3,434.8 502.9,433 514,429.3 519.6,433.9 523.3,441.3 530.7,444.1 540.8,449.6 549.2,447.8 550.1,453.3 543.6,458.9 539.9,466.3 543.6,473.7 544.5,481.1 543.6,490.3 538.1,499.6 534.4,507 533.4,514.4 527,519.9 525.1,527.3 523.3,531.9 519.6,536.6 518.6,542.1 519.6,551.4 527,552.3 538.1,549.5 551,546.7 558.4,549.5 563,551.4 567.7,556.9 576.9,552.3 586.2,550.4 597.3,551.4 601,560.6 606.5,568 615.8,568 618.5,573.6 626.9,579.1 630.6,586.5 631.2,595"/>
<polyline points="451.1,519.9 462.2,524.5 469.6,519.9 476.1,510.7 480.7,516.2 486.3,525.5 491.8,515.3 494.6,520.8 498.3,530.1 504.8,524.5 512.2,526.4 517.7,531 522.3,533.8"/>
<polyline points="544.5,475.5 551,473.7 558.4,462.6 564,457.9 569.5,459.8 575.1,464.4 586.2,462.6 588,473.7 593.6,475.5"/>
<polyline points="567.7,459.8 565.8,475.5 564,486.6 569.5,497.7 580.6,507 589.9,514.4 597.3,522.7 604.7,514.4 615.8,511.6"/>
<polyline points="539.9,549.5 538.1,558.8 532.5,566.2 527,571.7 526.2,582.5 522,588.7 525.1,597 528.2,605.4 528.2,611.6 529.3,624.1 540.7,625.1 549,626.2 555.3,623 561.5,626.2 571.9,626.2 582.3,629.3 592.7,629.3 603.1,630.3 611.4,631.4 626,631.4 630.1,636.6 634.3,647 636.4,655.3 642.6,659.4 644.7,665.7 651,666.7 657.2,671.9 665.5,674 669.7,678.2"/>
<polyline points="640,538.4 630.6,539.3 626.9,547.7 628.7,553.2 625,560.6 619.5,571.7"/>
<polyline points="486.6,614.7 490.8,614.7 499.1,619.9 507.4,617.8 515.8,611.6 525.1,609.5 528.2,609.5"/>
<polyline points="482.5,694.8 487.7,700 489.8,707.3 492.9,705.2 497,701 505.4,697.9 513.7,693.8 521,694.8 527.2,690.6 531.4,688.6 538.6,686.5 549,683.4 555.3,683.4 559.4,688.6 565.7,694.8 571.9,697.9 580.2,702.1 586.5,706.2 590.6,713.5 588.6,722.9 594.8,719.8 603.1,716.6 611.4,713.5 613.5,719.8 615.6,728.1"/>
<polyline points="529.3,674 530.3,682.3 531.4,688.6"/>
<polyline points="529.3,674 540.7,669.8 545.9,661.5 548,653.2 554.2,645.9 559.4,647 564.6,650.1 565.7,640.7 562.6,632.4 562.6,626.2"/>
<polyline points="612.5,713.5 612.5,703.1 615.6,694.8 623.9,692.7 634.3,686.5 638.5,683.4 633.3,678.2 634.3,671.9 642.6,665.7"/>
<polyline points="592.7,629.3 595.8,623 595.8,613.7 601,607.4 607.3,601.2 615.6,595 626,596 631.2,595 638.5,601.2 647.8,607.4 653,604.3 667.6,601.2 671.7,592.9 678,592.9 688.4,603.3 694.6,598.1 700.9,598.1 713.3,602.2"/>
<polyline points="528.2,605.4 529.3,624.1"/>
</g>
<g stroke="#000" stroke-width="2.8" fill="none" stroke-linejoin="round" stroke-linecap="round">
<polyline points="578,44 578,46.7 580.8,51.7 582.5,55.8 585.8,59.1 589.1,62.5 590.8,67.5 593.3,70.8 594.9,75.8 590.8,77.5 594.9,82.5 597.4,85 595.8,88.3 598.3,87.5 600.8,83.6 608.3,84.6 616.6,88.3 624.9,86.6 629.1,89.1 628.2,93.3 624.9,97.4 620.8,100.8 621.6,104.1 618.3,107.4 613.3,109.1 611.6,113.3 605.8,117.4 604.1,120.8 597.4,124.1 593.3,128.2 594.1,136.6 599.1,139.1 602.4,141.6 599.1,144.9 600.8,149.1 605.8,149.9 608.3,154.9 610.8,159.9 612.4,164 616.6,161.5 621.6,159.5 624.1,161.5 628.2,158.5 633.2,159.9 635.7,162.4 643.2,160.2 646.6,163.2 653.2,166.5 659,168.2 655.7,169.9 654.9,176.5 654.1,181.5 656.5,185.7 661.5,187.4 666.5,187.4 668.2,193.2 669,198.2 667.4,202.3 664.9,208.2 665.7,213.2 665.7,215 661.6,222.5 655.7,230 659.9,234.1 664.1,238.3 665.7,243.3 670.7,246.6 676.5,251.6 679.9,256.6 679.9,263.3 671.6,264.9 667.4,269.1 662.4,269.1 664.1,273.3 659.9,271.6 654.1,266.6 650.7,263.3 643.2,264.9 641.6,271.6 638.3,274.9 635.8,281.6 634.9,288.3 631.6,294.9 625.8,295.7 617.4,299.1 609.1,301.6 605,304.9 602.5,311.6 595.8,313.2 592.5,316.6 590.8,322.4 595.8,326.6 598.3,332.4 599.1,338.2 599.1,344.9 592.5,346.5 585.8,349 581.6,351.5 580.8,356.5 579.1,362.3 579.1,372.3 578.3,378.2 577.5,384.8 578.9,387.4 576.1,394.8 573.3,400.4 575.2,407.8 571.5,415.2 576.1,420.7 578.9,428.1 577.9,433.7 582.6,437.4 578.9,439.2 584.4,443.8 582.6,449.4 585.3,454 590,457.7 592.7,459.6 590.9,465.1 594.6,473.4 596.4,476.2 599.2,467.9 601.1,472.5 602.9,479 605.7,475.3 611.2,479 613.1,486.4 611.2,492.9 614.9,497.5 614,502.1 615.9,507.7 619.6,511.4 624.2,516.9 630.7,519.7 636.2,520.6 639,526.2 643.6,523.4 646.4,528 646.4,534.5 648.2,542.8 651.9,542.8 653.8,537.3 658.4,535.4 665.8,535.4 671.4,542.8 676.9,551.1 682.5,553.9 688,554.8 688.9,558.5 693.6,555.8 697.3,556.7 702.8,551.1 707.4,553.9 712.1,556.7 717.6,558.5 720.4,563.2 722.2,556.7 725,559.5 724.1,564.1 720.4,566.9 716.7,570.6 719.5,576.1 721.2,578.5 721.2,585.9 714.7,589.6 714.7,604.4 712.5,607.2 720.3,608.1 716.6,613.7 711,619.2 700.8,625.7 694.4,633.1 687.9,638.6 687,643.3 691.6,646 688.8,654.4 685.1,665.5 681.4,670.1 674,678.4 669.4,681.2 666.6,685.8 670.3,690.4 663.8,691.4 662,695.1 669.4,702.5 667.5,708 662,715.4 662,721 663.8,730.2 664.8,741.3 664.8,754.3 665.1,758"/>
<polyline points="579.1,362.3 576.7,361.5 573.3,369.8 580,370.7 585.8,367.3 583.3,362.3 579.1,362.3"/>
<polyline points="665.1,756 675.9,754.3 685.1,748.7 690.7,752.4 696.3,754.9 701,754.2 708.9,762 713.6,763.6 723,771.5 727.7,772.2 734.8,780.9 728.5,785.6 729.3,791.9 735.6,798.2 745,800.5 746.6,809.2 751.3,810.8 747.4,819.4 743.5,817.1 738,817.1 738.8,823.3 743.5,829.6 749,832 747.4,836.7 754.5,844.6 759.2,847.7 770.2,857.2 776.5,859.5 776.1,860 774.1,870.2 779.2,873.2 784.3,878.3 784.3,893.6 788.3,896.7 795.5,893.6 799.6,901.8 792.4,912 796.5,920.1 802.6,925.2 810.8,924.2 817.9,923.2 827.1,928.3 837.3,932.4 842.4,929.3 841.3,920.1 847.5,918.1 845.4,910 842.4,901.8 839.3,897.7 847.5,892.6 851.5,895.7 859.7,899.7 867.8,893.6 876,892.6 883.1,902.8 890.3,899.7 900.5,908.9 911.7,909.9 910.6,925.2 915.7,939.5 916.8,952.7 920.8,954.8 924.9,947.6 932,944.6 930,931.3 937.1,930.3 940.2,932.4 937.1,938.5 944.3,937.5 949.4,945.6 957.5,949.7 959.6,945.6 966.7,944.6 972.8,952.7 975.9,947.6 989.1,944.6 996.3,947.6 1003.4,948.7 1003.4,952.7 1008.5,952.7 1009.5,949.7 1013,950.7"/>
<polyline points="461.6,711.2 467.4,713.6 470.9,717.1 468.6,721.7 472.1,728.7 479.1,734.5 489.6,736.9 497.7,734.5 508.2,735.7 516.4,740.4 518.7,752 522.2,757.8 521,762.5 530.3,760.2 539.6,762.5 544.3,764.8 550.1,754.3 556,755.5 565.3,762.5 567.6,753.2 573.4,749.7 576.9,740.4 583.9,741.5 588.6,738 587.4,732.2 593.2,729.9 600,731.1 609.3,730.2 618.5,728.4 629.6,733 634.2,737.6 638.9,744.1 648.1,748.7 655.5,753.3 662.9,756.1 665.1,757"/>
<polyline points="576.7,361.5 574.8,360 573.2,355 566.5,350.8 559,350 557.4,356.6 553.2,360 546.5,357.5 539.9,353.3 538.2,345 528.2,347.5 517.4,350.8 514.9,360 512.4,370.8 501.6,377.5 493.3,385 490.8,393.3 488.3,404.1 480.8,408.3 477.4,413.2 476.6,423.2 473.3,433.2 465.8,440.7 465,448.2 470,454.9 470,461.5 462.5,464.9 460,469.9 453.3,470.7 447.5,473.2 446.6,483.2 441.6,494.8 436.6,500.7 434.3,504.6 435.3,509.4 445,514.3 450.8,519.1 447.9,524 439.1,525 438.2,531.8 436.2,540.5 436.2,552.2 439.1,559.9 440.1,566.7 448.9,566.7 453.7,571.6 458.6,581.3 464.4,593 467.3,606.6 477,606.6 483.8,611.4 488.7,616.3 482.9,622.1 481.9,629.9 485.8,636.7 495.5,640.6 495.5,655.1 485.8,656.1 483.8,665.8 481.4,671.6 475.6,678.6 474.4,683.3 482.6,685.6 482.6,692.6 474.4,699.6 465.1,706.6 460.4,708.9 461.6,711.2"/>
<polyline points="84,474.5 86,474.7 99.2,479.5 108.9,489.1 116.1,501.1 113.7,515.6 106.5,522.8 104,532.4 108.9,544.4 110.1,558.9 105.3,567.3 111.3,569.7 120.9,572.1 131.7,570.9 140.1,564.9 149.7,563.7 157,564.9 163,570.9 171.4,578.1 180,583.4 185.5,585.7 191.8,584.2 195.7,588.1 200.4,597.5 204.4,606.2 204.4,610.9 211.5,615.6 215.4,611.7 218.5,614 220.9,624.3 227.2,625 235.8,624.3 239.8,627.4 249.2,628.2 257.8,623.5 261.8,628.2 268.1,633.7 274.4,639.2 282.2,647.1 274.4,654.9 272,661.2 274.4,670.6 283,668.3 285.4,664.4 287.7,660.4 292.4,662.8 304.2,667.5 310.5,673.8 318.4,682.4 320,694.2 327,698.2 323.1,706 327.8,712.3 331.8,717 331,723.3 324.7,725.7 329.4,732 331.8,736.7 338.2,731 346.3,729.9 358,726.4 364.9,719.4 374.3,721 380.1,725.2 384.7,731 388.2,718.2 394.1,708.9 402.2,705.4 411.5,707.8 419.7,712.4 427.8,710.1 433.7,712.4 438.3,710.1 439.5,701.9 445.3,699.6 453.5,705.4 460.4,708.9"/>
<polyline points="84,363.5 86,362.8 93.2,353.2 96.8,359.2 104,361.6 113.7,360.4 117.3,367.7 120.9,370.1 113.7,376.1 111.3,382.1 112.5,396.5 108.9,397.7 105.3,391.7 100.4,395.3 98,409.7 92,412.2 95.6,417 99.2,425.4 94.4,436.2 92,450.6 87.2,457.8 84,460.5"/>
</g>
<circle cx="732" cy="386.6" r="5" fill="#ff0000" stroke="#000" stroke-width="1"/>
</g>
<rect x="85.5" y="45.5" width="925" height="1001" fill="none" stroke="#000" stroke-width="1"/>
<rect x="97.5" y="53.5" width="218" height="49.7" fill="#fff" fill-opacity="0.9" stroke="#000" stroke-width="1"/>
<text class="t" x="102.60" y="72.70" font-size="17.66" textLength="69.57" lengthAdjust="spacingAndGlyphs">Product:</text><text class="t" x="177.47" y="72.70" font-size="17.66" textLength="34.85" lengthAdjust="spacingAndGlyphs">0.8°</text><text class="t" x="217.61" y="72.70" font-size="17.66" textLength="93.83" lengthAdjust="spacingAndGlyphs">Reflectivity</text>
<text class="t" x="102.60" y="92.70" font-size="17.66" textLength="45.42" lengthAdjust="spacingAndGlyphs">Data:</text><text class="t" x="153.32" y="92.70" font-size="17.66" textLength="42.16" lengthAdjust="spacingAndGlyphs">DWD</text>
<g fill="#000">
<text class="t" x="19.68" y="165.80" font-size="17.66" textLength="57.92" lengthAdjust="spacingAndGlyphs">50.5°N</text>
<text class="t" x="9.07" y="310.80" font-size="17.66" textLength="68.53" lengthAdjust="spacingAndGlyphs">50.25°N</text>
<text class="t" x="35.58" y="454.80" font-size="17.66" textLength="42.02" lengthAdjust="spacingAndGlyphs">50°N</text>
<text class="t" x="9.07" y="597.80" font-size="17.66" textLength="68.53" lengthAdjust="spacingAndGlyphs">49.75°N</text>
<text class="t" x="19.68" y="739.80" font-size="17.66" textLength="57.92" lengthAdjust="spacingAndGlyphs">49.5°N</text>
<text class="t" x="9.07" y="881.80" font-size="17.66" textLength="68.53" lengthAdjust="spacingAndGlyphs">49.25°N</text>
<text class="t" x="35.58" y="1022.80" font-size="17.66" textLength="42.02" lengthAdjust="spacingAndGlyphs">49°N</text>
<text class="t" x="144.26" y="1067.00" font-size="17.66" textLength="29.47" lengthAdjust="spacingAndGlyphs">5°E</text>
<text class="t" x="321.31" y="1067.00" font-size="17.66" textLength="45.38" lengthAdjust="spacingAndGlyphs">5.5°E</text>
<text class="t" x="514.26" y="1067.00" font-size="17.66" textLength="29.47" lengthAdjust="spacingAndGlyphs">6°E</text>
<text class="t" x="691.31" y="1067.00" font-size="17.66" textLength="45.38" lengthAdjust="spacingAndGlyphs">6.5°E</text>
<text class="t" x="884.26" y="1067.00" font-size="17.66" textLength="29.47" lengthAdjust="spacingAndGlyphs">7°E</text>
</g>
<g>
<rect x="1068.5" y="963.84" width="45" height="32.46" fill="#6674a6"/>
<rect x="1068.5" y="931.68" width="45" height="32.46" fill="#5468a0"/>
<rect x="1068.5" y="899.52" width="45" height="32.46" fill="#4660a6"/>
<rect x="1068.5" y="867.36" width="45" height="32.46" fill="#4a7bb4"/>
<rect x="1068.5" y="835.20" width="45" height="32.46" fill="#5a9ec9"/>
<rect x="1068.5" y="803.04" width="45" height="32.46" fill="#68c2dc"/>
<rect x="1068.5" y="770.87" width="45" height="32.46" fill="#5fd8c2"/>
<rect x="1068.5" y="738.71" width="45" height="32.46" fill="#3dd46f"/>
<rect x="1068.5" y="706.55" width="45" height="32.46" fill="#12c61e"/>
<rect x="1068.5" y="674.39" width="45" height="32.46" fill="#12b41a"/>
<rect x="1068.5" y="642.23" width="45" height="32.46" fill="#109e16"/>
<rect x="1068.5" y="610.07" width="45" height="32.46" fill="#0c8a12"/>
<rect x="1068.5" y="577.91" width="45" height="32.46" fill="#0a7610"/>
<rect x="1068.5" y="545.75" width="45" height="32.46" fill="#08620c"/>
<rect x="1068.5" y="513.59" width="45" height="32.46" fill="#4a7a0a"/>
<rect x="1068.5" y="481.43" width="45" height="32.46" fill="#acb00a"/>
<rect x="1068.5" y="449.27" width="45" height="32.46" fill="#ffd500"/>
<rect x="1068.5" y="417.11" width="45" height="32.46" fill="#ffb600"/>
<rect x="1068.5" y="384.95" width="45" height="32.46" fill="#ff9a00"/>
<rect x="1068.5" y="352.79" width="45" height="32.46" fill="#ff7a00"/>
<rect x="1068.5" y="320.63" width="45" height="32.46" fill="#e60000"/>
<rect x="1068.5" y="288.46" width="45" height="32.46" fill="#c40000"/>
<rect x="1068.5" y="256.30" width="45" height="32.46" fill="#a00000"/>
<rect x="1068.5" y="224.14" width="45" height="32.46" fill="#7c0000"/>
<rect x="1068.5" y="191.98" width="45" height="32.46" fill="#ffe0ff"/>
<rect x="1068.5" y="159.82" width="45" height="32.46" fill="#ffb2ff"/>
<rect x="1068.5" y="127.66" width="45" height="32.46" fill="#ff66ff"/>
<rect x="1068.5" y="95.50" width="45" height="32.46" fill="#e838f0"/>
</g>
<rect x="1068.5" y="95.5" width="45" height="900.5" fill="none" stroke="#000" stroke-width="1"/>
<g stroke="#000" stroke-width="1">
<line x1="1113.5" y1="996.50" x2="1118.3" y2="996.50"/>
<line x1="1113.5" y1="867.50" x2="1118.3" y2="867.50"/>
<line x1="1113.5" y1="738.50" x2="1118.3" y2="738.50"/>
<line x1="1113.5" y1="610.50" x2="1118.3" y2="610.50"/>
<line x1="1113.5" y1="481.50" x2="1118.3" y2="481.50"/>
<line x1="1113.5" y1="352.50" x2="1118.3" y2="352.50"/>
<line x1="1113.5" y1="224.50" x2="1118.3" y2="224.50"/>
<line x1="1113.5" y1="95.50" x2="1118.3" y2="95.50"/>
</g>
<g>
<text class="t" x="1123.20" y="1006.10" font-size="29.44" textLength="17.67" lengthAdjust="spacingAndGlyphs">0</text>
<text class="t" x="1123.20" y="877.46" font-size="29.44" textLength="35.35" lengthAdjust="spacingAndGlyphs">10</text>
<text class="t" x="1123.20" y="748.81" font-size="29.44" textLength="35.35" lengthAdjust="spacingAndGlyphs">20</text>
<text class="t" x="1123.20" y="620.17" font-size="29.44" textLength="35.35" lengthAdjust="spacingAndGlyphs">30</text>
<text class="t" x="1123.20" y="491.53" font-size="29.44" textLength="35.35" lengthAdjust="spacingAndGlyphs">40</text>
<text class="t" x="1123.20" y="362.89" font-size="29.44" textLength="35.35" lengthAdjust="spacingAndGlyphs">50</text>
<text class="t" x="1123.20" y="234.24" font-size="29.44" textLength="35.35" lengthAdjust="spacingAndGlyphs">60</text>
<text class="t" x="1123.20" y="105.60" font-size="29.44" textLength="35.35" lengthAdjust="spacingAndGlyphs">70</text>
</g>
<g transform="translate(1187 548.1) rotate(-90)"><text class="t" x="-27.86" y="0.00" font-size="29.44" textLength="55.72" lengthAdjust="spacingAndGlyphs">dBZ</text></g>
<text class="t" x="352.11" y="38.00" font-size="36.79" textLength="198.79" lengthAdjust="spacingAndGlyphs">26.10.2025</text><text class="t" x="561.94" y="38.00" font-size="36.79" textLength="100.06" lengthAdjust="spacingAndGlyphs">18:25</text><text class="t" x="673.03" y="38.00" font-size="36.79" textLength="70.86" lengthAdjust="spacingAndGlyphs">UTC</text>
</svg>
</body></html>
